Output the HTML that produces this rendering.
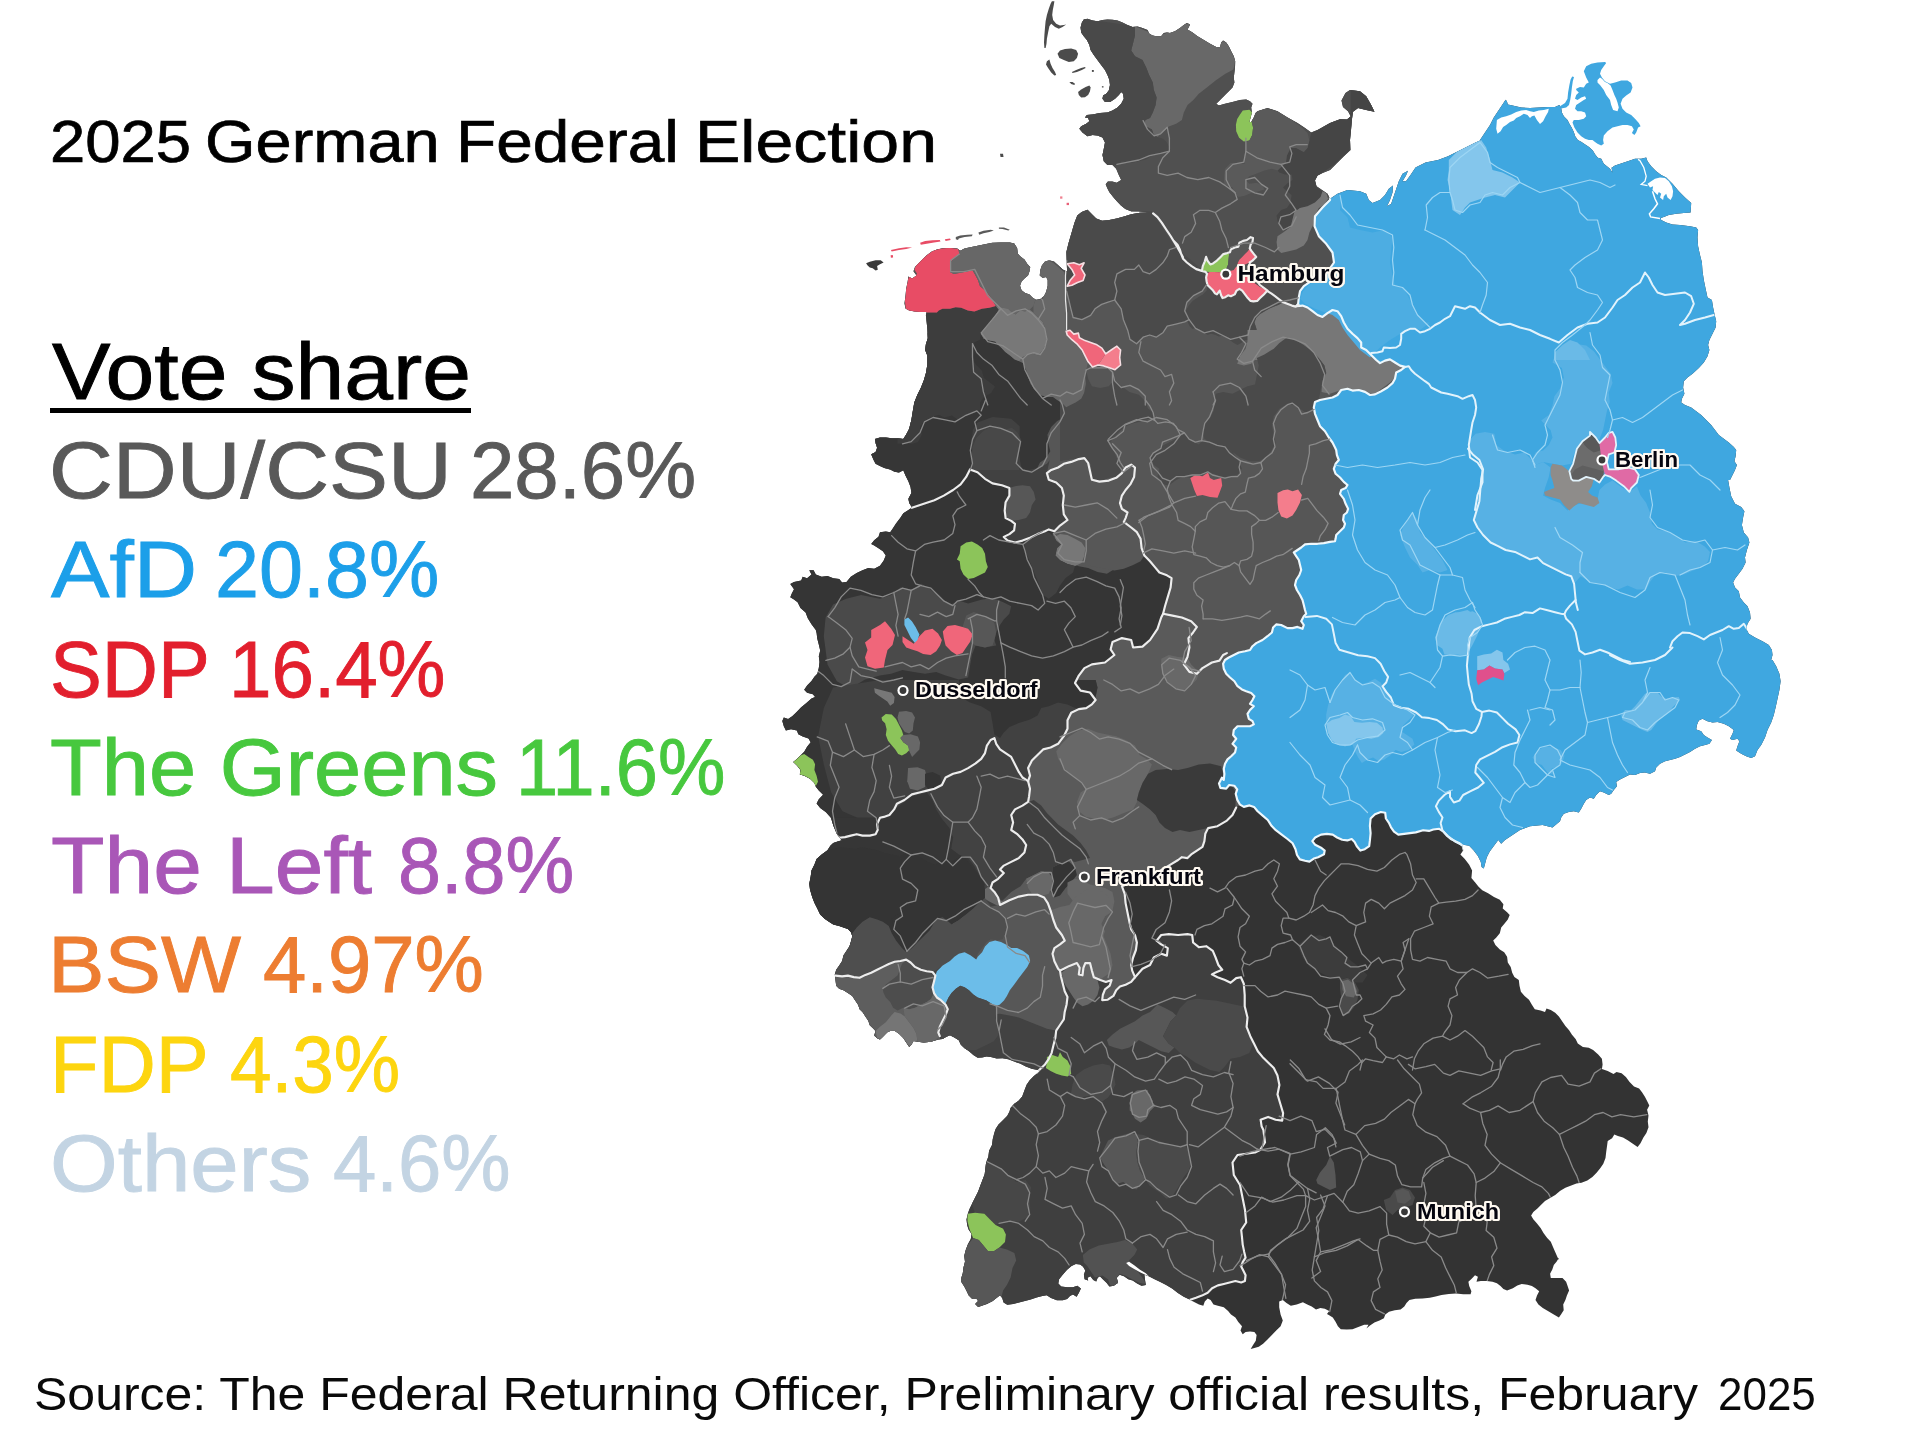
<!DOCTYPE html>
<html lang="en"><head><meta charset="utf-8"><title>2025 German Federal Election</title>
<style>
html,body{margin:0;padding:0;background:#fff;}
body{width:1920px;height:1451px;position:relative;overflow:hidden;font-family:"Liberation Sans",sans-serif;}
#map{position:absolute;left:0;top:0;width:1920px;height:1451px;}
.t{position:absolute;white-space:nowrap;line-height:1;transform-origin:0 0;-webkit-text-stroke:0.9px currentColor;}
.t0{-webkit-text-stroke:0.7px currentColor;}
#t10{-webkit-text-stroke:0;}
</style></head><body>
<svg id="map" viewBox="0 0 1920 1451" width="1920" height="1451">
<defs><clipPath id="ger"><polygon points="1083.8,19.4 1087.5,18.8 1092.5,20.6 1097.5,21.2 1102.5,20.0 1107.5,19.4 1112.5,19.8 1117.5,20.6 1122.5,22.5 1127.5,25.0 1132.5,26.9 1137.5,26.5 1142.5,28.1 1147.5,30.0 1149.4,33.8 1152.5,35.6 1156.2,36.2 1161.2,36.2 1163.8,33.1 1166.9,32.5 1170.0,33.1 1175.0,31.2 1180.0,28.1 1183.8,25.0 1186.9,23.1 1190.0,24.4 1188.8,26.9 1187.5,29.4 1192.5,32.5 1197.5,36.2 1203.8,40.0 1210.0,43.8 1216.2,46.9 1220.0,47.5 1221.2,42.5 1223.1,40.6 1226.2,42.5 1228.8,46.2 1231.2,51.2 1233.8,56.2 1235.2,61.2 1235.0,67.5 1234.4,72.5 1233.8,77.5 1234.4,82.5 1232.5,87.5 1227.5,92.5 1222.5,97.5 1218.8,101.2 1216.2,103.8 1218.8,105.6 1225.0,103.8 1232.5,101.9 1240.0,100.0 1246.2,99.4 1250.0,101.2 1252.5,103.8 1251.2,107.5 1251.9,112.5 1250.6,117.5 1249.4,121.9 1251.2,121.9 1253.8,117.5 1255.6,113.1 1257.5,111.2 1267.5,108.0 1277.5,111.2 1287.5,117.5 1297.5,123.0 1305.0,128.0 1311.2,132.5 1317.5,130.0 1330.0,123.0 1340.0,119.2 1347.0,119.5 1350.8,116.2 1348.0,111.2 1343.0,107.0 1341.5,100.5 1345.5,93.0 1350.0,90.0 1360.0,91.2 1366.2,96.2 1371.2,105.0 1374.5,111.8 1366.2,110.0 1358.0,108.0 1353.0,111.8 1352.0,118.8 1351.0,130.0 1350.0,140.0 1350.5,150.0 1343.8,156.2 1337.5,162.5 1330.0,170.0 1322.5,173.0 1317.5,175.5 1315.0,180.5 1316.5,186.2 1322.0,190.0 1327.5,193.8 1330.0,198.8 1337.5,193.8 1347.5,190.0 1360.0,191.2 1366.2,193.8 1368.8,200.0 1372.5,203.0 1380.0,200.0 1385.0,195.0 1388.8,188.8 1393.0,185.5 1392.5,192.5 1390.0,200.0 1387.0,206.2 1391.2,203.8 1395.0,192.5 1398.8,181.2 1402.5,173.8 1408.0,170.8 1406.0,175.5 1402.5,181.2 1406.0,181.2 1410.5,175.0 1415.5,167.5 1425.5,162.5 1438.0,160.0 1448.0,156.2 1458.0,151.2 1468.0,146.2 1475.5,142.5 1481.2,140.0 1480.0,140.0 1485.0,132.5 1490.0,125.0 1493.8,117.5 1498.8,110.0 1503.8,102.5 1505.6,99.8 1506.9,101.2 1507.8,104.4 1512.5,105.6 1521.2,107.5 1530.0,108.1 1538.8,107.5 1547.5,106.9 1555.0,106.9 1559.4,105.0 1561.2,108.1 1561.9,112.5 1563.8,116.2 1567.5,120.0 1569.4,123.8 1571.9,128.1 1573.8,131.9 1575.2,136.2 1577.8,140.0 1581.5,141.9 1585.2,144.4 1589.0,146.9 1592.8,150.6 1595.2,154.4 1597.8,157.8 1601.2,158.8 1603.8,163.8 1610.0,168.8 1612.5,172.5 1611.5,167.8 1615.0,165.6 1622.5,163.1 1630.0,160.6 1635.0,158.8 1641.2,158.8 1646.2,157.5 1647.5,161.2 1651.2,166.2 1656.2,171.2 1661.2,175.0 1666.2,177.5 1672.5,183.8 1678.8,191.2 1685.0,197.5 1691.2,203.1 1690.6,212.5 1683.8,213.1 1676.2,213.8 1668.8,215.0 1663.8,216.9 1660.6,218.1 1661.2,220.0 1666.2,222.5 1672.5,224.4 1680.0,225.0 1690.0,226.2 1696.2,227.5 1698.1,230.0 1697.5,237.5 1698.1,246.2 1700.0,255.0 1701.9,262.5 1702.5,271.2 1703.8,280.0 1705.6,288.8 1707.5,297.5 1711.9,300.0 1713.1,307.5 1714.4,313.8 1716.2,321.2 1715.6,327.5 1712.5,333.8 1709.4,340.0 1708.1,345.0 1709.4,350.0 1707.5,356.2 1703.8,362.5 1698.8,368.1 1692.5,373.8 1687.5,377.5 1683.8,381.2 1683.1,387.5 1684.4,393.8 1681.9,398.8 1681.2,402.5 1685.0,405.0 1691.2,407.5 1696.2,411.2 1701.2,415.0 1706.2,420.0 1711.2,425.0 1715.0,430.0 1718.8,435.0 1723.8,438.8 1728.8,442.5 1733.8,446.9 1736.2,450.0 1735.6,456.2 1734.4,461.2 1736.9,465.0 1735.0,470.0 1732.5,475.0 1730.0,480.0 1728.1,480.0 1729.4,487.5 1731.2,496.2 1735.0,503.8 1741.2,506.9 1744.4,511.2 1743.1,517.5 1741.9,525.0 1743.8,532.5 1748.1,537.5 1749.4,542.5 1746.9,550.0 1745.0,557.5 1745.6,562.5 1742.5,568.8 1738.8,573.8 1735.0,578.8 1733.1,582.5 1735.0,587.5 1738.8,591.2 1740.0,597.5 1743.8,602.5 1747.5,606.2 1750.0,612.5 1750.6,618.8 1747.5,623.8 1746.2,628.8 1748.8,633.8 1755.0,637.5 1762.5,641.2 1768.8,645.0 1771.9,650.0 1772.5,655.0 1771.2,660.0 1772.5,660.0 1776.2,666.2 1779.4,673.8 1780.6,681.2 1779.4,690.0 1777.5,698.8 1775.6,707.5 1773.8,715.0 1771.2,722.5 1767.5,730.0 1765.0,737.5 1761.2,745.0 1757.5,750.0 1755.0,756.2 1751.2,758.1 1746.2,756.2 1741.2,753.8 1736.2,750.6 1737.5,746.2 1739.4,741.2 1737.5,738.8 1732.5,740.0 1730.0,738.8 1732.5,733.8 1733.8,730.0 1728.8,726.2 1723.8,723.8 1717.5,721.9 1712.5,722.5 1707.5,721.2 1702.5,718.8 1698.8,720.6 1696.9,725.0 1696.2,729.4 1701.2,731.2 1703.8,735.0 1707.5,737.5 1711.9,740.0 1709.4,743.8 1705.0,745.0 1700.0,746.2 1695.0,748.8 1690.0,751.9 1685.0,754.4 1680.0,756.9 1675.0,758.8 1670.0,760.0 1665.0,761.2 1660.0,763.8 1656.2,767.5 1655.0,771.2 1650.0,773.8 1645.0,772.5 1640.0,773.1 1635.0,775.0 1630.0,774.4 1625.0,776.9 1620.0,779.4 1616.2,781.9 1616.9,786.2 1613.8,790.0 1611.2,793.8 1608.8,795.0 1603.8,792.5 1600.0,791.2 1596.2,795.0 1593.8,798.8 1590.0,797.5 1586.2,800.0 1583.8,803.8 1581.2,808.8 1578.8,812.5 1573.8,811.2 1568.8,811.9 1563.8,813.8 1561.2,817.5 1560.0,821.2 1560.0,821.2 1552.5,827.5 1542.5,825.0 1530.0,826.2 1520.0,830.0 1512.5,835.0 1505.0,840.0 1501.2,843.8 1498.3,840.0 1494.0,845.8 1489.6,851.7 1486.7,857.5 1485.2,863.3 1483.8,868.4 1481.6,867.0 1480.8,861.9 1477.9,856.0 1473.5,850.2 1469.2,845.8 1461.9,844.4 1463.3,850.2 1460.4,854.6 1464.8,859.0 1469.2,864.8 1472.1,870.6 1471.4,877.9 1475.0,882.3 1478.6,886.7 1482.3,890.3 1488.1,893.2 1494.0,896.9 1499.8,899.8 1503.4,904.2 1502.7,908.5 1507.1,912.2 1509.7,915.1 1507.8,919.5 1504.2,923.9 1501.2,927.5 1499.8,933.3 1496.1,937.7 1493.2,940.6 1495.4,945.0 1499.8,949.4 1504.2,952.3 1507.1,956.7 1507.8,962.5 1510.7,966.9 1512.2,972.7 1514.4,977.1 1518.8,980.0 1519.5,985.8 1520.9,991.7 1524.6,996.0 1529.0,999.7 1531.9,1004.8 1534.8,1009.2 1540.6,1010.6 1545.0,1012.1 1546.5,1008.4 1550.8,1009.9 1555.2,1012.8 1558.9,1016.5 1561.8,1020.8 1565.4,1025.9 1569.1,1030.3 1572.0,1034.7 1575.6,1039.1 1577.8,1043.4 1582.9,1047.1 1588.8,1047.8 1593.1,1050.0 1593.1,1050.0 1598.2,1054.4 1601.9,1058.8 1602.6,1064.6 1601.9,1069.0 1607.7,1071.1 1613.5,1074.1 1616.5,1071.9 1621.6,1073.3 1625.9,1077.0 1629.6,1082.1 1634.0,1086.5 1639.1,1088.6 1642.0,1092.3 1644.9,1096.7 1647.1,1101.0 1649.3,1105.4 1647.1,1109.8 1648.5,1115.6 1647.8,1121.5 1648.5,1127.3 1646.4,1133.1 1643.4,1137.5 1640.5,1143.3 1637.6,1147.0 1633.2,1144.1 1628.1,1140.4 1623.0,1137.5 1617.9,1136.0 1614.3,1134.6 1612.1,1138.2 1607.7,1141.1 1607.0,1146.2 1606.2,1152.1 1605.5,1157.9 1603.3,1163.8 1600.4,1168.1 1596.8,1172.5 1592.4,1176.9 1587.3,1180.5 1581.5,1182.7 1576.4,1183.4 1571.2,1185.6 1565.4,1187.8 1560.3,1190.7 1555.2,1195.1 1550.1,1198.0 1545.0,1200.9 1541.4,1204.6 1537.7,1208.2 1533.3,1211.9 1531.1,1215.5 1533.3,1219.2 1537.0,1223.5 1540.6,1227.9 1543.5,1233.0 1547.2,1238.1 1550.8,1241.8 1553.0,1246.9 1555.2,1252.0 1557.4,1257.1 1558.9,1260.0 1558.9,1257.7 1556.7,1261.4 1553.8,1265.0 1552.3,1269.4 1550.1,1273.8 1550.8,1278.1 1556.7,1278.1 1562.5,1278.1 1566.1,1281.8 1567.6,1286.1 1569.1,1290.5 1566.9,1295.6 1565.4,1300.0 1563.2,1304.4 1563.7,1310.2 1561.0,1314.6 1558.9,1317.5 1553.8,1314.6 1547.9,1310.9 1542.8,1308.0 1538.4,1304.4 1535.5,1300.0 1537.0,1295.6 1539.2,1291.2 1535.5,1288.3 1531.9,1286.1 1527.5,1284.7 1521.7,1284.0 1517.3,1285.4 1512.9,1288.3 1507.1,1290.5 1503.4,1289.1 1500.5,1286.1 1496.9,1283.2 1492.5,1281.8 1486.7,1281.0 1480.8,1281.0 1476.5,1281.8 1477.9,1276.7 1475.0,1275.2 1471.4,1278.9 1468.4,1281.8 1469.2,1286.1 1471.4,1291.2 1470.6,1294.2 1463.3,1294.2 1456.0,1293.4 1448.8,1293.9 1441.5,1294.9 1435.6,1296.4 1429.8,1297.8 1422.5,1298.5 1415.2,1298.8 1409.4,1300.0 1406.5,1302.9 1404.3,1306.6 1400.6,1309.5 1394.8,1310.2 1389.0,1311.7 1385.3,1314.6 1383.9,1318.2 1379.5,1320.4 1374.4,1322.6 1370.0,1325.5 1366.4,1328.4 1368.5,1324.8 1364.2,1324.8 1358.3,1327.0 1352.5,1329.2 1346.7,1329.6 1340.8,1329.2 1337.9,1326.2 1335.7,1321.9 1332.8,1317.5 1329.2,1315.3 1327.0,1313.9 1329.2,1310.9 1324.8,1308.8 1320.4,1308.0 1316.0,1309.5 1311.7,1306.6 1307.3,1304.4 1302.9,1302.2 1296.7,1304.4 1290.8,1305.8 1286.5,1302.9 1282.8,1300.0 1279.2,1301.5 1279.2,1307.3 1280.6,1314.6 1282.8,1320.4 1280.6,1326.2 1276.2,1330.6 1271.9,1335.0 1267.5,1339.4 1263.1,1343.8 1258.8,1346.7 1254.4,1348.1 1250.7,1348.9 1252.9,1345.2 1255.8,1340.8 1256.6,1335.0 1254.4,1332.1 1250.0,1331.4 1245.6,1332.1 1242.7,1334.3 1240.5,1330.6 1242.0,1326.2 1238.3,1321.9 1235.4,1317.5 1231.0,1314.6 1228.1,1310.9 1223.8,1307.3 1217.9,1305.8 1213.5,1304.4 1210.6,1300.0 1207.7,1298.5 1204.8,1301.5 1203.3,1305.8 1199.0,1304.4 1194.6,1302.2 1190.2,1300.0 1189.6,1299.6 1183.8,1296.7 1177.9,1293.0 1172.1,1288.6 1166.2,1285.0 1160.4,1282.1 1154.6,1279.2 1148.8,1276.2 1144.4,1274.8 1145.1,1280.6 1145.8,1285.0 1141.5,1285.7 1137.1,1283.5 1132.7,1280.6 1128.3,1279.2 1124.0,1276.2 1119.6,1274.8 1116.7,1277.7 1118.1,1282.8 1113.8,1285.7 1109.4,1286.5 1106.5,1282.8 1102.8,1279.2 1099.9,1276.2 1097.7,1277.7 1096.2,1281.4 1093.3,1279.9 1090.4,1276.2 1087.5,1277.7 1088.2,1280.6 1084.6,1279.2 1083.9,1274.8 1085.3,1270.4 1083.1,1266.8 1080.2,1264.6 1075.8,1263.9 1071.5,1266.0 1067.1,1269.7 1062.7,1274.8 1059.1,1279.2 1058.3,1283.5 1061.2,1286.5 1067.1,1287.2 1072.9,1287.2 1077.3,1285.7 1080.9,1288.6 1078.8,1293.0 1076.6,1296.7 1072.9,1294.5 1070.0,1295.9 1067.1,1298.9 1062.7,1300.3 1056.9,1300.3 1051.0,1298.1 1046.7,1295.2 1042.3,1295.9 1036.5,1297.4 1030.6,1299.6 1024.8,1301.0 1019.0,1302.5 1013.1,1304.0 1007.3,1304.7 1003.6,1302.5 1002.2,1298.1 1000.0,1295.2 997.1,1297.4 992.7,1301.0 986.9,1304.0 981.0,1306.1 978.1,1306.9 975.2,1304.0 978.1,1301.0 976.7,1298.9 972.3,1298.9 968.6,1295.2 966.5,1290.8 964.3,1286.5 961.4,1282.1 961.4,1277.7 962.8,1273.3 963.5,1267.5 965.0,1261.7 964.3,1255.8 965.7,1250.0 967.9,1244.2 970.8,1239.1 971.6,1234.0 968.6,1229.6 967.2,1225.2 966.5,1219.4 967.9,1213.5 969.4,1209.2 972.3,1203.3 975.2,1197.5 978.1,1191.7 980.3,1185.8 982.5,1180.0 984.7,1174.2 985.4,1168.3 986.1,1162.5 988.3,1156.7 989.1,1150.8 992.0,1145.0 992.7,1139.2 994.2,1133.3 995.6,1129.0 998.5,1124.6 1002.9,1120.2 1007.3,1115.8 1009.5,1111.5 1010.5,1108.1 1014.2,1103.8 1018.5,1100.8 1022.2,1096.5 1024.4,1090.6 1026.6,1084.8 1029.5,1080.4 1033.9,1076.0 1038.2,1072.4 1040.4,1070.2 1037.5,1069.9 1031.7,1068.8 1025.8,1066.6 1020.0,1063.6 1014.2,1061.5 1008.3,1059.3 1002.5,1058.2 996.7,1058.5 990.8,1057.1 986.5,1056.4 982.1,1057.4 977.7,1057.8 973.3,1054.9 969.0,1051.2 964.6,1048.3 960.9,1044.7 958.8,1040.3 954.4,1037.4 950.0,1035.2 946.4,1036.7 942.7,1038.9 938.3,1039.6 931.0,1041.8 923.8,1042.5 917.9,1041.8 913.5,1041.0 911.4,1044.7 909.2,1046.9 906.2,1042.5 903.3,1038.1 899.0,1033.8 894.6,1030.8 890.2,1031.1 887.3,1032.3 882.9,1036.7 880.0,1039.6 877.1,1038.3 874.2,1035.4 875.6,1031.0 872.7,1028.1 869.8,1025.2 868.3,1020.8 865.4,1016.5 862.5,1012.1 859.6,1009.2 858.1,1004.8 855.2,1000.4 852.3,996.0 847.9,993.1 843.5,990.2 839.2,988.8 836.2,985.8 835.5,980.0 834.8,974.2 836.2,969.8 839.2,965.4 842.1,961.0 843.5,955.2 846.5,950.8 849.4,946.5 850.8,942.1 852.3,936.2 850.8,931.9 847.9,929.0 843.5,927.5 839.2,926.0 833.3,924.6 829.0,921.7 824.6,918.8 820.2,914.4 817.3,908.5 814.4,902.7 812.2,896.9 810.0,889.6 809.3,883.8 810.7,876.5 811.5,870.6 814.4,864.8 816.6,859.0 821.7,854.6 827.5,850.2 830.4,845.8 833.3,842.9 837.7,841.5 842.8,840.0 841.4,840.0 837.0,834.2 833.3,825.4 831.1,818.1 826.0,812.3 820.2,807.9 816.6,803.5 818.8,799.2 823.1,794.8 818.8,790.4 815.8,786.8 814.4,783.1 810.0,778.8 804.2,775.8 799.8,774.4 800.5,770.0 796.9,765.6 793.2,762.0 796.9,759.1 800.5,755.4 804.2,751.8 807.1,746.7 810.7,742.3 808.5,738.6 802.7,736.5 798.3,734.3 796.9,730.6 791.0,729.2 785.9,730.6 783.8,726.2 782.3,721.1 783.8,717.5 788.1,719.0 792.5,716.0 796.9,711.7 801.2,707.3 806.4,702.9 811.5,698.5 815.1,697.1 812.9,694.2 807.1,692.7 804.2,689.8 807.1,685.4 811.5,681.0 814.4,676.7 817.3,673.8 818.8,667.9 819.5,662.1 818.8,656.2 820.2,650.4 818.8,644.6 817.3,638.8 816.6,632.9 815.8,630.0 811.5,624.2 807.8,618.3 805.6,612.5 800.5,608.1 797.6,602.3 794.0,599.4 790.3,597.2 791.8,593.5 794.0,589.2 790.3,584.1 794.0,581.9 801.2,580.4 802.7,576.8 807.1,578.2 811.5,574.6 809.3,570.2 813.6,570.2 815.8,574.6 821.7,576.8 827.5,576.0 833.3,578.2 839.2,579.0 842.1,582.6 846.5,581.9 850.8,576.8 856.7,573.1 862.5,570.2 868.3,568.0 874.2,568.8 880.0,565.8 883.6,560.7 885.8,555.6 882.9,551.2 878.5,548.3 874.2,545.4 871.2,544.0 874.2,540.3 878.5,536.7 880.0,532.3 885.8,531.6 890.2,532.3 893.1,527.9 896.0,523.5 900.4,517.7 903.3,513.3 907.7,510.4 912.1,507.5 909.2,503.1 908.4,498.8 911.4,492.9 910.6,487.1 908.4,481.2 905.5,475.4 903.3,470.3 899.0,472.5 894.6,471.8 890.2,469.6 884.4,468.1 880.0,465.9 875.6,463.8 873.4,459.4 871.2,454.3 875.6,452.1 877.1,447.7 875.6,443.3 874.9,439.0 880.0,437.5 885.8,437.5 891.7,438.2 897.5,438.2 903.3,439.0 906.2,434.6 909.2,428.8 910.6,422.9 911.4,420.0 912.8,411.2 914.3,402.5 917.2,395.2 920.8,387.9 923.8,380.6 925.9,373.3 927.4,364.6 927.4,355.8 925.2,350.0 925.9,344.2 927.8,338.3 927.4,329.6 926.7,322.3 925.9,315.0 926.7,312.1 920.8,312.1 915.0,311.4 909.2,310.6 905.5,308.4 904.5,303.3 905.5,296.0 906.2,288.8 907.7,281.5 908.4,276.4 912.1,278.5 916.5,275.6 913.5,271.2 915.0,266.9 918.6,263.2 922.3,259.6 926.7,255.2 931.8,251.6 936.9,249.4 942.7,248.2 950.0,247.9 957.3,248.6 960.2,250.8 964.6,248.6 970.4,247.2 977.7,245.7 985.0,244.3 992.3,242.8 1001.0,242.4 1009.8,242.4 1014.2,243.5 1017.1,247.9 1017.8,253.8 1020.7,256.7 1024.4,259.6 1027.3,264.0 1030.2,266.9 1029.5,271.2 1028.0,275.6 1024.4,278.5 1021.5,281.5 1020.0,285.8 1021.5,290.2 1025.1,293.1 1029.5,294.6 1032.4,297.5 1036.0,299.7 1040.4,299.0 1044.1,296.0 1046.2,291.7 1047.7,285.8 1047.7,280.0 1046.2,277.1 1042.6,277.8 1039.7,275.6 1040.4,269.8 1041.9,265.4 1044.8,261.8 1049.2,260.3 1049.0,260.2 1054.0,261.6 1058.3,265.2 1062.7,269.6 1067.1,271.8 1066.4,252.1 1068.5,243.3 1071.5,233.1 1074.4,222.9 1077.3,215.6 1081.7,212.0 1087.5,209.8 1091.9,214.2 1096.2,218.5 1102.1,220.7 1109.4,220.0 1116.7,218.5 1124.0,216.4 1131.2,214.2 1140.0,212.7 1147.3,212.4 1153.1,213.4 1145.8,212.0 1138.5,211.2 1131.2,211.2 1125.4,209.1 1121.0,205.4 1116.7,201.0 1113.0,196.7 1109.4,192.3 1107.2,187.9 1105.7,184.3 1107.9,181.4 1112.3,181.4 1116.7,182.8 1120.3,180.6 1121.2,180.0 1118.8,175.0 1116.2,168.8 1112.5,165.0 1107.5,165.0 1103.8,161.2 1102.5,155.0 1103.8,148.8 1105.0,142.5 1102.5,137.5 1097.5,135.6 1092.5,135.0 1087.5,136.2 1082.5,132.5 1079.4,128.8 1081.2,126.2 1086.2,123.8 1089.4,121.2 1088.1,118.1 1085.0,117.5 1086.9,115.0 1092.5,114.4 1100.0,113.1 1107.5,112.5 1112.5,110.6 1117.5,107.5 1121.2,103.8 1123.8,98.8 1123.1,93.8 1121.2,91.9 1118.8,95.0 1115.0,98.8 1110.0,101.9 1105.0,101.9 1102.5,98.8 1103.1,95.6 1106.2,93.8 1108.8,90.6 1110.0,85.0 1109.4,80.0 1107.5,75.0 1105.0,70.0 1101.2,65.0 1097.5,60.0 1093.8,55.0 1090.6,50.0 1089.4,45.0 1086.9,40.0 1083.8,36.2 1081.2,32.5 1080.6,27.5 1081.9,22.5 1083.8,19.4"/></clipPath></defs>
<polygon points="1083.8,19.4 1087.5,18.8 1092.5,20.6 1097.5,21.2 1102.5,20.0 1107.5,19.4 1112.5,19.8 1117.5,20.6 1122.5,22.5 1127.5,25.0 1132.5,26.9 1137.5,26.5 1142.5,28.1 1147.5,30.0 1149.4,33.8 1152.5,35.6 1156.2,36.2 1161.2,36.2 1163.8,33.1 1166.9,32.5 1170.0,33.1 1175.0,31.2 1180.0,28.1 1183.8,25.0 1186.9,23.1 1190.0,24.4 1188.8,26.9 1187.5,29.4 1192.5,32.5 1197.5,36.2 1203.8,40.0 1210.0,43.8 1216.2,46.9 1220.0,47.5 1221.2,42.5 1223.1,40.6 1226.2,42.5 1228.8,46.2 1231.2,51.2 1233.8,56.2 1235.2,61.2 1235.0,67.5 1234.4,72.5 1233.8,77.5 1234.4,82.5 1232.5,87.5 1227.5,92.5 1222.5,97.5 1218.8,101.2 1216.2,103.8 1218.8,105.6 1225.0,103.8 1232.5,101.9 1240.0,100.0 1246.2,99.4 1250.0,101.2 1252.5,103.8 1251.2,107.5 1251.9,112.5 1250.6,117.5 1249.4,121.9 1251.2,121.9 1253.8,117.5 1255.6,113.1 1257.5,111.2 1267.5,108.0 1277.5,111.2 1287.5,117.5 1297.5,123.0 1305.0,128.0 1311.2,132.5 1317.5,130.0 1330.0,123.0 1340.0,119.2 1347.0,119.5 1350.8,116.2 1348.0,111.2 1343.0,107.0 1341.5,100.5 1345.5,93.0 1350.0,90.0 1360.0,91.2 1366.2,96.2 1371.2,105.0 1374.5,111.8 1366.2,110.0 1358.0,108.0 1353.0,111.8 1352.0,118.8 1351.0,130.0 1350.0,140.0 1350.5,150.0 1343.8,156.2 1337.5,162.5 1330.0,170.0 1322.5,173.0 1317.5,175.5 1315.0,180.5 1316.5,186.2 1322.0,190.0 1327.5,193.8 1330.0,198.8 1337.5,193.8 1347.5,190.0 1360.0,191.2 1366.2,193.8 1368.8,200.0 1372.5,203.0 1380.0,200.0 1385.0,195.0 1388.8,188.8 1393.0,185.5 1392.5,192.5 1390.0,200.0 1387.0,206.2 1391.2,203.8 1395.0,192.5 1398.8,181.2 1402.5,173.8 1408.0,170.8 1406.0,175.5 1402.5,181.2 1406.0,181.2 1410.5,175.0 1415.5,167.5 1425.5,162.5 1438.0,160.0 1448.0,156.2 1458.0,151.2 1468.0,146.2 1475.5,142.5 1481.2,140.0 1480.0,140.0 1485.0,132.5 1490.0,125.0 1493.8,117.5 1498.8,110.0 1503.8,102.5 1505.6,99.8 1506.9,101.2 1507.8,104.4 1512.5,105.6 1521.2,107.5 1530.0,108.1 1538.8,107.5 1547.5,106.9 1555.0,106.9 1559.4,105.0 1561.2,108.1 1561.9,112.5 1563.8,116.2 1567.5,120.0 1569.4,123.8 1571.9,128.1 1573.8,131.9 1575.2,136.2 1577.8,140.0 1581.5,141.9 1585.2,144.4 1589.0,146.9 1592.8,150.6 1595.2,154.4 1597.8,157.8 1601.2,158.8 1603.8,163.8 1610.0,168.8 1612.5,172.5 1611.5,167.8 1615.0,165.6 1622.5,163.1 1630.0,160.6 1635.0,158.8 1641.2,158.8 1646.2,157.5 1647.5,161.2 1651.2,166.2 1656.2,171.2 1661.2,175.0 1666.2,177.5 1672.5,183.8 1678.8,191.2 1685.0,197.5 1691.2,203.1 1690.6,212.5 1683.8,213.1 1676.2,213.8 1668.8,215.0 1663.8,216.9 1660.6,218.1 1661.2,220.0 1666.2,222.5 1672.5,224.4 1680.0,225.0 1690.0,226.2 1696.2,227.5 1698.1,230.0 1697.5,237.5 1698.1,246.2 1700.0,255.0 1701.9,262.5 1702.5,271.2 1703.8,280.0 1705.6,288.8 1707.5,297.5 1711.9,300.0 1713.1,307.5 1714.4,313.8 1716.2,321.2 1715.6,327.5 1712.5,333.8 1709.4,340.0 1708.1,345.0 1709.4,350.0 1707.5,356.2 1703.8,362.5 1698.8,368.1 1692.5,373.8 1687.5,377.5 1683.8,381.2 1683.1,387.5 1684.4,393.8 1681.9,398.8 1681.2,402.5 1685.0,405.0 1691.2,407.5 1696.2,411.2 1701.2,415.0 1706.2,420.0 1711.2,425.0 1715.0,430.0 1718.8,435.0 1723.8,438.8 1728.8,442.5 1733.8,446.9 1736.2,450.0 1735.6,456.2 1734.4,461.2 1736.9,465.0 1735.0,470.0 1732.5,475.0 1730.0,480.0 1728.1,480.0 1729.4,487.5 1731.2,496.2 1735.0,503.8 1741.2,506.9 1744.4,511.2 1743.1,517.5 1741.9,525.0 1743.8,532.5 1748.1,537.5 1749.4,542.5 1746.9,550.0 1745.0,557.5 1745.6,562.5 1742.5,568.8 1738.8,573.8 1735.0,578.8 1733.1,582.5 1735.0,587.5 1738.8,591.2 1740.0,597.5 1743.8,602.5 1747.5,606.2 1750.0,612.5 1750.6,618.8 1747.5,623.8 1746.2,628.8 1748.8,633.8 1755.0,637.5 1762.5,641.2 1768.8,645.0 1771.9,650.0 1772.5,655.0 1771.2,660.0 1772.5,660.0 1776.2,666.2 1779.4,673.8 1780.6,681.2 1779.4,690.0 1777.5,698.8 1775.6,707.5 1773.8,715.0 1771.2,722.5 1767.5,730.0 1765.0,737.5 1761.2,745.0 1757.5,750.0 1755.0,756.2 1751.2,758.1 1746.2,756.2 1741.2,753.8 1736.2,750.6 1737.5,746.2 1739.4,741.2 1737.5,738.8 1732.5,740.0 1730.0,738.8 1732.5,733.8 1733.8,730.0 1728.8,726.2 1723.8,723.8 1717.5,721.9 1712.5,722.5 1707.5,721.2 1702.5,718.8 1698.8,720.6 1696.9,725.0 1696.2,729.4 1701.2,731.2 1703.8,735.0 1707.5,737.5 1711.9,740.0 1709.4,743.8 1705.0,745.0 1700.0,746.2 1695.0,748.8 1690.0,751.9 1685.0,754.4 1680.0,756.9 1675.0,758.8 1670.0,760.0 1665.0,761.2 1660.0,763.8 1656.2,767.5 1655.0,771.2 1650.0,773.8 1645.0,772.5 1640.0,773.1 1635.0,775.0 1630.0,774.4 1625.0,776.9 1620.0,779.4 1616.2,781.9 1616.9,786.2 1613.8,790.0 1611.2,793.8 1608.8,795.0 1603.8,792.5 1600.0,791.2 1596.2,795.0 1593.8,798.8 1590.0,797.5 1586.2,800.0 1583.8,803.8 1581.2,808.8 1578.8,812.5 1573.8,811.2 1568.8,811.9 1563.8,813.8 1561.2,817.5 1560.0,821.2 1560.0,821.2 1552.5,827.5 1542.5,825.0 1530.0,826.2 1520.0,830.0 1512.5,835.0 1505.0,840.0 1501.2,843.8 1498.3,840.0 1494.0,845.8 1489.6,851.7 1486.7,857.5 1485.2,863.3 1483.8,868.4 1481.6,867.0 1480.8,861.9 1477.9,856.0 1473.5,850.2 1469.2,845.8 1461.9,844.4 1463.3,850.2 1460.4,854.6 1464.8,859.0 1469.2,864.8 1472.1,870.6 1471.4,877.9 1475.0,882.3 1478.6,886.7 1482.3,890.3 1488.1,893.2 1494.0,896.9 1499.8,899.8 1503.4,904.2 1502.7,908.5 1507.1,912.2 1509.7,915.1 1507.8,919.5 1504.2,923.9 1501.2,927.5 1499.8,933.3 1496.1,937.7 1493.2,940.6 1495.4,945.0 1499.8,949.4 1504.2,952.3 1507.1,956.7 1507.8,962.5 1510.7,966.9 1512.2,972.7 1514.4,977.1 1518.8,980.0 1519.5,985.8 1520.9,991.7 1524.6,996.0 1529.0,999.7 1531.9,1004.8 1534.8,1009.2 1540.6,1010.6 1545.0,1012.1 1546.5,1008.4 1550.8,1009.9 1555.2,1012.8 1558.9,1016.5 1561.8,1020.8 1565.4,1025.9 1569.1,1030.3 1572.0,1034.7 1575.6,1039.1 1577.8,1043.4 1582.9,1047.1 1588.8,1047.8 1593.1,1050.0 1593.1,1050.0 1598.2,1054.4 1601.9,1058.8 1602.6,1064.6 1601.9,1069.0 1607.7,1071.1 1613.5,1074.1 1616.5,1071.9 1621.6,1073.3 1625.9,1077.0 1629.6,1082.1 1634.0,1086.5 1639.1,1088.6 1642.0,1092.3 1644.9,1096.7 1647.1,1101.0 1649.3,1105.4 1647.1,1109.8 1648.5,1115.6 1647.8,1121.5 1648.5,1127.3 1646.4,1133.1 1643.4,1137.5 1640.5,1143.3 1637.6,1147.0 1633.2,1144.1 1628.1,1140.4 1623.0,1137.5 1617.9,1136.0 1614.3,1134.6 1612.1,1138.2 1607.7,1141.1 1607.0,1146.2 1606.2,1152.1 1605.5,1157.9 1603.3,1163.8 1600.4,1168.1 1596.8,1172.5 1592.4,1176.9 1587.3,1180.5 1581.5,1182.7 1576.4,1183.4 1571.2,1185.6 1565.4,1187.8 1560.3,1190.7 1555.2,1195.1 1550.1,1198.0 1545.0,1200.9 1541.4,1204.6 1537.7,1208.2 1533.3,1211.9 1531.1,1215.5 1533.3,1219.2 1537.0,1223.5 1540.6,1227.9 1543.5,1233.0 1547.2,1238.1 1550.8,1241.8 1553.0,1246.9 1555.2,1252.0 1557.4,1257.1 1558.9,1260.0 1558.9,1257.7 1556.7,1261.4 1553.8,1265.0 1552.3,1269.4 1550.1,1273.8 1550.8,1278.1 1556.7,1278.1 1562.5,1278.1 1566.1,1281.8 1567.6,1286.1 1569.1,1290.5 1566.9,1295.6 1565.4,1300.0 1563.2,1304.4 1563.7,1310.2 1561.0,1314.6 1558.9,1317.5 1553.8,1314.6 1547.9,1310.9 1542.8,1308.0 1538.4,1304.4 1535.5,1300.0 1537.0,1295.6 1539.2,1291.2 1535.5,1288.3 1531.9,1286.1 1527.5,1284.7 1521.7,1284.0 1517.3,1285.4 1512.9,1288.3 1507.1,1290.5 1503.4,1289.1 1500.5,1286.1 1496.9,1283.2 1492.5,1281.8 1486.7,1281.0 1480.8,1281.0 1476.5,1281.8 1477.9,1276.7 1475.0,1275.2 1471.4,1278.9 1468.4,1281.8 1469.2,1286.1 1471.4,1291.2 1470.6,1294.2 1463.3,1294.2 1456.0,1293.4 1448.8,1293.9 1441.5,1294.9 1435.6,1296.4 1429.8,1297.8 1422.5,1298.5 1415.2,1298.8 1409.4,1300.0 1406.5,1302.9 1404.3,1306.6 1400.6,1309.5 1394.8,1310.2 1389.0,1311.7 1385.3,1314.6 1383.9,1318.2 1379.5,1320.4 1374.4,1322.6 1370.0,1325.5 1366.4,1328.4 1368.5,1324.8 1364.2,1324.8 1358.3,1327.0 1352.5,1329.2 1346.7,1329.6 1340.8,1329.2 1337.9,1326.2 1335.7,1321.9 1332.8,1317.5 1329.2,1315.3 1327.0,1313.9 1329.2,1310.9 1324.8,1308.8 1320.4,1308.0 1316.0,1309.5 1311.7,1306.6 1307.3,1304.4 1302.9,1302.2 1296.7,1304.4 1290.8,1305.8 1286.5,1302.9 1282.8,1300.0 1279.2,1301.5 1279.2,1307.3 1280.6,1314.6 1282.8,1320.4 1280.6,1326.2 1276.2,1330.6 1271.9,1335.0 1267.5,1339.4 1263.1,1343.8 1258.8,1346.7 1254.4,1348.1 1250.7,1348.9 1252.9,1345.2 1255.8,1340.8 1256.6,1335.0 1254.4,1332.1 1250.0,1331.4 1245.6,1332.1 1242.7,1334.3 1240.5,1330.6 1242.0,1326.2 1238.3,1321.9 1235.4,1317.5 1231.0,1314.6 1228.1,1310.9 1223.8,1307.3 1217.9,1305.8 1213.5,1304.4 1210.6,1300.0 1207.7,1298.5 1204.8,1301.5 1203.3,1305.8 1199.0,1304.4 1194.6,1302.2 1190.2,1300.0 1189.6,1299.6 1183.8,1296.7 1177.9,1293.0 1172.1,1288.6 1166.2,1285.0 1160.4,1282.1 1154.6,1279.2 1148.8,1276.2 1144.4,1274.8 1145.1,1280.6 1145.8,1285.0 1141.5,1285.7 1137.1,1283.5 1132.7,1280.6 1128.3,1279.2 1124.0,1276.2 1119.6,1274.8 1116.7,1277.7 1118.1,1282.8 1113.8,1285.7 1109.4,1286.5 1106.5,1282.8 1102.8,1279.2 1099.9,1276.2 1097.7,1277.7 1096.2,1281.4 1093.3,1279.9 1090.4,1276.2 1087.5,1277.7 1088.2,1280.6 1084.6,1279.2 1083.9,1274.8 1085.3,1270.4 1083.1,1266.8 1080.2,1264.6 1075.8,1263.9 1071.5,1266.0 1067.1,1269.7 1062.7,1274.8 1059.1,1279.2 1058.3,1283.5 1061.2,1286.5 1067.1,1287.2 1072.9,1287.2 1077.3,1285.7 1080.9,1288.6 1078.8,1293.0 1076.6,1296.7 1072.9,1294.5 1070.0,1295.9 1067.1,1298.9 1062.7,1300.3 1056.9,1300.3 1051.0,1298.1 1046.7,1295.2 1042.3,1295.9 1036.5,1297.4 1030.6,1299.6 1024.8,1301.0 1019.0,1302.5 1013.1,1304.0 1007.3,1304.7 1003.6,1302.5 1002.2,1298.1 1000.0,1295.2 997.1,1297.4 992.7,1301.0 986.9,1304.0 981.0,1306.1 978.1,1306.9 975.2,1304.0 978.1,1301.0 976.7,1298.9 972.3,1298.9 968.6,1295.2 966.5,1290.8 964.3,1286.5 961.4,1282.1 961.4,1277.7 962.8,1273.3 963.5,1267.5 965.0,1261.7 964.3,1255.8 965.7,1250.0 967.9,1244.2 970.8,1239.1 971.6,1234.0 968.6,1229.6 967.2,1225.2 966.5,1219.4 967.9,1213.5 969.4,1209.2 972.3,1203.3 975.2,1197.5 978.1,1191.7 980.3,1185.8 982.5,1180.0 984.7,1174.2 985.4,1168.3 986.1,1162.5 988.3,1156.7 989.1,1150.8 992.0,1145.0 992.7,1139.2 994.2,1133.3 995.6,1129.0 998.5,1124.6 1002.9,1120.2 1007.3,1115.8 1009.5,1111.5 1010.5,1108.1 1014.2,1103.8 1018.5,1100.8 1022.2,1096.5 1024.4,1090.6 1026.6,1084.8 1029.5,1080.4 1033.9,1076.0 1038.2,1072.4 1040.4,1070.2 1037.5,1069.9 1031.7,1068.8 1025.8,1066.6 1020.0,1063.6 1014.2,1061.5 1008.3,1059.3 1002.5,1058.2 996.7,1058.5 990.8,1057.1 986.5,1056.4 982.1,1057.4 977.7,1057.8 973.3,1054.9 969.0,1051.2 964.6,1048.3 960.9,1044.7 958.8,1040.3 954.4,1037.4 950.0,1035.2 946.4,1036.7 942.7,1038.9 938.3,1039.6 931.0,1041.8 923.8,1042.5 917.9,1041.8 913.5,1041.0 911.4,1044.7 909.2,1046.9 906.2,1042.5 903.3,1038.1 899.0,1033.8 894.6,1030.8 890.2,1031.1 887.3,1032.3 882.9,1036.7 880.0,1039.6 877.1,1038.3 874.2,1035.4 875.6,1031.0 872.7,1028.1 869.8,1025.2 868.3,1020.8 865.4,1016.5 862.5,1012.1 859.6,1009.2 858.1,1004.8 855.2,1000.4 852.3,996.0 847.9,993.1 843.5,990.2 839.2,988.8 836.2,985.8 835.5,980.0 834.8,974.2 836.2,969.8 839.2,965.4 842.1,961.0 843.5,955.2 846.5,950.8 849.4,946.5 850.8,942.1 852.3,936.2 850.8,931.9 847.9,929.0 843.5,927.5 839.2,926.0 833.3,924.6 829.0,921.7 824.6,918.8 820.2,914.4 817.3,908.5 814.4,902.7 812.2,896.9 810.0,889.6 809.3,883.8 810.7,876.5 811.5,870.6 814.4,864.8 816.6,859.0 821.7,854.6 827.5,850.2 830.4,845.8 833.3,842.9 837.7,841.5 842.8,840.0 841.4,840.0 837.0,834.2 833.3,825.4 831.1,818.1 826.0,812.3 820.2,807.9 816.6,803.5 818.8,799.2 823.1,794.8 818.8,790.4 815.8,786.8 814.4,783.1 810.0,778.8 804.2,775.8 799.8,774.4 800.5,770.0 796.9,765.6 793.2,762.0 796.9,759.1 800.5,755.4 804.2,751.8 807.1,746.7 810.7,742.3 808.5,738.6 802.7,736.5 798.3,734.3 796.9,730.6 791.0,729.2 785.9,730.6 783.8,726.2 782.3,721.1 783.8,717.5 788.1,719.0 792.5,716.0 796.9,711.7 801.2,707.3 806.4,702.9 811.5,698.5 815.1,697.1 812.9,694.2 807.1,692.7 804.2,689.8 807.1,685.4 811.5,681.0 814.4,676.7 817.3,673.8 818.8,667.9 819.5,662.1 818.8,656.2 820.2,650.4 818.8,644.6 817.3,638.8 816.6,632.9 815.8,630.0 811.5,624.2 807.8,618.3 805.6,612.5 800.5,608.1 797.6,602.3 794.0,599.4 790.3,597.2 791.8,593.5 794.0,589.2 790.3,584.1 794.0,581.9 801.2,580.4 802.7,576.8 807.1,578.2 811.5,574.6 809.3,570.2 813.6,570.2 815.8,574.6 821.7,576.8 827.5,576.0 833.3,578.2 839.2,579.0 842.1,582.6 846.5,581.9 850.8,576.8 856.7,573.1 862.5,570.2 868.3,568.0 874.2,568.8 880.0,565.8 883.6,560.7 885.8,555.6 882.9,551.2 878.5,548.3 874.2,545.4 871.2,544.0 874.2,540.3 878.5,536.7 880.0,532.3 885.8,531.6 890.2,532.3 893.1,527.9 896.0,523.5 900.4,517.7 903.3,513.3 907.7,510.4 912.1,507.5 909.2,503.1 908.4,498.8 911.4,492.9 910.6,487.1 908.4,481.2 905.5,475.4 903.3,470.3 899.0,472.5 894.6,471.8 890.2,469.6 884.4,468.1 880.0,465.9 875.6,463.8 873.4,459.4 871.2,454.3 875.6,452.1 877.1,447.7 875.6,443.3 874.9,439.0 880.0,437.5 885.8,437.5 891.7,438.2 897.5,438.2 903.3,439.0 906.2,434.6 909.2,428.8 910.6,422.9 911.4,420.0 912.8,411.2 914.3,402.5 917.2,395.2 920.8,387.9 923.8,380.6 925.9,373.3 927.4,364.6 927.4,355.8 925.2,350.0 925.9,344.2 927.8,338.3 927.4,329.6 926.7,322.3 925.9,315.0 926.7,312.1 920.8,312.1 915.0,311.4 909.2,310.6 905.5,308.4 904.5,303.3 905.5,296.0 906.2,288.8 907.7,281.5 908.4,276.4 912.1,278.5 916.5,275.6 913.5,271.2 915.0,266.9 918.6,263.2 922.3,259.6 926.7,255.2 931.8,251.6 936.9,249.4 942.7,248.2 950.0,247.9 957.3,248.6 960.2,250.8 964.6,248.6 970.4,247.2 977.7,245.7 985.0,244.3 992.3,242.8 1001.0,242.4 1009.8,242.4 1014.2,243.5 1017.1,247.9 1017.8,253.8 1020.7,256.7 1024.4,259.6 1027.3,264.0 1030.2,266.9 1029.5,271.2 1028.0,275.6 1024.4,278.5 1021.5,281.5 1020.0,285.8 1021.5,290.2 1025.1,293.1 1029.5,294.6 1032.4,297.5 1036.0,299.7 1040.4,299.0 1044.1,296.0 1046.2,291.7 1047.7,285.8 1047.7,280.0 1046.2,277.1 1042.6,277.8 1039.7,275.6 1040.4,269.8 1041.9,265.4 1044.8,261.8 1049.2,260.3 1049.0,260.2 1054.0,261.6 1058.3,265.2 1062.7,269.6 1067.1,271.8 1066.4,252.1 1068.5,243.3 1071.5,233.1 1074.4,222.9 1077.3,215.6 1081.7,212.0 1087.5,209.8 1091.9,214.2 1096.2,218.5 1102.1,220.7 1109.4,220.0 1116.7,218.5 1124.0,216.4 1131.2,214.2 1140.0,212.7 1147.3,212.4 1153.1,213.4 1145.8,212.0 1138.5,211.2 1131.2,211.2 1125.4,209.1 1121.0,205.4 1116.7,201.0 1113.0,196.7 1109.4,192.3 1107.2,187.9 1105.7,184.3 1107.9,181.4 1112.3,181.4 1116.7,182.8 1120.3,180.6 1121.2,180.0 1118.8,175.0 1116.2,168.8 1112.5,165.0 1107.5,165.0 1103.8,161.2 1102.5,155.0 1103.8,148.8 1105.0,142.5 1102.5,137.5 1097.5,135.6 1092.5,135.0 1087.5,136.2 1082.5,132.5 1079.4,128.8 1081.2,126.2 1086.2,123.8 1089.4,121.2 1088.1,118.1 1085.0,117.5 1086.9,115.0 1092.5,114.4 1100.0,113.1 1107.5,112.5 1112.5,110.6 1117.5,107.5 1121.2,103.8 1123.8,98.8 1123.1,93.8 1121.2,91.9 1118.8,95.0 1115.0,98.8 1110.0,101.9 1105.0,101.9 1102.5,98.8 1103.1,95.6 1106.2,93.8 1108.8,90.6 1110.0,85.0 1109.4,80.0 1107.5,75.0 1105.0,70.0 1101.2,65.0 1097.5,60.0 1093.8,55.0 1090.6,50.0 1089.4,45.0 1086.9,40.0 1083.8,36.2 1081.2,32.5 1080.6,27.5 1081.9,22.5 1083.8,19.4" fill="#333333"/>
<g clip-path="url(#ger)">
<polygon points="911.9,507.8 923.1,504.1 934.4,500.3 943.8,495.6 953.1,490.0 960.6,484.4 966.2,476.9 970.0,469.4 977.5,472.2 985.0,478.8 992.5,483.4 1001.9,485.3 1009.4,488.1 1009.4,495.6 1005.6,502.2 1004.7,510.6 1005.6,518.1 1011.2,520.9 1015.0,523.8 1014.1,530.3 1009.4,534.1 1003.8,536.9 1007.5,540.6 1015.0,542.5 1022.5,540.6 1030.0,537.8 1037.5,534.1 1045.0,531.2 1048.8,529.4 1054.4,531.2 1060.0,525.6 1067.5,520.0 1063.8,514.4 1062.8,505.0 1063.8,495.6 1061.9,488.1 1056.2,482.5 1048.8,479.7 1046.9,473.1 1050.6,470.3 1058.1,467.5 1063.8,463.8 1071.2,461.9 1078.8,459.1 1084.4,458.1 1088.1,462.8 1090.0,471.2 1091.9,479.7 1099.4,481.6 1108.8,480.6 1116.2,477.8 1121.9,473.1 1125.6,467.5 1131.2,464.7 1135.0,467.5 1134.1,476.9 1130.3,484.4 1125.6,490.0 1121.9,495.6 1120.0,503.1 1121.9,508.8 1127.5,512.5 1125.6,518.1 1123.8,521.9 1131.2,527.5 1136.9,532.2 1140.6,538.8 1141.6,548.1 1144.4,555.6 1150.0,561.2 1154.7,566.9 1159.4,572.5 1166.9,575.3 1171.6,578.1 1170.6,587.5 1167.8,596.9 1165.0,606.2 1163.1,613.8 1172.5,615.6 1181.9,617.5 1191.2,621.2 1196.9,626.9 1193.1,632.5 1188.4,638.1 1189.4,647.5 1187.5,656.9 1183.8,664.4 1189.4,671.9 1196.9,673.8 1202.5,668.1 1211.9,662.5 1219.4,660.6 1223.1,655.0 1226.9,653.1 1228.8,657.5 1233.8,655.0 1238.8,652.5 1245.0,651.2 1250.0,650.0 1252.5,646.2 1256.2,643.1 1262.5,640.0 1267.5,636.2 1271.9,632.5 1273.1,627.5 1276.2,624.4 1281.2,625.0 1287.5,628.1 1292.5,628.1 1297.5,626.9 1302.5,628.8 1303.8,625.0 1301.2,621.2 1303.8,616.2 1306.2,613.8 1305.0,610.0 1303.8,605.0 1302.5,600.0 1300.0,595.0 1296.9,590.0 1295.0,585.0 1296.2,580.0 1299.4,575.0 1301.2,570.0 1300.0,565.0 1298.8,560.0 1296.2,556.2 1293.8,552.5 1297.5,550.0 1301.2,547.5 1305.0,544.4 1311.2,543.8 1317.5,543.8 1323.8,543.1 1330.0,541.9 1335.0,541.2 1335.6,538.8 1336.2,535.0 1340.0,531.2 1343.8,527.5 1345.0,523.8 1343.1,520.0 1343.8,515.0 1346.9,512.5 1348.1,508.8 1345.6,503.8 1343.8,498.8 1340.0,493.8 1341.2,490.0 1345.6,488.1 1347.5,485.0 1343.8,481.9 1340.0,477.5 1335.6,473.8 1333.8,468.8 1335.6,463.8 1338.8,460.0 1336.9,455.0 1336.2,450.0 1335.0,447.5 1332.5,442.5 1328.8,437.5 1325.0,431.2 1320.0,426.2 1317.5,420.0 1315.0,413.8 1313.8,407.5 1315.0,401.9 1320.0,400.0 1326.2,398.8 1332.5,397.5 1337.5,395.0 1341.2,390.0 1347.5,388.8 1352.5,390.6 1358.8,390.0 1365.0,391.9 1370.0,395.0 1375.0,394.4 1381.2,391.2 1387.5,387.5 1392.5,383.1 1395.0,378.8 1396.2,372.5 1401.2,370.0 1405.0,366.9 1400.0,365.6 1395.0,362.5 1390.0,359.4 1385.0,360.6 1380.0,363.1 1376.2,360.0 1371.2,355.0 1366.2,350.0 1361.2,347.5 1361.2,342.5 1357.5,338.1 1352.5,333.8 1347.5,328.8 1343.8,322.5 1341.2,316.2 1337.5,311.2 1332.5,310.0 1327.5,313.1 1322.5,316.9 1317.5,315.0 1312.5,311.2 1307.5,307.5 1302.5,305.6 1296.2,306.2 1298.1,303.8 1298.9,305.2 1295.6,306.6 1291.9,305.6 1287.2,303.8 1282.5,301.9 1278.8,299.1 1275.0,296.2 1271.2,293.4 1267.5,291.1 1250.0,280.0 1201.9,270.9 1196.2,269.1 1191.6,266.2 1186.9,262.5 1183.1,258.8 1181.2,254.1 1179.8,249.4 1177.5,244.7 1173.8,240.9 1183.0,257.2 1179.4,250.6 1175.0,243.3 1170.6,236.0 1166.2,229.5 1161.9,222.9 1157.5,217.1 1153.1,213.4 1000.0,150.0 780.0,150.0 780.0,508.0" fill="#565656"/>
<polygon points="1153.1,213.4 1157.5,217.1 1161.9,222.9 1166.2,229.5 1170.6,236.0 1175.0,243.3 1179.4,250.6 1183.0,257.2 1173.8,240.9 1177.5,244.7 1179.8,249.4 1181.2,254.1 1183.1,258.8 1186.9,262.5 1191.6,266.2 1196.2,269.1 1201.9,270.9 1250.0,280.0 1267.5,291.1 1271.2,293.4 1275.0,296.2 1278.8,299.1 1282.5,301.9 1287.2,303.8 1291.9,305.6 1295.6,306.6 1298.9,305.2 1298.1,303.8 1298.8,297.5 1300.0,291.2 1303.8,286.2 1310.0,281.9 1318.8,277.5 1328.8,270.0 1334.0,262.5 1332.5,252.5 1326.2,243.8 1318.8,236.2 1314.5,226.2 1315.0,216.2 1322.5,207.5 1330.0,200.0 1330.0,197.5 1400.0,150.0 1400.0,0.0 1000.0,0.0 1000.0,200.0" fill="#505050"/>
<polygon points="911.9,507.8 923.1,504.1 934.4,500.3 943.8,495.6 953.1,490.0 960.6,484.4 966.2,476.9 970.0,469.4 977.5,472.2 985.0,478.8 992.5,483.4 1001.9,485.3 1009.4,488.1 1009.4,495.6 1005.6,502.2 1004.7,510.6 1005.6,518.1 1011.2,520.9 1015.0,523.8 1014.1,530.3 1009.4,534.1 1003.8,536.9 1007.5,540.6 1015.0,542.5 1022.5,540.6 1030.0,537.8 1037.5,534.1 1045.0,531.2 1048.8,529.4 1054.4,531.2 1060.0,525.6 1067.5,520.0 1063.8,514.4 1062.8,505.0 1063.8,495.6 1061.9,488.1 1056.2,482.5 1048.8,479.7 1046.9,473.1 1050.6,470.3 1058.1,467.5 1063.8,463.8 1071.2,461.9 1078.8,459.1 1084.4,458.1 1088.1,462.8 1090.0,471.2 1091.9,479.7 1099.4,481.6 1108.8,480.6 1116.2,477.8 1121.9,473.1 1125.6,467.5 1131.2,464.7 1135.0,467.5 1134.1,476.9 1130.3,484.4 1125.6,490.0 1121.9,495.6 1120.0,503.1 1121.9,508.8 1127.5,512.5 1125.6,518.1 1123.8,521.9 1131.2,527.5 1136.9,532.2 1140.6,538.8 1141.6,548.1 1144.4,555.6 1150.0,561.2 1154.7,566.9 1159.4,572.5 1166.9,575.3 1171.6,578.1 1170.6,587.5 1167.8,596.9 1165.0,606.2 1163.1,613.8 1161.2,617.5 1157.5,628.8 1150.0,640.0 1142.5,646.6 1133.1,647.5 1131.2,640.0 1121.9,638.1 1112.5,641.9 1110.6,649.4 1114.4,655.0 1105.0,662.5 1091.9,664.4 1084.4,668.1 1078.8,675.6 1075.0,683.1 1080.6,690.6 1090.0,692.5 1095.6,700.0 1091.9,704.4 1086.2,708.1 1078.8,709.1 1071.2,712.8 1067.5,720.3 1067.5,728.8 1063.8,736.2 1058.1,743.8 1050.6,747.5 1043.1,749.4 1037.5,755.0 1031.9,760.6 1028.1,768.1 1030.0,775.6 1028.1,781.2 1022.5,777.5 1018.8,771.9 1015.0,764.4 1011.2,756.9 1005.6,753.1 1000.0,749.4 996.2,743.8 994.4,738.1 990.6,740.0 986.9,745.6 985.0,753.1 981.2,758.8 975.6,763.4 968.1,768.1 960.6,771.9 953.1,773.8 945.6,777.5 941.9,785.0 934.4,788.8 926.9,790.6 919.4,792.5 911.9,794.4 904.4,800.0 896.9,803.8 894.1,809.4 889.4,815.0 883.8,816.9 880.0,817.8 877.1,824.0 877.8,829.8 875.6,834.2 869.8,835.6 862.5,835.6 856.7,834.2 850.8,835.6 845.0,837.1 839.2,837.8 836.2,834.9 833.3,833.4 700.0,836.0 700.0,508.0" fill="#353535"/>
<polygon points="1163.1,613.8 1172.5,615.6 1181.9,617.5 1191.2,621.2 1196.9,626.9 1193.1,632.5 1188.4,638.1 1189.4,647.5 1187.5,656.9 1183.8,664.4 1189.4,671.9 1196.9,673.8 1202.5,668.1 1211.9,662.5 1219.4,660.6 1223.1,655.0 1226.9,653.1 1228.8,657.5 1225.0,660.0 1223.1,663.8 1223.8,668.8 1226.2,673.8 1230.0,677.5 1234.4,681.2 1237.5,686.2 1241.9,689.4 1246.2,691.2 1251.2,693.1 1254.4,696.2 1252.5,700.0 1250.0,703.8 1253.8,706.2 1250.0,710.0 1247.5,713.8 1248.8,718.8 1252.5,721.2 1253.8,724.4 1250.0,726.2 1243.8,726.2 1237.5,726.2 1233.8,730.0 1233.1,735.0 1236.2,738.8 1232.5,743.8 1236.2,747.5 1235.0,752.5 1231.2,756.2 1227.5,759.4 1225.0,763.8 1223.8,768.8 1224.4,773.8 1223.8,780.0 1221.9,777.7 1219.0,783.5 1220.4,787.9 1226.2,788.6 1229.2,785.0 1234.3,785.7 1237.2,789.4 1235.7,793.8 1237.2,799.6 1240.1,804.7 1236.2,807.5 1232.5,815.0 1226.9,820.6 1217.5,826.2 1208.1,828.1 1205.3,833.8 1204.4,841.2 1202.5,846.9 1196.9,850.6 1191.2,854.4 1187.5,858.1 1181.9,857.2 1178.1,860.0 1168.8,865.6 1159.4,871.2 1150.0,875.0 1140.6,878.8 1131.2,882.5 1121.9,886.2 1124.7,893.8 1125.6,903.1 1127.5,912.5 1129.4,921.9 1131.2,929.4 1135.0,935.0 1136.9,942.5 1135.9,950.0 1133.1,957.5 1131.2,965.0 1132.2,970.6 1135.0,977.2 1135.0,977.2 1131.2,981.9 1125.6,984.7 1120.0,986.6 1116.2,990.3 1113.4,995.9 1107.8,999.7 1102.2,1000.2 1102.8,995.0 1105.0,989.4 1109.7,985.6 1111.6,980.0 1105.9,981.9 1100.3,980.0 1093.8,977.2 1091.9,970.6 1090.0,963.1 1085.3,963.1 1083.4,967.8 1082.5,975.3 1078.8,974.4 1079.7,967.8 1076.9,963.1 1069.4,965.9 1063.8,968.8 1060.0,970.6 1060.0,970.6 1058.1,968.8 1054.4,961.2 1052.5,953.8 1054.4,948.1 1060.0,944.4 1064.7,940.6 1061.9,935.0 1056.2,927.5 1053.4,920.0 1050.6,910.6 1047.8,903.1 1044.1,897.5 1037.5,894.7 1028.1,894.7 1018.8,896.6 1009.4,900.3 1000.0,905.0 998.1,897.5 994.4,891.9 990.6,888.1 992.5,882.5 998.1,878.8 1003.8,873.1 1000.0,869.4 1003.8,865.6 1011.2,861.9 1018.8,858.1 1024.4,852.5 1026.2,845.0 1022.5,839.4 1016.9,833.8 1011.2,830.0 1013.1,822.5 1011.2,815.0 1015.0,809.4 1022.5,805.6 1028.1,801.9 1029.1,796.2 1030.0,788.8 1028.1,781.2 1028.1,781.2 1030.0,775.6 1028.1,768.1 1031.9,760.6 1037.5,755.0 1043.1,749.4 1050.6,747.5 1058.1,743.8 1063.8,736.2 1067.5,728.8 1067.5,720.3 1071.2,712.8 1078.8,709.1 1086.2,708.1 1091.9,704.4 1095.6,700.0 1090.0,692.5 1080.6,690.6 1075.0,683.1 1078.8,675.6 1084.4,668.1 1091.9,664.4 1105.0,662.5 1114.4,655.0 1110.6,649.4 1112.5,641.9 1121.9,638.1 1131.2,640.0 1133.1,647.5 1142.5,646.6 1150.0,640.0 1157.5,628.8 1161.2,617.5 1163.1,613.8" fill="#5a5a5a"/>
<polygon points="833.3,833.4 836.2,834.9 839.2,837.8 845.0,837.1 850.8,835.6 856.7,834.2 862.5,835.6 869.8,835.6 875.6,834.2 877.8,829.8 877.1,824.0 880.0,817.8 883.8,816.9 889.4,815.0 894.1,809.4 896.9,803.8 904.4,800.0 911.9,794.4 919.4,792.5 926.9,790.6 934.4,788.8 941.9,785.0 945.6,777.5 953.1,773.8 960.6,771.9 968.1,768.1 975.6,763.4 981.2,758.8 985.0,753.1 986.9,745.6 990.6,740.0 994.4,738.1 996.2,743.8 1000.0,749.4 1005.6,753.1 1011.2,756.9 1015.0,764.4 1018.8,771.9 1022.5,777.5 1028.1,781.2 1030.0,788.8 1029.1,796.2 1028.1,801.9 1022.5,805.6 1015.0,809.4 1011.2,815.0 1013.1,822.5 1011.2,830.0 1016.9,833.8 1022.5,839.4 1026.2,845.0 1024.4,852.5 1018.8,858.1 1011.2,861.9 1003.8,865.6 1000.0,869.4 1003.8,873.1 998.1,878.8 992.5,882.5 990.6,888.1 994.4,891.9 998.1,897.5 1000.0,905.0 1009.4,900.3 1018.8,896.6 1028.1,894.7 1037.5,894.7 1044.1,897.5 1047.8,903.1 1050.6,910.6 1053.4,920.0 1056.2,927.5 1061.9,935.0 1064.7,940.6 1060.0,944.4 1054.4,948.1 1052.5,953.8 1054.4,961.2 1058.1,968.8 1060.0,970.6 1060.9,976.2 1062.8,983.8 1064.7,991.2 1067.5,996.9 1066.6,1004.4 1064.7,1011.9 1063.8,1019.4 1060.0,1025.0 1056.2,1030.6 1055.3,1038.1 1053.4,1045.6 1051.6,1053.1 1048.8,1058.8 1045.0,1064.4 1041.2,1068.1 1036.6,1072.8 1000.0,1090.0 700.0,1090.0 700.0,836.0" fill="#424242"/>
<polygon points="835.5,975.6 842.1,976.4 847.9,975.6 853.8,977.1 859.6,977.8 865.4,974.9 871.2,972.7 877.1,969.8 882.9,966.9 888.8,964.0 894.6,961.8 900.4,961.0 906.2,959.6 910.6,962.5 915.0,966.9 920.8,969.8 926.7,971.2 932.5,972.0 935.4,975.6 934.0,981.5 932.5,987.3 934.0,993.1 936.9,997.5 941.2,1000.4 945.6,1004.8 947.8,1009.2 945.6,1015.0 942.7,1020.8 939.8,1026.7 938.3,1032.5 939.8,1036.1 941.0,1100.0 780.0,1100.0 780.0,976.0" fill="#5e5e5e"/>
<polygon points="1060.0,970.6 1063.8,968.8 1069.4,965.9 1076.9,963.1 1079.7,967.8 1078.8,974.4 1082.5,975.3 1083.4,967.8 1085.3,963.1 1090.0,963.1 1091.9,970.6 1093.8,977.2 1100.3,980.0 1105.9,981.9 1111.6,980.0 1109.7,985.6 1105.0,989.4 1102.8,995.0 1102.2,1000.2 1107.8,999.7 1113.4,995.9 1116.2,990.3 1120.0,986.6 1125.6,984.7 1131.2,981.9 1135.0,977.2 1142.5,968.8 1150.0,965.0 1153.8,957.5 1161.2,953.8 1166.9,955.6 1167.8,948.1 1161.2,944.4 1156.6,940.6 1161.2,935.0 1168.8,934.1 1178.1,935.0 1187.5,934.1 1192.2,935.0 1193.1,942.5 1198.8,947.2 1206.2,946.2 1212.8,950.9 1215.6,957.5 1218.4,965.0 1222.2,969.7 1215.6,972.5 1211.9,974.4 1217.5,977.2 1225.0,980.0 1230.6,982.8 1236.2,978.1 1240.9,977.2 1243.8,983.8 1244.7,995.0 1244.7,1006.2 1247.5,1017.5 1246.6,1026.9 1250.3,1036.2 1254.1,1043.8 1257.8,1051.2 1262.5,1056.9 1268.1,1062.5 1273.8,1068.1 1277.5,1075.6 1279.4,1085.0 1277.5,1094.4 1280.3,1103.8 1283.1,1113.1 1282.2,1120.6 1275.6,1119.7 1268.1,1116.9 1260.6,1119.7 1261.6,1126.2 1263.4,1130.0 1265.0,1142.5 1260.0,1150.0 1255.0,1152.5 1237.5,1155.0 1232.5,1162.5 1233.8,1175.0 1240.0,1185.0 1242.5,1197.5 1245.0,1210.0 1246.2,1222.5 1241.2,1230.0 1242.0,1237.3 1242.7,1244.6 1244.2,1251.9 1245.6,1257.7 1242.7,1262.1 1241.2,1266.5 1243.4,1270.8 1245.6,1275.2 1244.9,1281.0 1241.2,1282.5 1235.4,1281.0 1229.6,1282.5 1223.8,1284.0 1217.9,1285.4 1212.1,1288.3 1207.7,1292.7 1201.9,1295.6 1196.0,1297.8 1190.2,1299.7 1190.0,1420.0 900.0,1420.0 900.0,1090.0 1030.0,1078.0 1036.6,1072.8 1041.2,1068.1 1045.0,1064.4 1048.8,1058.8 1051.6,1053.1 1053.4,1045.6 1055.3,1038.1 1056.2,1030.6 1060.0,1025.0 1063.8,1019.4 1064.7,1011.9 1066.6,1004.4 1067.5,996.9 1064.7,991.2 1062.8,983.8 1060.9,976.2 1060.0,970.6" fill="#3f3f3f"/>
<polygon points="980.9,334.1 983.8,338.8 989.4,340.6 995.0,341.6 997.8,344.4 1001.6,348.1 1005.3,351.9 1010.0,355.6 1014.7,359.4 1019.4,361.2 1023.1,363.1 1025.9,368.8 1027.8,376.2 1030.6,383.8 1034.4,389.4 1040.0,395.0 1047.5,396.9 1053.1,396.9 1056.9,399.7 1062.5,403.4 1064.4,410.0 1063.4,417.5 1056.9,421.2 1051.2,426.9 1047.5,434.4 1048.4,443.8 1050.3,451.2 1045.6,458.8 1040.0,462.5 1036.2,470.0 1046.9,473.1 1048.8,479.7 1056.2,482.5 1061.9,488.1 1063.8,495.6 1062.8,505.0 1063.8,514.4 1067.5,520.0 1060.0,525.6 1054.4,531.2 1048.8,529.4 1045.0,531.2 1037.5,534.1 1030.0,537.8 1022.5,540.6 1015.0,542.5 1007.5,540.6 1003.8,536.9 1009.4,534.1 1014.1,530.3 1015.0,523.8 1011.2,520.9 1005.6,518.1 1004.7,510.6 1005.6,502.2 1009.4,495.6 1009.4,488.1 1001.9,485.3 992.5,483.4 985.0,478.8 977.5,472.2 970.0,469.4 966.2,476.9 960.6,484.4 953.1,490.0 943.8,495.6 934.4,500.3 923.1,504.1 911.9,507.8 700.0,508.0 700.0,330.0" fill="#363636"/>
<polygon points="1060.0,208.1 1151.9,211.4 1175.9,247.5 1204.4,271.6 1206.6,284.7 1202.2,291.2 1193.4,295.6 1186.9,302.2 1184.7,310.9 1189.1,319.7 1184.7,321.9 1175.9,324.1 1167.2,326.2 1162.8,332.8 1156.2,337.2 1149.7,335.0 1143.1,337.2 1136.6,343.8 1130.0,339.4 1127.8,330.6 1123.4,319.7 1121.2,308.8 1114.7,300.0 1108.1,302.2 1101.6,304.4 1095.0,308.8 1090.6,315.3 1081.9,319.7 1073.1,317.5 1070.9,308.8 1068.8,300.0 1066.6,291.2 1060.0,286.9" fill="#4a4a4a"/>
<polygon points="1241.2,360.0 1244.1,354.4 1247.8,348.8 1250.6,343.1 1254.4,337.5 1257.2,332.8 1256.2,328.1 1254.4,322.5 1256.2,317.8 1260.0,314.1 1264.7,311.2 1269.4,308.4 1274.1,306.6 1278.8,304.7 1282.5,302.8 1287.2,304.2 1291.9,305.8 1295.6,306.8 1298.9,305.3 1350.0,305.3 1350.0,360.0" fill="#777777"/>
<polygon points="1185.5,311.2 1188.8,305.6 1192.5,300.9 1198.1,297.2 1202.8,294.4 1206.6,290.6 1207.5,285.0 1210.3,287.8 1213.1,290.6 1215.0,293.4 1216.9,294.4 1219.7,290.6 1221.1,295.3 1222.5,298.1 1225.3,297.2 1228.1,295.3 1230.9,296.2 1234.7,294.4 1236.6,290.6 1239.4,288.8 1242.2,290.6 1245.0,294.4 1247.8,298.1 1250.6,300.9 1253.4,301.4 1257.2,300.9 1260.0,298.1 1263.8,294.4 1267.5,291.1 1271.2,293.4 1275.0,296.2 1278.8,299.1 1282.5,301.9 1278.8,304.7 1274.1,306.6 1269.4,308.4 1264.7,311.2 1260.0,314.1 1256.2,317.8 1254.4,322.5 1256.2,328.1 1257.2,332.8 1254.4,337.5 1250.6,339.4 1245.0,340.3 1241.2,343.1 1237.5,345.0 1233.8,343.1 1230.0,340.3 1226.2,337.5 1222.5,335.6 1218.8,336.6 1215.0,334.7 1211.2,333.8 1207.5,334.7 1203.8,332.8 1200.0,330.0 1196.2,328.1 1192.5,329.1 1189.7,326.2 1187.8,322.5 1185.9,318.8 1185.0,315.0" fill="#4a4a4a"/>
<polygon points="1201.9,270.9 1202.8,266.2 1204.7,261.6 1206.1,256.9 1207.5,260.6 1210.3,264.4 1213.1,263.4 1216.9,260.6 1220.6,256.9 1223.4,254.1 1227.2,253.1 1229.1,254.1 1228.6,258.8 1228.1,264.4 1226.2,269.1 1222.5,271.9 1218.8,272.3 1214.1,271.9 1209.4,271.9" fill="#8cc45a"/>
<polygon points="1229.1,254.1 1230.0,252.2 1230.9,249.4 1234.7,247.5 1238.4,246.6 1239.4,242.8 1243.1,240.9 1246.9,240.0 1250.6,237.2 1253.0,238.1 1252.5,241.9 1250.6,244.7 1249.7,248.4 1247.8,251.2 1245.0,254.1 1242.2,256.9 1239.4,259.7 1237.5,263.4 1235.6,267.2 1233.8,270.0 1230.0,270.9 1226.2,269.1 1228.1,264.4 1228.6,258.8" fill="#575757"/>
<polygon points="1249.7,248.4 1251.6,251.2 1253.9,254.1 1256.2,256.9 1254.4,258.8 1252.5,260.6 1249.7,262.5 1245.0,264.4 1241.2,266.2 1237.5,263.4 1239.4,259.7 1242.2,256.9 1245.0,254.1 1247.8,251.2" fill="#f0667a"/>
<polygon points="1207.0,273.8 1209.4,271.9 1214.1,271.9 1218.8,272.3 1222.5,271.9 1226.2,269.1 1230.0,270.9 1233.8,270.0 1235.6,267.2 1241.2,266.2 1245.0,271.9 1249.7,277.5 1254.4,283.1 1260.0,286.9 1267.5,290.6 1263.8,294.4 1260.0,298.1 1257.2,300.9 1253.4,301.4 1250.6,300.9 1247.8,298.1 1245.0,294.4 1242.2,290.6 1239.4,288.8 1236.6,290.6 1234.7,294.4 1230.9,296.2 1228.1,295.3 1225.3,297.2 1222.5,298.1 1221.1,295.3 1219.7,290.6 1216.9,294.4 1215.0,293.4 1213.1,290.6 1210.3,287.8 1207.5,285.0 1206.6,281.2 1206.1,277.5" fill="#f0667a"/>
<polygon points="1135.0,26.2 1146.2,30.9 1157.5,35.6 1165.0,33.8 1174.4,28.1 1183.8,24.4 1189.4,22.5 1190.3,28.1 1195.0,32.8 1204.4,37.5 1213.8,42.2 1219.4,45.9 1221.2,40.3 1226.9,43.1 1231.6,52.5 1235.3,60.0 1233.4,69.4 1225.0,74.1 1215.6,80.6 1206.2,88.1 1198.8,93.8 1193.1,100.3 1187.5,105.0 1183.8,112.5 1181.9,120.0 1176.2,123.8 1168.8,126.6 1163.1,131.2 1157.5,136.9 1153.8,135.0 1151.9,129.4 1148.1,127.5 1144.4,125.6 1145.3,120.0 1150.0,118.1 1152.8,112.5 1155.6,105.0 1156.6,97.5 1153.8,90.0 1152.8,82.5 1149.1,75.0 1146.2,67.5 1142.5,60.0 1135.0,56.2 1131.2,50.6 1133.1,43.1 1135.0,35.6" fill="#686868"/>
<polygon points="1071.2,16.9 1135.0,26.2 1135.0,35.6 1133.1,43.1 1131.2,50.6 1135.0,56.2 1142.5,60.0 1146.2,67.5 1149.1,75.0 1152.8,82.5 1153.8,90.0 1156.6,97.5 1155.6,105.0 1152.8,112.5 1150.0,118.1 1145.3,120.0 1144.4,125.6 1148.1,127.5 1151.9,129.4 1153.8,135.0 1157.5,136.9 1163.1,138.8 1166.9,142.5 1170.6,150.0 1161.2,153.8 1151.9,155.6 1146.2,159.4 1138.8,161.2 1131.2,163.1 1121.9,161.2 1116.2,165.0 1071.2,165.0" fill="#494949"/>
<polygon points="1240.0,114.4 1242.8,110.6 1249.4,109.7 1252.2,112.5 1251.2,120.0 1253.1,127.5 1252.2,135.0 1249.4,140.6 1243.8,141.6 1239.1,137.8 1236.2,131.2 1235.9,124.7 1237.2,119.1" fill="#8cc45a"/>
<polygon points="1309.4,140.6 1311.2,133.1 1318.8,129.4 1328.1,123.8 1337.5,118.1 1345.0,116.2 1350.6,112.5 1350.6,84.4 1375.0,84.4 1375.0,120.0 1352.5,120.0 1349.7,150.0 1333.8,165.0 1322.5,172.5 1315.0,180.0 1316.9,187.5 1322.5,191.2 1320.6,196.9 1315.0,202.5 1307.5,206.2 1300.0,208.1 1294.4,211.9 1292.5,219.4 1290.6,226.9 1285.0,230.6 1281.2,225.0 1277.5,221.2 1276.6,215.6 1281.2,210.0 1286.9,208.1 1290.6,202.5 1291.6,195.0 1286.9,191.2 1283.1,187.5 1286.9,183.8 1292.5,180.0 1291.6,174.4 1285.0,174.4 1279.4,172.5 1277.5,170.6 1281.2,166.9 1285.9,163.1 1286.9,155.6 1290.6,148.1 1296.2,148.1 1303.8,151.9 1307.5,148.1" fill="#454545"/>
<polygon points="1322.5,191.2 1326.2,193.1 1328.1,198.8 1324.4,204.4 1318.8,208.1 1315.0,215.6 1313.1,225.0 1309.4,232.5 1307.5,240.0 1303.8,245.6 1296.2,249.4 1288.8,251.2 1281.2,253.1 1277.5,249.4 1276.6,241.9 1277.5,236.2 1283.1,232.5 1290.6,226.9 1292.5,219.4 1294.4,211.9 1300.0,208.1 1307.5,206.2 1315.0,202.5 1320.6,196.9" fill="#777777"/>
<polygon points="1252.2,112.5 1256.9,110.6 1264.4,108.8 1271.9,109.7 1279.4,112.5 1286.9,116.2 1294.4,121.9 1301.9,127.5 1307.5,133.1 1309.4,140.6 1307.5,148.1 1303.8,151.9 1296.2,148.1 1290.6,148.1 1286.9,155.6 1285.9,163.1 1281.2,166.9 1277.5,170.6 1271.9,168.8 1264.4,170.6 1256.9,173.4 1249.4,176.2 1245.6,180.0 1249.4,183.8 1256.9,182.8 1262.5,185.6 1264.4,189.4 1258.8,191.2 1251.2,193.1 1243.8,195.9 1238.1,196.9 1234.4,193.1 1232.5,187.5 1226.9,185.6 1224.1,184.7 1224.1,176.2 1225.0,168.8 1230.6,163.1 1238.1,163.1 1244.7,164.1 1244.7,155.6 1245.6,148.1 1246.6,141.6 1249.4,140.6 1252.2,135.0 1253.1,127.5 1251.2,120.0" fill="#5a5a5a"/>
<polygon points="1247.5,330.0 1358.1,330.0 1363.8,335.6 1371.2,343.1 1378.8,348.8 1386.2,356.2 1397.5,361.9 1405.0,365.6 1401.2,369.4 1395.6,376.9 1390.0,382.5 1382.5,388.1 1375.0,393.8 1363.8,391.9 1352.5,390.0 1341.2,390.0 1330.0,393.8 1321.6,391.9 1322.5,380.6 1326.2,373.1 1324.4,365.6 1318.8,358.1 1311.2,350.6 1303.8,345.0 1296.2,340.3 1286.9,337.5 1279.4,343.1 1273.8,348.8 1264.4,354.4 1256.9,358.1 1251.2,363.8 1243.8,365.6 1237.2,363.8 1240.0,356.2 1245.6,348.8 1247.5,341.2" fill="#777777"/>
<polygon points="1060.0,375.0 1071.2,370.3 1080.6,367.5 1086.2,370.3 1088.1,378.8 1091.9,386.2 1100.3,388.1 1108.8,386.2 1114.4,379.7 1121.9,386.2 1129.4,391.9 1138.8,394.7 1145.3,401.2 1148.1,408.8 1153.8,412.5 1154.7,418.1 1148.1,419.1 1138.8,421.9 1131.2,423.8 1123.8,427.5 1118.1,433.1 1112.5,438.8 1108.8,444.4 1114.4,451.9 1118.1,461.2 1121.9,468.8 1118.1,476.2 1108.8,478.1 1099.4,481.9 1091.9,478.1 1090.9,465.0 1084.4,457.5 1071.2,459.4 1060.0,461.2" fill="#4a4a4a"/>
<polygon points="1286.9,337.5 1296.2,340.3 1303.8,345.0 1311.2,350.6 1318.8,358.1 1324.4,365.6 1326.2,373.1 1322.5,380.6 1320.6,390.0 1318.8,399.4 1313.1,408.8 1305.6,412.5 1300.0,408.8 1294.4,405.0 1286.9,404.1 1279.4,408.8 1273.8,416.2 1271.9,425.6 1273.8,435.0 1275.6,442.5 1271.9,450.0 1266.2,457.5 1258.8,461.2 1249.4,461.2 1240.0,457.5 1232.5,451.9 1225.0,446.2 1217.5,444.4 1210.0,442.5 1204.4,438.8 1202.5,431.2 1204.4,423.8 1210.0,418.1 1213.8,410.6 1214.7,401.2 1215.6,393.8 1223.1,391.9 1232.5,393.8 1240.0,390.0 1247.5,386.2 1255.0,384.4 1256.9,375.0 1258.8,365.6 1256.9,358.1 1264.4,354.4 1273.8,348.8 1279.4,343.1" fill="#4a4a4a"/>
<polygon points="1150.0,457.5 1155.6,451.9 1161.2,446.2 1168.8,442.5 1176.2,438.8 1183.8,434.1 1191.2,440.6 1198.8,444.4 1202.5,440.6 1210.0,442.5 1217.5,444.4 1225.0,446.2 1232.5,451.9 1238.1,459.4 1241.9,468.8 1238.1,474.4 1228.8,476.2 1221.2,478.1 1215.6,474.4 1208.1,472.5 1198.8,476.2 1191.2,478.1 1183.8,476.2 1176.2,480.0 1168.8,485.6 1161.2,483.8 1157.5,476.2 1159.4,468.8 1153.8,465.0" fill="#4a4a4a"/>
<polygon points="1190.3,478.1 1195.0,475.3 1202.5,476.2 1208.1,472.5 1210.0,478.1 1213.8,480.0 1221.2,478.1 1222.2,485.6 1219.4,493.1 1217.5,497.8 1210.0,496.9 1202.5,495.0 1196.9,495.9 1194.1,489.4 1192.2,483.8" fill="#f0667a"/>
<polygon points="1277.5,493.1 1283.1,490.3 1287.8,489.4 1292.5,491.2 1298.1,489.4 1301.9,495.0 1300.0,502.5 1296.2,510.0 1292.5,515.6 1286.9,518.4 1281.2,516.6 1278.4,510.0 1277.5,502.5" fill="#f47d8c"/>
<polygon points="1060.0,461.2 1071.2,459.4 1084.4,457.5 1090.9,465.0 1091.9,478.1 1099.4,481.9 1108.8,478.1 1118.1,476.2 1123.8,468.8 1129.4,464.1 1135.0,465.0 1134.1,476.2 1129.4,485.6 1121.9,493.1 1120.0,502.5 1124.7,510.0 1123.8,517.5 1126.6,525.0 1135.0,526.9 1140.6,534.4 1142.5,545.6 1143.4,555.0 1135.0,558.8 1125.6,562.5 1116.2,568.1 1106.9,573.8 1097.5,571.9 1088.1,568.1 1078.8,566.2 1069.4,562.5 1060.0,560.6" fill="#575757"/>
<polygon points="970.0,469.4 972.8,465.6 971.9,452.5 971.9,441.2 972.8,430.0 977.5,422.5 992.5,416.9 1011.2,418.8 1019.7,426.2 1019.7,441.2 1018.8,452.5 1020.6,463.8 1022.5,471.2 1028.1,470.3 1039.4,467.5 1046.9,463.8 1049.7,460.0 1046.9,473.1 1048.8,479.7 1056.2,482.5 1061.9,488.1 1063.8,495.6 1062.8,505.0 1063.8,514.4 1067.5,520.0 1060.0,525.6 1054.4,531.2 1048.8,529.4 1045.0,531.2 1037.5,534.1 1030.0,537.8 1022.5,540.6 1015.0,542.5 1007.5,540.6 1003.8,536.9 1009.4,534.1 1014.1,530.3 1015.0,523.8 1011.2,520.9 1005.6,518.1 1004.7,510.6 1005.6,502.2 1009.4,495.6 1009.4,488.1 1001.9,485.3 992.5,483.4 985.0,478.8 977.5,472.2" fill="#414141"/>
<polygon points="1009.4,488.1 1015.0,486.2 1022.5,485.3 1030.0,486.2 1033.8,491.9 1035.6,499.4 1031.9,505.0 1030.0,512.5 1026.2,518.1 1018.8,520.0 1011.2,520.9 1005.6,518.1 1004.7,510.6 1005.6,502.2 1009.4,495.6" fill="#575757"/>
<polygon points="1048.8,479.7 1046.9,473.1 1050.6,470.3 1058.1,467.5 1063.8,463.8 1071.2,461.9 1078.8,459.1 1084.4,458.1 1088.1,462.8 1090.0,471.2 1091.9,479.7 1099.4,481.6 1108.8,480.6 1116.2,477.8 1121.9,473.1 1125.6,467.5 1131.2,464.7 1135.0,467.5 1134.1,476.9 1130.3,484.4 1125.6,490.0 1121.9,495.6 1120.0,503.1 1121.9,508.8 1127.5,512.5 1125.6,518.1 1123.8,521.9 1131.2,527.5 1136.9,532.2 1140.6,538.8 1141.6,548.1 1144.4,555.6 1140.6,561.2 1133.1,565.0 1123.8,568.8 1114.4,570.6 1105.0,568.8 1095.6,566.9 1086.2,565.0 1078.8,565.9 1073.1,561.2 1065.6,559.4 1058.1,557.5 1054.4,550.0 1056.2,540.6 1052.5,535.0 1054.4,531.2 1060.0,525.6 1067.5,520.0 1063.8,514.4 1062.8,505.0 1063.8,495.6 1061.9,488.1 1056.2,482.5" fill="#575757"/>
<polygon points="1054.4,536.9 1060.0,534.1 1067.5,535.0 1075.0,538.8 1081.6,542.5 1085.3,548.1 1084.4,555.6 1081.6,563.1 1075.0,565.9 1067.5,564.1 1060.0,560.3 1055.3,555.6 1057.2,548.1 1060.9,544.4 1056.2,540.6" fill="#777777"/>
<polygon points="1024.4,540.6 1031.9,536.9 1041.2,533.1 1048.8,532.2 1054.4,536.9 1056.2,540.6 1060.9,544.4 1057.2,548.1 1055.3,555.6 1060.0,560.3 1067.5,564.1 1075.0,565.9 1073.1,572.5 1065.6,578.1 1060.0,585.6 1056.2,593.1 1048.8,598.8 1043.1,595.0 1039.4,585.6 1035.6,576.2 1031.9,566.9 1028.1,557.5 1024.4,550.0" fill="#414141"/>
<polygon points="960.6,546.2 966.2,542.5 971.9,541.6 977.5,544.4 982.2,548.1 985.0,553.8 985.9,561.2 987.8,566.9 985.0,572.5 979.4,575.3 973.8,578.1 968.1,579.1 963.4,574.4 960.6,568.8 959.7,561.2 956.9,559.4 959.7,553.8" fill="#8cc45a"/>
<polygon points="825.6,617.5 833.1,604.4 846.2,598.8 861.2,595.0 880.0,598.8 891.2,595.0 900.6,587.5 911.9,589.4 921.2,583.8 930.6,589.4 941.9,598.8 951.2,604.4 958.8,600.6 968.1,603.4 981.2,599.7 992.5,597.8 1003.8,602.5 1011.2,606.2 1009.4,613.8 1003.8,619.4 1000.0,625.0 996.2,632.5 994.4,640.0 996.2,645.6 985.0,647.5 975.6,645.6 971.9,655.0 970.0,666.2 968.1,677.5 958.8,679.4 945.6,675.6 936.2,671.9 925.0,673.8 913.8,671.9 902.5,670.0 891.2,673.8 880.0,675.6 865.0,679.4 850.0,688.8 836.9,681.2 827.5,664.4 823.8,636.2" fill="#4a4a4a"/>
<polygon points="966.2,615.6 973.8,611.9 981.2,614.7 988.8,617.5 994.4,623.1 996.2,632.5 994.4,640.0 992.5,645.6 985.0,647.5 975.6,645.6 970.0,641.9 972.8,634.4 968.1,628.8 962.5,626.9" fill="#575757"/>
<polygon points="902.5,636.2 908.1,640.0 913.8,643.8 919.4,636.2 925.0,630.6 932.5,628.8 938.1,633.4 941.9,640.0 940.0,645.6 936.2,651.2 930.6,655.0 923.1,654.1 917.5,651.2 911.9,649.4 906.2,647.5 902.5,641.9" fill="#f0667a"/>
<polygon points="942.8,631.6 947.5,625.9 955.0,625.0 962.5,626.9 968.1,628.8 972.8,634.4 970.0,641.9 966.2,647.5 962.5,653.1 956.9,655.0 951.2,651.2 945.6,645.6 943.8,638.1" fill="#f0667a"/>
<polygon points="904.4,619.4 908.1,617.5 911.9,621.2 915.6,626.9 919.4,634.4 917.5,640.0 914.7,642.8 910.9,638.1 907.2,630.6 904.4,625.0" fill="#6cbde9"/>
<polygon points="1161.2,658.8 1168.8,655.0 1178.1,656.9 1187.5,657.8 1191.2,664.4 1198.8,671.9 1196.9,679.4 1191.2,685.0 1183.8,690.6 1176.2,688.8 1168.8,683.1 1163.1,675.6 1161.2,666.2" fill="#686868"/>
<polygon points="871.2,630.0 880.0,625.0 885.0,621.2 891.2,628.8 895.0,635.0 892.5,645.0 887.5,650.0 885.0,660.0 883.8,667.5 875.0,668.8 867.5,666.2 865.0,657.5 867.5,650.0 865.0,642.5 871.2,637.5" fill="#f0667a"/>
<polygon points="857.5,817.8 842.5,811.2 831.2,792.5 823.8,764.4 818.1,736.2 823.8,708.1 833.1,687.5 880.0,680.0 1095.6,680.0 1097.5,687.5 1095.6,696.9 1091.9,704.4 1086.2,708.1 1078.8,709.1 1071.2,712.8 1067.5,720.3 1067.5,728.8 1063.8,736.2 1058.1,743.8 1050.6,747.5 1043.1,749.4 1037.5,755.0 1031.9,760.6 1028.1,768.1 1030.0,775.6 1028.1,781.2 1022.5,777.5 1018.8,771.9 1015.0,764.4 1011.2,756.9 1005.6,753.1 1000.0,749.4 996.2,743.8 994.4,738.1 990.6,740.0 986.9,745.6 985.0,753.1 981.2,758.8 975.6,763.4 968.1,768.1 960.6,771.9 953.1,773.8 945.6,777.5 941.9,785.0 934.4,788.8 926.9,790.6 919.4,792.5 911.9,794.4 904.4,800.0 896.9,803.8 894.1,809.4 889.4,815.0 883.8,816.9 880.0,817.8" fill="#414141"/>
<polygon points="960.6,696.9 970.0,702.5 981.2,706.2 990.6,711.9 992.5,723.1 994.4,734.4 1000.0,738.1 1003.8,732.5 1009.4,726.9 1018.8,723.1 1030.0,719.4 1037.5,715.6 1041.2,708.1 1048.8,706.2 1058.1,702.5 1067.5,704.4 1075.0,708.1 1084.4,708.1 1091.9,704.4 1095.6,696.9 1097.5,687.5 1095.6,680.0 958.8,680.0" fill="#343434"/>
<polygon points="908.1,768.1 917.5,767.2 925.0,770.0 926.9,777.5 925.0,786.9 917.5,790.6 910.0,788.8 907.2,781.2" fill="#686868"/>
<polygon points="925.0,773.8 932.5,771.9 940.0,775.6 941.9,783.1 936.2,788.8 928.8,789.7 925.0,785.0" fill="#343434"/>
<polygon points="1056.2,751.2 1061.9,743.8 1069.4,736.2 1078.8,730.6 1088.1,728.8 1097.5,732.5 1106.9,734.4 1116.2,736.2 1125.6,740.0 1135.0,745.6 1139.7,755.0 1146.2,758.8 1151.9,764.4 1148.1,773.8 1142.5,783.1 1138.8,792.5 1136.9,801.9 1133.1,809.4 1123.8,813.1 1114.4,816.9 1105.0,819.7 1095.6,818.8 1086.2,816.9 1078.8,811.2 1076.9,801.9 1080.6,792.5 1086.2,788.8 1082.5,782.2 1075.0,777.5 1067.5,771.9 1061.9,764.4 1058.1,758.8" fill="#686868"/>
<polygon points="1138.8,792.5 1142.5,783.1 1148.1,773.8 1155.6,770.0 1166.9,769.1 1178.1,770.0 1187.5,768.1 1198.8,764.4 1210.0,763.4 1221.2,766.2 1223.1,773.8 1226.9,781.2 1232.5,786.9 1236.2,792.5 1235.3,807.5 1232.5,815.0 1226.9,820.6 1217.5,826.2 1208.1,828.1 1198.8,830.0 1189.4,831.9 1180.0,830.0 1172.5,831.9 1165.0,828.1 1159.4,822.5 1155.6,815.0 1150.0,809.4 1142.5,803.8 1136.9,800.0" fill="#3a3a3a"/>
<polygon points="1028.1,801.9 1033.8,800.0 1041.2,805.6 1046.9,813.1 1052.5,818.8 1058.1,824.4 1065.6,830.0 1073.1,835.6 1080.6,843.1 1086.2,850.6 1090.0,858.1 1082.5,860.0 1075.0,861.9 1067.5,860.0 1060.0,863.8 1052.5,867.5 1052.5,876.9 1048.8,873.1 1041.2,871.2 1033.8,875.0 1026.2,878.8 1020.6,886.2 1011.2,891.9 1001.9,901.2 998.1,897.5 994.4,891.9 990.6,888.1 992.5,882.5 998.1,878.8 1003.8,873.1 1000.0,869.4 1003.8,865.6 1011.2,861.9 1018.8,858.1 1024.4,852.5 1026.2,845.0 1022.5,839.4 1016.9,833.8 1011.2,830.0 1013.1,822.5 1011.2,815.0 1015.0,809.4 1022.5,805.6" fill="#3f3f3f"/>
<polygon points="1052.5,867.5 1060.0,863.8 1067.5,860.0 1075.0,867.5 1076.9,875.0 1071.2,882.5 1065.6,888.1 1060.0,895.6 1054.4,897.5 1050.6,891.9 1052.5,884.4" fill="#343434"/>
<polygon points="1026.2,878.8 1033.8,875.0 1041.2,871.2 1048.8,873.1 1052.5,878.8 1051.6,886.2 1048.8,893.8 1043.1,895.6 1037.5,895.6 1031.9,893.8 1028.1,888.1" fill="#686868"/>
<polygon points="981.2,891.9 988.8,886.2 994.4,891.9 998.1,897.5 1001.9,901.2 1009.4,901.2 1016.9,898.4 1024.4,895.6 1031.9,893.8 1037.5,895.6 1043.1,899.4 1046.9,905.0 1041.2,910.6 1033.8,916.2 1026.2,918.1 1018.8,916.2 1011.2,914.4 1003.8,910.6 996.2,905.0 988.8,901.2 983.1,897.5" fill="#686868"/>
<polygon points="1067.5,882.5 1075.0,878.8 1082.5,880.6 1090.0,884.4 1097.5,886.2 1105.0,888.1 1112.5,891.9 1114.4,901.2 1112.5,910.6 1105.0,916.2 1101.2,923.8 1105.0,931.2 1101.2,942.5 1095.6,950.0 1071.2,950.0 1073.1,938.8 1071.2,927.5 1075.0,916.2 1078.8,908.8 1073.1,901.2 1067.5,893.8" fill="#686868"/>
<polygon points="880.0,817.8 889.4,815.0 896.9,807.5 904.4,801.9 911.9,796.2 919.4,794.4 926.9,792.5 932.5,800.0 936.2,809.4 941.9,818.8 949.4,828.1 953.1,837.5 951.2,848.8 958.8,854.4 968.1,858.1 973.8,865.6 979.4,875.0 985.0,884.4 981.2,891.9 973.8,897.5 966.2,905.0 958.8,912.5 951.2,918.1 941.9,923.8 932.5,929.4 925.0,938.8 917.5,946.2 913.8,950.0 767.5,950.0 767.5,817.8" fill="#363636"/>
<polygon points="881.5,717.5 885.8,713.9 891.7,714.6 896.0,719.0 899.0,724.8 901.9,730.6 903.3,735.0 900.4,737.9 903.3,742.3 907.7,745.2 909.9,749.6 906.2,753.2 901.9,755.4 898.2,754.0 895.3,749.6 891.7,745.2 888.0,740.8 885.8,735.0 886.6,729.2 885.1,723.3 882.2,720.4" fill="#8cc45a"/>
<polygon points="899.0,711.7 906.2,710.9 912.1,712.4 915.0,717.5 913.5,723.3 912.8,730.6 909.2,733.5 904.8,732.1 901.9,727.7 899.0,723.3 897.5,717.5" fill="#686868"/>
<polygon points="903.3,735.0 910.6,734.3 917.9,736.5 920.1,742.3 919.4,749.6 915.0,754.0 912.1,756.9 909.2,751.0 907.7,745.2 903.3,742.3 900.4,737.9" fill="#686868"/>
<polygon points="793.2,762.0 796.9,759.1 800.5,755.4 804.2,754.0 808.5,756.9 812.9,759.8 815.1,764.2 814.4,770.0 816.6,775.8 818.0,781.7 815.8,786.0 812.9,783.1 810.0,778.8 804.2,775.8 799.8,774.4 800.5,770.0 796.9,765.6" fill="#8cc45a"/>
<polygon points="874.2,688.3 880.0,689.8 885.8,691.2 891.7,692.7 894.6,697.1 893.9,702.9 890.2,705.8 887.3,701.5 882.9,698.5 878.5,695.6 874.9,692.7" fill="#777777"/>
<polygon points="1000.0,905.0 1009.4,900.3 1018.8,896.6 1028.1,894.7 1037.5,894.7 1044.1,897.5 1047.8,903.1 1050.6,910.6 1053.4,920.0 1056.2,927.5 1061.9,935.0 1064.7,940.6 1060.0,944.4 1054.4,948.1 1052.5,953.8 1054.4,961.2 1058.1,968.8 1060.9,976.2 1062.8,983.8 1064.7,991.2 1067.5,996.9 1066.6,1004.4 1064.7,1011.9 1063.8,1019.4 1060.0,1025.0 1056.2,1030.6 1046.9,1028.8 1037.5,1025.0 1028.1,1021.2 1018.8,1017.5 1009.4,1015.6 1000.0,1013.8 971.9,1015.6 943.8,1010.0 940.0,953.8 953.1,921.9 977.5,908.8" fill="#575757"/>
<polygon points="1061.9,972.5 1067.5,967.8 1075.0,964.1 1079.7,967.8 1078.8,974.4 1082.5,975.3 1083.4,967.8 1085.3,963.1 1090.0,963.1 1091.9,970.6 1093.8,977.2 1097.5,980.0 1099.4,987.5 1097.5,995.0 1093.8,1000.6 1088.1,1004.4 1082.5,1006.2 1076.9,1002.5 1073.1,996.9 1069.4,991.2 1065.6,985.6 1062.8,980.0" fill="#686868"/>
<polygon points="1106.9,1040.0 1112.5,1034.4 1120.0,1028.8 1127.5,1025.0 1135.0,1021.2 1142.5,1015.6 1150.0,1011.9 1157.5,1004.4 1165.0,1008.1 1172.5,1011.9 1176.2,1015.6 1170.6,1021.2 1166.9,1028.8 1163.1,1036.2 1168.8,1043.8 1174.4,1047.5 1168.8,1053.1 1161.2,1051.2 1153.8,1047.5 1146.2,1043.8 1138.8,1040.0 1135.0,1043.8 1129.4,1047.5 1121.9,1049.4 1114.4,1047.5 1108.8,1045.6" fill="#575757"/>
<polygon points="1176.2,1015.6 1180.0,1008.1 1187.5,1000.6 1196.9,998.8 1206.2,999.7 1215.6,1000.6 1225.0,1002.5 1234.4,1004.4 1242.8,1006.2 1245.6,1015.6 1246.6,1026.9 1250.3,1036.2 1253.1,1043.8 1249.4,1053.1 1240.0,1056.9 1230.6,1058.8 1225.0,1066.2 1219.4,1071.9 1210.0,1070.0 1202.5,1066.2 1195.0,1062.5 1187.5,1056.9 1180.0,1053.1 1174.4,1047.5 1168.8,1043.8 1163.1,1036.2 1166.9,1028.8 1170.6,1021.2" fill="#4a4a4a"/>
<polygon points="1131.2,1094.4 1136.9,1090.6 1144.4,1089.7 1150.0,1094.4 1151.9,1101.9 1155.6,1105.6 1150.0,1111.2 1146.2,1118.8 1140.6,1122.5 1135.0,1118.8 1131.2,1111.2 1129.4,1103.8" fill="#686868"/>
<polygon points="1046.9,1056.9 1052.5,1055.0 1058.1,1056.9 1060.0,1052.2 1062.8,1056.9 1067.5,1060.6 1070.3,1066.2 1071.2,1073.8 1067.5,1076.6 1061.9,1075.6 1056.2,1073.8 1050.6,1070.9 1045.9,1068.1 1046.9,1062.5" fill="#8cc45a"/>
<polygon points="1050.6,910.6 1060.0,906.9 1069.4,905.0 1075.0,897.5 1082.5,891.9 1090.0,888.1 1099.4,890.0 1106.9,895.6 1112.5,903.1 1110.6,912.5 1105.0,916.2 1101.2,923.8 1103.1,935.0 1106.9,944.4 1110.6,953.8 1112.5,965.0 1110.6,972.5 1105.0,976.2 1099.4,980.0 1093.8,977.2 1091.9,970.6 1090.0,963.1 1085.3,963.1 1083.4,967.8 1082.5,975.3 1078.8,974.4 1079.7,967.8 1076.9,963.1 1069.4,965.9 1063.8,968.8 1060.0,970.6 1058.1,968.8 1054.4,961.2 1052.5,953.8 1054.4,948.1 1060.0,944.4 1064.7,940.6 1061.9,935.0 1056.2,927.5 1053.4,920.0" fill="#686868"/>
<polygon points="809.3,883.8 810.7,876.5 811.5,870.6 814.4,864.8 816.6,859.0 821.7,854.6 827.5,850.2 833.3,848.8 840.6,847.3 847.9,848.0 855.2,848.8 862.5,847.3 869.8,848.8 877.1,850.2 884.4,853.1 891.7,854.6 899.0,856.0 901.9,861.9 900.4,869.2 901.9,876.5 906.2,882.3 912.1,888.1 916.5,894.0 917.9,901.2 913.5,904.2 907.7,905.6 903.3,908.5 900.4,912.9 896.0,915.8 891.7,918.8 893.1,924.6 896.0,930.4 900.4,934.8 903.3,940.6 906.2,946.5 906.2,952.3 901.9,947.9 896.0,940.6 891.7,933.3 888.8,926.0 882.9,921.7 877.1,919.5 869.8,917.3 862.5,921.7 856.7,927.5 852.3,933.3 847.9,929.0 843.5,927.5 839.2,926.0 833.3,924.6 829.0,921.7 824.6,918.8 820.2,914.4 817.3,908.5 814.4,902.7 812.2,896.9 810.0,889.6" fill="#343434"/>
<polygon points="900.4,856.0 906.2,853.1 913.5,854.6 920.8,857.5 928.1,861.9 935.4,864.8 939.8,861.9 945.6,859.0 950.0,863.3 955.8,859.0 961.7,856.0 966.0,859.0 970.4,864.8 974.8,870.6 979.2,876.5 983.5,882.3 985.0,889.6 985.0,898.3 979.2,902.7 973.3,908.5 966.0,914.4 958.8,920.2 951.5,924.6 948.5,921.7 942.7,917.3 936.9,918.8 934.0,923.1 929.6,930.4 923.8,936.2 917.9,942.1 912.1,947.9 906.2,952.3 906.2,946.5 903.3,940.6 900.4,934.8 896.0,930.4 893.1,924.6 891.7,918.8 896.0,915.8 900.4,912.9 903.3,908.5 907.7,905.6 913.5,904.2 917.9,901.2 916.5,894.0 912.1,888.1 906.2,882.3 901.9,876.5 900.4,869.2 901.9,861.9" fill="#343434"/>
<polygon points="852.3,933.3 856.7,927.5 862.5,921.7 869.8,917.3 877.1,919.5 882.9,921.7 888.8,926.0 891.7,933.3 896.0,940.6 901.9,947.9 906.2,952.3 912.1,947.9 917.9,942.1 923.8,936.2 929.6,930.4 934.0,923.1 936.9,918.8 942.7,917.3 948.5,921.7 951.5,924.6 958.8,920.2 966.0,914.4 973.3,908.5 979.2,902.7 985.0,898.3 989.4,904.2 993.8,910.0 999.6,912.9 1005.4,918.8 1006.9,926.0 1005.4,933.3 1002.5,939.2 996.7,940.6 990.8,939.2 986.5,942.1 982.1,947.9 977.7,953.8 976.2,959.6 970.4,955.2 964.6,952.3 958.8,953.8 954.4,956.7 950.0,961.0 942.7,965.4 936.9,969.8 932.5,972.0 926.7,971.2 920.8,969.8 915.0,966.9 910.6,962.5 906.2,959.6 900.4,961.0 894.6,961.8 888.8,964.0 882.9,966.9 877.1,969.8 871.2,972.7 865.4,974.9 859.6,977.8 853.8,977.1 847.9,975.6 842.1,976.4 835.5,975.6 836.2,969.8 839.2,965.4 842.1,961.0 843.5,955.2 846.5,950.8 849.4,946.5 850.8,942.1 852.3,936.2" fill="#4e4e4e"/>
<polygon points="936.9,971.2 942.7,965.4 950.0,961.0 954.4,956.7 958.8,953.8 964.6,952.3 970.4,955.2 976.2,959.6 977.7,956.7 982.1,952.3 985.0,946.5 989.4,942.1 995.2,940.6 1001.0,942.1 1006.9,945.0 1011.2,947.9 1017.1,947.9 1022.9,950.8 1028.8,955.2 1030.2,961.0 1027.3,966.9 1022.9,972.7 1018.5,978.5 1014.2,984.4 1009.8,990.2 1006.9,996.0 1004.0,1000.4 999.6,1004.8 995.2,1006.2 990.8,1003.3 986.5,1000.4 982.1,999.0 977.7,997.5 973.3,994.6 969.0,990.2 964.6,987.3 960.2,985.8 955.8,988.8 951.5,993.1 948.5,997.5 945.6,1003.3 941.2,1000.4 936.9,997.5 934.0,993.1 932.5,987.3 934.0,981.5 935.4,975.6" fill="#6cbde9"/>
<polygon points="945.6,1004.8 948.5,997.5 951.5,993.1 955.8,988.8 960.2,985.8 964.6,987.3 969.0,990.2 973.3,994.6 977.7,997.5 982.1,999.0 986.5,1000.4 990.8,1003.3 995.2,1006.2 996.7,1012.1 995.2,1017.9 998.1,1023.8 999.6,1029.6 998.1,1035.4 993.8,1041.2 987.9,1044.2 982.1,1047.1 976.2,1050.0 950.0,1050.0 939.8,1036.1 938.3,1032.5 939.8,1026.7 942.7,1020.8 945.6,1015.0 947.8,1009.2" fill="#4a4a4a"/>
<polygon points="882.9,990.2 885.8,984.4 891.7,980.0 897.5,975.6 900.4,968.3 901.9,964.0 906.2,959.6 910.6,962.5 915.0,966.9 920.8,969.8 926.7,971.2 932.5,972.0 935.4,975.6 934.0,981.5 932.5,987.3 934.0,993.1 931.0,999.0 926.7,1001.9 920.8,1004.8 915.0,1007.7 909.2,1009.2 903.3,1007.7 897.5,1010.6 893.1,1007.7 890.2,1001.9 885.8,997.5 883.6,993.1" fill="#4d4d4d"/>
<polygon points="875.6,1031.0 880.0,1026.7 885.8,1022.3 891.7,1015.0 894.6,1012.1 900.4,1013.5 904.8,1016.5 909.2,1022.3 913.5,1028.1 916.5,1034.0 917.2,1039.8 915.0,1044.2 910.6,1047.1 907.7,1044.2 904.8,1039.8 900.4,1036.9 896.0,1035.4 891.7,1036.9 888.8,1039.8 885.8,1038.3 881.5,1039.1 877.1,1038.3" fill="#757575"/>
<polygon points="909.2,1022.3 904.8,1016.5 903.3,1007.7 909.2,1009.2 915.0,1007.7 920.8,1004.8 926.7,1001.9 931.0,999.0 934.0,993.1 936.9,997.5 941.2,1000.4 945.6,1004.8 947.8,1009.2 945.6,1015.0 942.7,1020.8 939.8,1026.7 938.3,1032.5 939.8,1036.1 935.4,1039.8 929.6,1044.2 923.8,1045.6 917.9,1044.2 917.2,1039.8 916.5,1034.0 913.5,1028.1" fill="#686868"/>
<polygon points="1070.6,1095.6 1072.5,1084.4 1076.2,1075.0 1083.8,1069.4 1093.1,1065.6 1102.5,1063.8 1110.0,1065.6 1113.8,1075.0 1115.6,1084.4 1111.9,1091.9 1108.1,1097.5 1102.5,1101.2 1095.0,1099.4 1089.4,1095.6 1081.9,1097.5 1076.2,1097.5" fill="#4a4a4a"/>
<polygon points="1129.7,1106.9 1131.6,1097.5 1136.2,1091.9 1141.9,1090.0 1147.5,1090.0 1149.4,1095.6 1153.1,1101.2 1149.4,1106.9 1147.5,1114.4 1141.9,1116.2 1134.4,1114.4 1129.7,1110.6" fill="#686868"/>
<polygon points="1099.7,1157.5 1104.4,1148.1 1108.1,1140.6 1115.6,1136.9 1123.1,1135.0 1130.6,1133.1 1136.2,1134.1 1138.1,1142.5 1136.2,1151.9 1137.2,1161.2 1140.0,1170.6 1144.7,1178.1 1141.9,1183.8 1136.2,1189.4 1128.8,1185.6 1123.1,1181.9 1117.5,1183.8 1111.9,1178.1 1108.1,1170.6 1104.4,1165.0" fill="#575757"/>
<polygon points="1136.2,1134.1 1143.8,1135.0 1151.2,1138.8 1158.8,1140.6 1166.2,1144.4 1175.6,1146.2 1185.0,1144.4 1188.8,1151.9 1191.6,1161.2 1188.8,1170.6 1183.1,1178.1 1179.4,1185.6 1175.6,1191.2 1171.9,1196.9 1166.2,1198.8 1160.6,1193.1 1155.0,1189.4 1149.4,1185.6 1144.7,1178.1 1140.0,1170.6 1137.2,1161.2 1136.2,1151.9 1138.1,1142.5" fill="#4a4a4a"/>
<polygon points="973.1,1180.0 978.8,1170.6 986.2,1163.1 995.6,1165.0 1003.1,1170.6 1010.6,1176.2 1016.2,1181.9 1025.6,1180.0 1031.2,1187.5 1029.4,1196.9 1030.3,1208.1 1027.5,1217.5 1020.0,1221.2 1010.6,1222.2 1001.2,1223.1 995.6,1225.0 990.0,1219.4 984.4,1213.8 975.0,1212.8 971.2,1202.5 971.2,1191.2" fill="#474747"/>
<polygon points="967.5,1213.8 975.0,1212.8 984.4,1213.8 990.0,1219.4 995.6,1225.0 1003.1,1228.8 1005.9,1234.4 1005.0,1241.9 999.4,1247.5 993.8,1251.2 988.1,1251.2 983.4,1245.6 978.8,1240.0 973.1,1238.1 969.4,1228.8 967.5,1221.2" fill="#8cc45a"/>
<polygon points="973.1,1238.1 978.8,1240.0 983.4,1245.6 988.1,1251.2 993.8,1251.2 999.4,1247.5 1006.9,1249.4 1014.4,1253.1 1016.2,1260.6 1012.5,1268.1 1010.6,1277.5 1006.9,1285.0 1003.1,1290.6 1001.2,1298.1 993.8,1301.9 986.2,1303.8 978.8,1307.5 973.1,1303.8 965.6,1296.2 960.0,1285.0 958.1,1273.8 960.0,1264.4 963.8,1255.0 967.5,1245.6" fill="#575757"/>
<polygon points="1082.8,1255.0 1089.4,1249.4 1098.8,1245.6 1108.1,1243.8 1117.5,1241.9 1125.0,1240.0 1132.5,1243.8 1137.2,1249.4 1134.4,1255.0 1128.8,1260.6 1132.5,1266.2 1138.1,1271.9 1143.8,1279.4 1145.6,1284.1 1140.0,1283.1 1132.5,1279.4 1125.0,1275.6 1119.4,1273.8 1120.3,1283.1 1115.6,1286.9 1110.0,1285.0 1108.1,1279.4 1102.5,1275.6 1095.0,1277.5 1091.2,1271.9 1087.5,1266.2 1083.8,1262.5" fill="#525252"/>
<polygon points="1316.2,1180.0 1320.0,1172.5 1326.2,1165.0 1330.0,1156.2 1333.8,1162.5 1335.5,1175.0 1336.2,1187.5 1330.0,1190.0 1322.5,1186.2 1317.5,1183.8" fill="#575757"/>
<polygon points="1383.8,1200.0 1390.0,1197.5 1395.0,1190.0 1402.5,1187.5 1410.0,1190.0 1415.0,1197.5 1412.5,1205.0 1405.0,1207.5 1397.5,1210.0 1392.5,1215.0 1386.2,1210.0" fill="#4a4a4a"/>
<polygon points="1395.0,1191.2 1402.5,1188.8 1408.8,1191.2 1411.2,1198.8 1405.0,1203.8 1397.5,1202.5" fill="#575757"/>
<polygon points="1340.0,980.0 1347.5,977.5 1355.0,982.5 1358.8,990.0 1357.5,1000.0 1353.8,1007.5 1348.8,1013.8 1342.5,1015.0 1340.0,1007.5 1341.2,997.5 1340.0,988.8" fill="#4a4a4a"/>
<polygon points="1342.0,981.2 1348.0,979.5 1354.5,984.5 1357.0,991.2 1353.8,997.5 1346.2,996.2 1342.5,990.0" fill="#686868"/>
<polygon points="1297.5,945.0 1307.5,937.5 1320.0,935.0 1330.0,940.0 1340.0,950.0 1350.0,960.0 1360.0,967.5 1367.5,975.0 1362.5,982.5 1355.0,982.5 1347.5,977.5 1340.0,980.0 1330.0,977.5 1320.0,972.5 1310.0,967.5 1302.5,957.5" fill="#3c3c3c"/>
<polygon points="1330.0,197.5 1330.0,200.0 1322.5,207.5 1315.0,216.2 1314.5,226.2 1318.8,236.2 1326.2,243.8 1332.5,252.5 1334.0,262.5 1328.8,270.0 1318.8,277.5 1310.0,281.9 1303.8,286.2 1300.0,291.2 1298.8,297.5 1298.1,303.8 1296.2,306.2 1302.5,305.6 1307.5,307.5 1312.5,311.2 1317.5,315.0 1322.5,316.9 1327.5,313.1 1332.5,310.0 1337.5,311.2 1341.2,316.2 1343.8,322.5 1347.5,328.8 1352.5,333.8 1357.5,338.1 1361.2,342.5 1361.2,347.5 1366.2,350.0 1371.2,355.0 1376.2,360.0 1380.0,363.1 1385.0,360.6 1390.0,359.4 1395.0,362.5 1400.0,365.6 1405.0,366.9 1401.2,370.0 1396.2,372.5 1395.0,378.8 1392.5,383.1 1387.5,387.5 1381.2,391.2 1375.0,394.4 1370.0,395.0 1365.0,391.9 1358.8,390.0 1352.5,390.6 1347.5,388.8 1341.2,390.0 1337.5,395.0 1332.5,397.5 1326.2,398.8 1320.0,400.0 1315.0,401.9 1313.8,407.5 1315.0,413.8 1317.5,420.0 1320.0,426.2 1325.0,431.2 1328.8,437.5 1332.5,442.5 1335.0,447.5 1336.2,450.0 1336.9,455.0 1338.8,460.0 1335.6,463.8 1333.8,468.8 1335.6,473.8 1340.0,477.5 1343.8,481.9 1347.5,485.0 1345.6,488.1 1341.2,490.0 1340.0,493.8 1343.8,498.8 1345.6,503.8 1348.1,508.8 1346.9,512.5 1343.8,515.0 1343.1,520.0 1345.0,523.8 1343.8,527.5 1340.0,531.2 1336.2,535.0 1335.6,538.8 1335.0,541.2 1330.0,541.9 1323.8,543.1 1317.5,543.8 1311.2,543.8 1305.0,544.4 1301.2,547.5 1297.5,550.0 1293.8,552.5 1296.2,556.2 1298.8,560.0 1300.0,565.0 1301.2,570.0 1299.4,575.0 1296.2,580.0 1295.0,585.0 1296.9,590.0 1300.0,595.0 1302.5,600.0 1303.8,605.0 1305.0,610.0 1306.2,613.8 1303.8,616.2 1301.2,621.2 1303.8,625.0 1302.5,628.8 1297.5,626.9 1292.5,628.1 1287.5,628.1 1281.2,625.0 1276.2,624.4 1273.1,627.5 1271.9,632.5 1267.5,636.2 1262.5,640.0 1256.2,643.1 1252.5,646.2 1250.0,650.0 1245.0,651.2 1238.8,652.5 1233.8,655.0 1228.8,657.5 1225.0,660.0 1223.1,663.8 1223.8,668.8 1226.2,673.8 1230.0,677.5 1234.4,681.2 1237.5,686.2 1241.9,689.4 1246.2,691.2 1251.2,693.1 1254.4,696.2 1252.5,700.0 1250.0,703.8 1253.8,706.2 1250.0,710.0 1247.5,713.8 1248.8,718.8 1252.5,721.2 1253.8,724.4 1250.0,726.2 1243.8,726.2 1237.5,726.2 1233.8,730.0 1233.1,735.0 1236.2,738.8 1232.5,743.8 1236.2,747.5 1235.0,752.5 1231.2,756.2 1227.5,759.4 1225.0,763.8 1223.8,768.8 1224.4,773.8 1223.8,780.0 1221.9,777.7 1219.0,783.5 1220.4,787.9 1226.2,788.6 1229.2,785.0 1234.3,785.7 1237.2,789.4 1235.7,793.8 1237.2,799.6 1240.1,804.7 1243.8,806.9 1249.6,805.4 1254.0,806.9 1257.6,811.2 1262.7,815.6 1267.8,820.0 1271.5,825.8 1275.8,830.2 1281.7,834.6 1287.5,839.0 1292.6,843.3 1295.5,849.2 1297.0,855.0 1299.9,859.4 1305.0,860.8 1309.4,861.6 1313.8,858.6 1318.1,857.2 1324.0,854.3 1324.7,850.6 1321.0,847.7 1315.2,844.8 1312.3,841.1 1315.2,837.5 1321.0,834.6 1326.9,833.9 1332.7,834.6 1337.1,837.5 1342.2,839.7 1347.3,840.4 1351.7,839.0 1354.6,841.9 1356.8,846.2 1360.4,850.6 1364.8,849.2 1369.2,846.2 1369.9,840.4 1370.6,833.1 1369.9,825.8 1370.6,818.5 1375.0,814.2 1380.8,812.0 1385.2,812.7 1385.9,818.5 1388.9,822.9 1391.0,827.3 1394.0,831.7 1398.3,834.6 1404.2,833.9 1410.0,833.1 1415.8,832.4 1423.1,830.2 1429.0,830.9 1433.3,829.5 1439.2,828.8 1443.5,831.7 1447.2,836.0 1450.8,839.0 1455.2,841.1 1459.6,843.3 1462.5,845.5 1464.0,850.6 1468.0,853.0 1476.0,868.0 1490.0,882.0 1900.0,882.0 1900.0,0.0 1400.0,0.0 1400.0,150.0 1332.0,192.0" fill="#3fa7e0"/>
<polygon points="897.5,310.6 925.6,312.5 936.9,312.5 938.8,310.6 942.5,308.8 950.0,308.8 955.6,307.2 961.2,307.8 967.8,310.6 974.4,311.6 981.9,308.8 989.4,307.8 995.9,305.9 998.8,309.7 995.9,314.4 992.2,320.0 988.4,324.7 983.8,329.4 980.9,334.1 980.0,339.7 974.4,342.5 972.5,350.0 972.5,359.4 976.2,365.0 981.9,370.6 983.8,378.1 989.4,381.9 995.0,386.6 991.2,393.1 983.8,396.9 980.0,402.5 980.0,410.0 972.5,413.8 965.0,415.6 957.5,419.4 951.9,415.6 944.4,417.5 938.8,414.7 931.2,417.5 923.8,421.2 920.0,426.9 921.9,434.4 918.1,441.9 912.5,443.8 897.5,443.8" fill="#3d3d3d"/>
<polygon points="905.9,310.6 905.0,301.2 905.9,290.0 907.8,280.6 909.7,275.0 913.4,276.9 917.2,274.1 914.4,269.4 916.2,264.7 920.9,260.0 926.6,255.3 933.1,250.6 940.6,248.4 950.0,247.8 958.4,249.1 959.4,254.4 953.8,258.1 950.9,261.9 950.4,272.2 953.8,274.1 963.1,272.2 972.5,270.3 975.3,275.0 978.1,280.6 980.0,286.2 984.7,290.0 989.4,295.6 993.1,301.2 995.9,305.9 989.4,307.8 981.9,308.8 974.4,311.6 967.8,310.6 961.2,307.8 955.6,307.2 950.0,308.8 942.5,308.8 938.8,310.6 936.9,312.5 925.6,312.5 916.2,312.5" fill="#e84c65"/>
<polygon points="959.4,254.4 958.4,249.1 965.0,247.2 974.4,245.0 983.8,243.5 995.0,242.8 1006.2,240.3 1019.4,240.3 1023.1,254.4 1026.9,260.0 1030.6,264.7 1031.6,271.2 1028.8,275.0 1025.0,278.8 1023.1,283.4 1024.1,288.1 1027.8,291.9 1032.5,295.6 1035.3,300.3 1033.4,305.9 1029.7,309.7 1025.0,311.6 1020.3,310.6 1015.6,314.4 1011.9,312.5 1008.1,308.8 1002.5,307.8 995.9,305.9 993.1,301.2 989.4,295.6 984.7,290.0 980.0,286.2 978.1,280.6 975.3,275.0 972.5,270.3 963.1,272.2 953.8,274.1 950.4,272.2 950.9,261.9 953.8,258.1" fill="#676767"/>
<polygon points="995.9,305.9 1002.5,307.8 1008.1,308.8 1011.9,312.5 1015.6,314.4 1020.3,310.6 1025.0,311.6 1029.7,309.7 1033.4,312.5 1038.1,317.2 1042.8,321.9 1045.6,329.4 1046.6,336.9 1045.6,344.4 1042.8,350.0 1038.1,355.6 1032.5,353.8 1026.9,354.7 1022.2,357.5 1019.4,361.2 1014.7,359.4 1010.0,355.6 1005.3,351.9 1001.6,348.1 997.8,344.4 995.0,341.6 989.4,340.6 983.8,338.8 980.9,334.1 983.8,329.4 988.4,324.7 992.2,320.0 995.9,314.4 998.8,309.7" fill="#787878"/>
<polygon points="1038.1,355.6 1042.8,350.0 1045.6,344.4 1046.6,336.9 1045.6,329.4 1042.8,321.9 1038.1,317.2 1033.4,312.5 1033.4,305.9 1035.3,300.3 1042.8,299.4 1044.7,290.0 1045.6,282.5 1040.9,276.9 1038.1,271.2 1040.0,261.9 1047.5,260.0 1053.1,262.8 1058.8,267.5 1064.4,272.2 1066.2,280.6 1067.2,288.1 1066.2,297.5 1067.2,306.9 1066.2,316.2 1066.2,327.5 1070.0,335.0 1077.5,342.5 1085.0,351.9 1088.8,359.4 1086.9,366.9 1085.0,374.4 1085.9,383.8 1084.1,393.1 1081.2,398.8 1075.6,402.5 1070.0,405.3 1066.2,407.2 1062.5,403.4 1056.9,399.7 1053.1,396.9 1047.5,396.9 1040.0,395.0 1034.4,389.4 1030.6,383.8 1027.8,376.2 1025.9,368.8 1023.1,363.1 1019.4,361.2 1022.2,357.5 1026.9,354.7 1032.5,353.8" fill="#676767"/>
<polygon points="972.5,470.0 971.6,458.8 972.5,447.5 976.2,438.1 983.8,430.6 991.2,426.9 998.8,425.9 1004.4,429.7 1011.9,427.8 1017.5,432.5 1021.2,440.0 1019.4,449.4 1017.5,458.8 1019.4,470.0" fill="#484848"/>
<polygon points="1067.2,263.8 1073.8,262.8 1079.4,264.7 1084.1,262.8 1081.2,268.4 1085.0,275.0 1083.1,280.6 1077.5,282.5 1071.9,285.3 1067.2,286.2 1070.0,280.6 1074.7,275.0 1071.9,269.4" fill="#f0667a"/>
<polygon points="1066.2,331.2 1070.0,330.3 1073.8,334.1 1078.4,333.1 1079.4,337.8 1085.0,340.6 1090.6,342.5 1096.2,344.4 1101.9,348.1 1105.6,353.8 1101.9,359.4 1098.1,365.0 1092.5,366.9 1087.8,361.2 1085.0,355.6 1082.2,350.0 1077.5,344.4 1071.9,339.7 1067.2,335.0" fill="#f0667a"/>
<polygon points="1105.6,353.8 1111.2,350.0 1116.9,346.2 1120.6,350.0 1119.7,357.5 1120.6,365.0 1115.0,369.7 1109.4,367.8 1103.8,365.9 1098.1,365.0 1101.9,359.4" fill="#f47d8c"/>
<polygon points="1552.5,362.5 1556.2,351.2 1563.8,345.6 1575.0,343.8 1586.2,345.6 1593.8,351.2 1599.4,358.8 1605.0,366.2 1610.6,373.8 1612.5,383.1 1608.8,392.5 1609.7,401.9 1606.9,411.2 1605.0,420.6 1603.1,430.0 1599.4,439.4 1590.0,435.6 1582.5,441.2 1576.9,448.8 1573.1,456.2 1571.2,463.8 1561.9,465.6 1552.5,463.8 1543.1,461.9 1533.8,465.6 1531.9,460.0 1535.6,452.5 1543.1,450.6 1548.8,445.0 1552.5,437.5 1550.6,430.0 1545.0,424.4 1541.2,420.6 1548.8,415.0 1552.5,405.6 1554.4,396.2 1560.0,388.8 1563.8,377.5 1561.9,368.1" fill="#57b1e4"/>
<polygon points="1475.6,433.8 1485.0,431.9 1494.4,433.8 1496.2,445.0 1503.8,450.6 1515.0,454.4 1524.4,452.5 1531.9,460.0 1533.8,465.6 1543.1,461.9 1550.6,467.5 1548.8,476.9 1545.0,488.1 1543.1,495.6 1550.6,499.4 1560.0,503.1 1567.5,510.6 1575.0,505.0 1582.5,503.1 1590.0,505.0 1597.5,499.4 1599.4,490.0 1605.0,484.4 1612.5,480.6 1620.0,486.2 1629.4,491.9 1636.9,486.2 1640.6,495.6 1646.2,503.1 1650.0,512.5 1651.9,523.8 1657.5,529.4 1666.9,531.2 1676.2,536.9 1685.6,542.5 1695.0,540.6 1704.4,546.2 1710.0,551.9 1708.1,561.2 1702.5,566.9 1693.1,570.6 1683.8,574.4 1674.4,576.2 1665.0,572.5 1655.6,574.4 1650.0,581.9 1646.2,589.4 1636.9,589.4 1627.5,585.6 1618.1,589.4 1608.8,587.5 1599.4,583.8 1590.0,581.9 1580.6,576.2 1574.1,583.8 1571.2,576.2 1565.6,574.4 1558.1,570.6 1550.6,566.9 1543.1,563.1 1537.5,557.5 1530.0,559.4 1522.5,555.6 1515.0,551.9 1505.6,550.0 1498.1,546.2 1490.6,542.5 1483.1,535.0 1477.5,527.5 1473.8,520.0 1476.6,510.6 1479.4,501.2 1480.3,490.0 1481.2,478.8 1483.1,469.4 1479.4,460.0 1472.8,454.4 1468.1,448.8 1470.0,439.4" fill="#57b1e4"/>
<polygon points="1571.2,478.8 1569.4,471.2 1573.1,463.8 1575.0,456.2 1576.9,448.8 1582.5,441.2 1590.0,435.6 1590.0,431.9 1595.6,437.5 1599.4,443.1 1601.2,450.6 1603.1,458.1 1605.0,467.5 1603.1,476.9 1599.4,482.5 1593.8,478.8 1586.2,476.9 1578.8,480.6 1573.1,480.6" fill="#6c6c6c"/>
<polygon points="1582.5,441.2 1590.0,435.6 1590.0,431.9 1595.6,437.5 1599.4,443.1 1600.3,450.6 1593.8,452.5 1588.1,448.8 1584.4,445.0" fill="#595959"/>
<polygon points="1575.0,469.4 1582.5,465.6 1590.0,467.5 1597.5,469.4 1603.1,471.2 1603.1,476.9 1599.4,482.5 1593.8,478.8 1586.2,476.9 1578.8,480.6 1573.1,480.6 1571.2,475.0" fill="#5f5f5f"/>
<polygon points="1599.4,443.1 1605.0,437.5 1608.8,432.8 1612.5,431.9 1615.3,437.5 1616.2,445.0 1614.4,452.5 1608.8,454.4 1606.9,461.9 1608.8,469.4 1618.1,469.4 1627.5,467.5 1635.0,469.4 1638.8,475.0 1636.9,482.5 1631.2,488.1 1629.4,491.9 1623.8,486.2 1616.2,480.6 1610.6,476.9 1605.0,475.0 1603.1,467.5 1601.2,458.1 1600.3,450.6" fill="#e06aa5"/>
<polygon points="1550.6,467.5 1552.5,463.8 1561.9,465.6 1569.4,471.2 1571.2,478.8 1578.8,480.6 1586.2,476.9 1593.8,478.8 1591.9,486.2 1588.1,491.9 1591.9,495.6 1597.5,497.5 1599.4,503.1 1593.8,506.9 1586.2,505.0 1578.8,503.1 1573.1,506.9 1569.4,510.6 1563.8,505.0 1560.0,499.4 1552.5,497.5 1545.0,495.6 1544.1,491.9 1548.8,490.0 1554.4,488.1 1552.5,480.6 1550.6,475.0" fill="#8e8c8a"/>
<polygon points="1448.8,160.0 1457.5,151.2 1467.5,146.2 1475.0,142.5 1481.2,140.0 1486.2,147.5 1490.0,160.0 1492.5,170.0 1502.5,172.5 1512.5,177.5 1520.0,182.5 1512.5,190.0 1505.0,197.5 1495.0,195.0 1485.0,197.5 1477.5,200.0 1470.0,202.5 1465.0,207.5 1460.0,215.0 1452.5,210.0 1451.2,200.0 1450.0,190.0 1447.5,180.0 1448.8,170.0" fill="#84c6ec"/>
<polygon points="1330.0,200.0 1337.5,193.8 1341.2,200.0 1340.0,210.0 1347.5,217.5 1350.0,227.5 1360.0,230.0 1372.5,232.5 1385.0,230.0 1392.5,237.5 1391.2,250.0 1390.0,262.5 1392.5,275.0 1395.0,285.0 1402.5,287.5 1407.5,295.0 1412.5,305.0 1417.5,315.0 1425.0,322.5 1430.0,322.5 1420.0,330.0 1410.0,327.5 1402.5,332.5 1390.0,340.0 1380.0,347.5 1370.0,357.5 1360.0,350.0 1353.8,342.5 1347.5,335.0 1342.5,327.5 1338.8,320.0 1332.5,315.0 1325.0,312.5 1315.0,308.8 1305.0,303.8 1300.0,298.8 1303.0,291.2 1308.8,285.0 1318.8,277.5 1328.8,270.0 1334.0,262.5 1332.5,252.5 1326.2,243.8 1318.8,236.2 1314.5,226.2 1315.0,216.2 1322.5,207.5" fill="#4dade2"/>
<polygon points="1553.8,360.0 1555.0,352.5 1562.5,345.0 1570.0,340.0 1577.5,342.5 1585.0,350.0 1590.0,360.0" fill="#6abae7"/>
<polygon points="1435.0,637.5 1438.8,628.1 1442.5,620.6 1448.1,615.0 1455.6,612.2 1465.0,613.1 1472.5,611.2 1478.1,614.1 1481.9,620.6 1480.0,626.2 1474.4,630.0 1469.7,637.5 1468.8,646.9 1467.8,655.3 1459.4,654.4 1451.9,655.3 1444.4,654.4 1442.5,648.8 1436.9,645.0" fill="#6abae7"/>
<polygon points="1328.1,705.0 1331.9,693.8 1339.4,684.4 1345.0,675.0 1350.6,672.2 1354.4,678.8 1360.0,684.4 1367.5,682.5 1375.0,678.8 1380.6,682.5 1386.2,691.9 1390.9,697.5 1393.8,705.0 1401.2,707.8 1408.8,708.8 1414.4,714.4 1408.8,720.0 1403.1,725.6 1401.2,731.2 1406.9,735.0 1412.5,738.8 1414.4,744.4 1408.8,750.0 1401.2,751.9 1395.6,750.0 1390.0,755.6 1384.4,759.4 1378.8,761.2 1373.1,757.5 1367.5,759.4 1361.9,763.1 1358.1,757.5 1354.4,750.0 1352.5,744.4 1345.0,746.2 1337.5,744.4 1331.9,740.6 1328.1,733.1 1326.2,723.8 1326.2,714.4" fill="#57b1e4"/>
<polygon points="1326.2,723.8 1331.9,720.0 1339.4,718.1 1345.0,714.4 1350.6,716.2 1354.4,721.9 1361.9,722.8 1369.4,721.9 1376.9,722.8 1382.5,727.5 1383.4,733.1 1378.8,736.9 1371.2,738.8 1363.8,737.8 1356.2,738.8 1352.5,744.4 1345.0,746.2 1337.5,744.4 1331.9,740.6 1328.1,733.1" fill="#84c6ec"/>
<polygon points="1477.2,656.2 1483.8,654.4 1491.2,653.4 1496.9,649.7 1502.5,652.5 1503.4,660.0 1508.1,663.8 1510.0,669.4 1504.4,673.1 1502.5,669.4 1495.0,668.4 1489.4,665.6 1483.8,669.4 1477.2,670.3" fill="#84c6ec"/>
<polygon points="1477.2,670.3 1483.8,669.4 1489.4,665.6 1495.0,668.4 1502.5,669.4 1504.4,674.1 1503.4,680.6 1498.8,678.8 1493.1,676.9 1487.5,679.7 1481.9,682.5 1478.1,685.3 1476.2,678.8" fill="#e0508c"/>
<polygon points="1532.5,757.5 1538.1,750.0 1545.6,746.2 1553.1,747.2 1560.6,750.0 1564.4,755.6 1562.5,763.1 1556.9,766.9 1551.2,768.8 1553.1,774.4 1547.5,772.5 1541.9,765.0 1536.2,763.1" fill="#57b1e4"/>
<polygon points="1621.2,715.0 1625.0,710.0 1631.2,710.0 1635.0,706.2 1640.0,700.0 1645.0,693.8 1650.0,691.9 1657.5,692.5 1661.2,696.2 1666.2,698.8 1672.5,697.5 1678.8,696.9 1680.0,700.0 1676.2,703.8 1672.5,707.5 1668.8,712.5 1663.8,716.2 1658.8,720.0 1655.0,725.0 1651.2,730.0 1647.5,731.9 1642.5,730.0 1637.5,727.5 1632.5,725.0 1627.5,722.5 1622.5,720.0" fill="#6abae7"/>
<polygon points="1400.0,535.0 1405.0,522.5 1412.5,512.5 1417.5,520.0 1420.0,532.5 1427.5,540.0 1435.0,550.0 1442.5,560.0 1447.5,570.0 1440.0,572.5 1430.0,570.0 1422.5,572.5 1417.5,565.0 1410.0,557.5 1405.0,547.5" fill="#57b1e4"/>
<polygon points="1437.5,635.0 1440.0,625.0 1447.5,617.5 1457.5,612.5 1467.5,610.0 1475.0,615.0 1480.0,625.0 1477.5,635.0 1472.5,645.0 1467.5,653.8 1460.0,655.0 1452.5,652.5 1445.0,647.5 1440.0,642.5" fill="#6abae7"/>
</g>
<g clip-path="url(#ger)" fill="none" stroke-linejoin="round" stroke-linecap="round">
<polyline points="1330.0,197.5 1330.0,200.0 1322.5,207.5 1315.0,216.2 1314.5,226.2 1318.8,236.2 1326.2,243.8 1332.5,252.5 1334.0,262.5 1328.8,270.0 1318.8,277.5 1310.0,281.9 1303.8,286.2 1300.0,291.2 1298.8,297.5 1298.1,303.8 1296.2,306.2 1302.5,305.6 1307.5,307.5 1312.5,311.2 1317.5,315.0 1322.5,316.9 1327.5,313.1 1332.5,310.0 1337.5,311.2 1341.2,316.2 1343.8,322.5 1347.5,328.8 1352.5,333.8 1357.5,338.1 1361.2,342.5 1361.2,347.5 1366.2,350.0 1371.2,355.0 1376.2,360.0 1380.0,363.1 1385.0,360.6 1390.0,359.4 1395.0,362.5 1400.0,365.6 1405.0,366.9 1401.2,370.0 1396.2,372.5 1395.0,378.8 1392.5,383.1 1387.5,387.5 1381.2,391.2 1375.0,394.4 1370.0,395.0 1365.0,391.9 1358.8,390.0 1352.5,390.6 1347.5,388.8 1341.2,390.0 1337.5,395.0 1332.5,397.5 1326.2,398.8 1320.0,400.0 1315.0,401.9 1313.8,407.5 1315.0,413.8 1317.5,420.0 1320.0,426.2 1325.0,431.2 1328.8,437.5 1332.5,442.5 1335.0,447.5 1336.2,450.0 1336.9,455.0 1338.8,460.0 1335.6,463.8 1333.8,468.8 1335.6,473.8 1340.0,477.5 1343.8,481.9 1347.5,485.0 1345.6,488.1 1341.2,490.0 1340.0,493.8 1343.8,498.8 1345.6,503.8 1348.1,508.8 1346.9,512.5 1343.8,515.0 1343.1,520.0 1345.0,523.8 1343.8,527.5 1340.0,531.2 1336.2,535.0 1335.6,538.8 1335.0,541.2 1330.0,541.9 1323.8,543.1 1317.5,543.8 1311.2,543.8 1305.0,544.4 1301.2,547.5 1297.5,550.0 1293.8,552.5 1296.2,556.2 1298.8,560.0 1300.0,565.0 1301.2,570.0 1299.4,575.0 1296.2,580.0 1295.0,585.0 1296.9,590.0 1300.0,595.0 1302.5,600.0 1303.8,605.0 1305.0,610.0 1306.2,613.8 1303.8,616.2 1301.2,621.2 1303.8,625.0 1302.5,628.8 1297.5,626.9 1292.5,628.1 1287.5,628.1 1281.2,625.0 1276.2,624.4 1273.1,627.5 1271.9,632.5 1267.5,636.2 1262.5,640.0 1256.2,643.1 1252.5,646.2 1250.0,650.0 1245.0,651.2 1238.8,652.5 1233.8,655.0 1228.8,657.5 1225.0,660.0 1223.1,663.8 1223.8,668.8 1226.2,673.8 1230.0,677.5 1234.4,681.2 1237.5,686.2 1241.9,689.4 1246.2,691.2 1251.2,693.1 1254.4,696.2 1252.5,700.0 1250.0,703.8 1253.8,706.2 1250.0,710.0 1247.5,713.8 1248.8,718.8 1252.5,721.2 1253.8,724.4 1250.0,726.2 1243.8,726.2 1237.5,726.2 1233.8,730.0 1233.1,735.0 1236.2,738.8 1232.5,743.8 1236.2,747.5 1235.0,752.5 1231.2,756.2 1227.5,759.4 1225.0,763.8 1223.8,768.8 1224.4,773.8 1223.8,780.0 1221.9,777.7 1219.0,783.5 1220.4,787.9 1226.2,788.6 1229.2,785.0 1234.3,785.7 1237.2,789.4 1235.7,793.8 1237.2,799.6 1240.1,804.7 1243.8,806.9 1249.6,805.4 1254.0,806.9 1257.6,811.2 1262.7,815.6 1267.8,820.0 1271.5,825.8 1275.8,830.2 1281.7,834.6 1287.5,839.0 1292.6,843.3 1295.5,849.2 1297.0,855.0 1299.9,859.4 1305.0,860.8 1309.4,861.6 1313.8,858.6 1318.1,857.2 1324.0,854.3 1324.7,850.6 1321.0,847.7 1315.2,844.8 1312.3,841.1 1315.2,837.5 1321.0,834.6 1326.9,833.9 1332.7,834.6 1337.1,837.5 1342.2,839.7 1347.3,840.4 1351.7,839.0 1354.6,841.9 1356.8,846.2 1360.4,850.6 1364.8,849.2 1369.2,846.2 1369.9,840.4 1370.6,833.1 1369.9,825.8 1370.6,818.5 1375.0,814.2 1380.8,812.0 1385.2,812.7 1385.9,818.5 1388.9,822.9 1391.0,827.3 1394.0,831.7 1398.3,834.6 1404.2,833.9 1410.0,833.1 1415.8,832.4 1423.1,830.2 1429.0,830.9 1433.3,829.5 1439.2,828.8 1443.5,831.7 1447.2,836.0 1450.8,839.0 1455.2,841.1 1459.6,843.3 1462.5,845.5 1464.0,850.6" stroke="#eef8fd" stroke-width="2.15"/>
<polyline points="911.9,507.8 923.1,504.1 934.4,500.3 943.8,495.6 953.1,490.0 960.6,484.4 966.2,476.9 970.0,469.4 977.5,472.2 985.0,478.8 992.5,483.4 1001.9,485.3 1009.4,488.1 1009.4,495.6 1005.6,502.2 1004.7,510.6 1005.6,518.1 1011.2,520.9 1015.0,523.8 1014.1,530.3 1009.4,534.1 1003.8,536.9 1007.5,540.6 1015.0,542.5 1022.5,540.6 1030.0,537.8 1037.5,534.1 1045.0,531.2 1048.8,529.4 1054.4,531.2 1060.0,525.6 1067.5,520.0 1063.8,514.4 1062.8,505.0 1063.8,495.6 1061.9,488.1 1056.2,482.5 1048.8,479.7 1046.9,473.1 1050.6,470.3 1058.1,467.5 1063.8,463.8 1071.2,461.9 1078.8,459.1 1084.4,458.1 1088.1,462.8 1090.0,471.2 1091.9,479.7 1099.4,481.6 1108.8,480.6 1116.2,477.8 1121.9,473.1 1125.6,467.5 1131.2,464.7 1135.0,467.5 1134.1,476.9 1130.3,484.4 1125.6,490.0 1121.9,495.6 1120.0,503.1 1121.9,508.8 1127.5,512.5 1125.6,518.1 1123.8,521.9 1131.2,527.5 1136.9,532.2 1140.6,538.8 1141.6,548.1 1144.4,555.6 1150.0,561.2 1154.7,566.9 1159.4,572.5 1166.9,575.3 1171.6,578.1 1170.6,587.5 1167.8,596.9 1165.0,606.2 1163.1,613.8" stroke="#ededed" stroke-width="2.15"/>
<polyline points="1163.1,613.8 1161.2,617.5 1157.5,628.8 1150.0,640.0 1142.5,646.6 1133.1,647.5 1131.2,640.0 1121.9,638.1 1112.5,641.9 1110.6,649.4 1114.4,655.0 1105.0,662.5 1091.9,664.4 1084.4,668.1 1078.8,675.6 1075.0,683.1 1080.6,690.6 1090.0,692.5 1095.6,700.0 1091.9,704.4 1086.2,708.1 1078.8,709.1 1071.2,712.8 1067.5,720.3 1067.5,728.8 1063.8,736.2 1058.1,743.8 1050.6,747.5 1043.1,749.4 1037.5,755.0 1031.9,760.6 1028.1,768.1 1030.0,775.6 1028.1,781.2" stroke="#ededed" stroke-width="2.15"/>
<polyline points="1028.1,781.2 1022.5,777.5 1018.8,771.9 1015.0,764.4 1011.2,756.9 1005.6,753.1 1000.0,749.4 996.2,743.8 994.4,738.1 990.6,740.0 986.9,745.6 985.0,753.1 981.2,758.8 975.6,763.4 968.1,768.1 960.6,771.9 953.1,773.8 945.6,777.5 941.9,785.0 934.4,788.8 926.9,790.6 919.4,792.5 911.9,794.4 904.4,800.0 896.9,803.8 894.1,809.4 889.4,815.0 883.8,816.9 880.0,817.8 877.1,824.0 877.8,829.8 875.6,834.2 869.8,835.6 862.5,835.6 856.7,834.2 850.8,835.6 845.0,837.1 839.2,837.8 836.2,834.9 833.3,833.4" stroke="#ededed" stroke-width="2.15"/>
<polyline points="1163.1,613.8 1172.5,615.6 1181.9,617.5 1191.2,621.2 1196.9,626.9 1193.1,632.5 1188.4,638.1 1189.4,647.5 1187.5,656.9 1183.8,664.4 1189.4,671.9 1196.9,673.8 1202.5,668.1 1211.9,662.5 1219.4,660.6 1223.1,655.0 1226.9,653.1" stroke="#ededed" stroke-width="2.15"/>
<polyline points="1028.1,781.2 1030.0,788.8 1029.1,796.2 1028.1,801.9 1022.5,805.6 1015.0,809.4 1011.2,815.0 1013.1,822.5 1011.2,830.0 1016.9,833.8 1022.5,839.4 1026.2,845.0 1024.4,852.5 1018.8,858.1 1011.2,861.9 1003.8,865.6 1000.0,869.4 1003.8,873.1 998.1,878.8 992.5,882.5 990.6,888.1 994.4,891.9 998.1,897.5 1000.0,905.0 1009.4,900.3 1018.8,896.6 1028.1,894.7 1037.5,894.7 1044.1,897.5 1047.8,903.1 1050.6,910.6 1053.4,920.0 1056.2,927.5 1061.9,935.0 1064.7,940.6 1060.0,944.4 1054.4,948.1 1052.5,953.8 1054.4,961.2 1058.1,968.8 1060.0,970.6" stroke="#ededed" stroke-width="2.15"/>
<polyline points="1060.0,970.6 1060.9,976.2 1062.8,983.8 1064.7,991.2 1067.5,996.9 1066.6,1004.4 1064.7,1011.9 1063.8,1019.4 1060.0,1025.0 1056.2,1030.6 1055.3,1038.1 1053.4,1045.6 1051.6,1053.1 1048.8,1058.8 1045.0,1064.4 1041.2,1068.1 1036.6,1072.8" stroke="#ededed" stroke-width="2.15"/>
<polyline points="1060.0,970.6 1063.8,968.8 1069.4,965.9 1076.9,963.1 1079.7,967.8 1078.8,974.4 1082.5,975.3 1083.4,967.8 1085.3,963.1 1090.0,963.1 1091.9,970.6 1093.8,977.2 1100.3,980.0 1105.9,981.9 1111.6,980.0 1109.7,985.6 1105.0,989.4 1102.8,995.0 1102.2,1000.2 1107.8,999.7 1113.4,995.9 1116.2,990.3 1120.0,986.6 1125.6,984.7 1131.2,981.9 1135.0,977.2" stroke="#ededed" stroke-width="2.15"/>
<polyline points="1236.2,807.5 1232.5,815.0 1226.9,820.6 1217.5,826.2 1208.1,828.1 1205.3,833.8 1204.4,841.2 1202.5,846.9 1196.9,850.6 1191.2,854.4 1187.5,858.1 1181.9,857.2 1178.1,860.0 1168.8,865.6 1159.4,871.2 1150.0,875.0 1140.6,878.8 1131.2,882.5 1121.9,886.2 1124.7,893.8 1125.6,903.1 1127.5,912.5 1129.4,921.9 1131.2,929.4 1135.0,935.0 1136.9,942.5 1135.9,950.0 1133.1,957.5 1131.2,965.0 1132.2,970.6 1135.0,977.2" stroke="#ededed" stroke-width="2.15"/>
<polyline points="1135.0,977.2 1142.5,968.8 1150.0,965.0 1153.8,957.5 1161.2,953.8 1166.9,955.6 1167.8,948.1 1161.2,944.4 1156.6,940.6 1161.2,935.0 1168.8,934.1 1178.1,935.0 1187.5,934.1 1192.2,935.0 1193.1,942.5 1198.8,947.2 1206.2,946.2 1212.8,950.9 1215.6,957.5 1218.4,965.0 1222.2,969.7 1215.6,972.5 1211.9,974.4 1217.5,977.2 1225.0,980.0 1230.6,982.8 1236.2,978.1 1240.9,977.2 1243.8,983.8 1244.7,995.0 1244.7,1006.2 1247.5,1017.5 1246.6,1026.9 1250.3,1036.2 1254.1,1043.8 1257.8,1051.2 1262.5,1056.9 1268.1,1062.5 1273.8,1068.1 1277.5,1075.6 1279.4,1085.0 1277.5,1094.4 1280.3,1103.8 1283.1,1113.1 1282.2,1120.6 1275.6,1119.7 1268.1,1116.9 1260.6,1119.7 1261.6,1126.2 1263.4,1130.0 1265.0,1142.5 1260.0,1150.0 1255.0,1152.5 1237.5,1155.0 1232.5,1162.5 1233.8,1175.0 1240.0,1185.0 1242.5,1197.5 1245.0,1210.0 1246.2,1222.5 1241.2,1230.0 1242.0,1237.3 1242.7,1244.6 1244.2,1251.9 1245.6,1257.7 1242.7,1262.1 1241.2,1266.5 1243.4,1270.8 1245.6,1275.2 1244.9,1281.0 1241.2,1282.5 1235.4,1281.0 1229.6,1282.5 1223.8,1284.0 1217.9,1285.4 1212.1,1288.3 1207.7,1292.7 1201.9,1295.6 1196.0,1297.8 1190.2,1299.7" stroke="#ededed" stroke-width="2.15"/>
<polyline points="835.5,975.6 842.1,976.4 847.9,975.6 853.8,977.1 859.6,977.8 865.4,974.9 871.2,972.7 877.1,969.8 882.9,966.9 888.8,964.0 894.6,961.8 900.4,961.0 906.2,959.6 910.6,962.5 915.0,966.9 920.8,969.8 926.7,971.2 932.5,972.0 935.4,975.6 934.0,981.5 932.5,987.3 934.0,993.1 936.9,997.5 941.2,1000.4 945.6,1004.8 947.8,1009.2 945.6,1015.0 942.7,1020.8 939.8,1026.7 938.3,1032.5 939.8,1036.1" stroke="#ededed" stroke-width="2.15"/>
<polyline points="1153.1,213.4 1157.5,217.1 1161.9,222.9 1166.2,229.5 1170.6,236.0 1175.0,243.3 1179.4,250.6 1183.0,257.2 1173.8,240.9 1177.5,244.7 1179.8,249.4 1181.2,254.1 1183.1,258.8 1186.9,262.5 1191.6,266.2 1196.2,269.1 1201.9,270.9" stroke="#ededed" stroke-width="2.15"/>
<polyline points="1201.9,270.9 1202.8,266.2 1204.7,261.6 1206.1,256.9 1207.5,260.6 1210.3,264.4 1213.1,263.4 1216.9,260.6 1220.6,256.9 1223.4,254.1 1227.2,253.1 1230.0,252.2 1230.9,249.4 1234.7,247.5 1238.4,246.6 1239.4,242.8 1243.1,240.9 1246.9,240.0 1250.6,237.2 1253.0,238.1 1252.5,241.9 1250.6,244.7 1249.7,248.4 1251.6,251.2 1253.9,254.1 1256.2,256.9 1254.4,258.8 1252.5,260.6 1249.7,262.5 1250.6,269.1 1254.4,277.5 1260.0,285.0 1267.5,290.6 1263.8,294.4 1260.0,298.1 1257.2,300.9 1253.4,301.4 1250.6,300.9 1247.8,298.1 1245.0,294.4 1242.2,290.6 1239.4,288.8 1236.6,290.6 1234.7,294.4 1230.9,296.2 1228.1,295.3 1225.3,297.2 1222.5,298.1 1221.1,295.3 1219.7,290.6 1216.9,294.4 1215.0,293.4 1213.1,290.6 1210.3,287.8 1207.5,285.0 1206.6,281.2 1206.1,277.5 1207.0,273.8 1205.6,271.9 1201.9,270.9" stroke="#ededed" stroke-width="2.15"/>
<polyline points="1267.5,291.1 1271.2,293.4 1275.0,296.2 1278.8,299.1 1282.5,301.9 1287.2,303.8 1291.9,305.6 1295.6,306.6 1298.9,305.2" stroke="#ededed" stroke-width="2.15"/>
<polyline points="1371.2,353.1 1377.5,352.5 1382.5,351.2 1383.8,347.5 1390.0,348.1 1396.2,347.5 1400.0,345.0 1401.2,338.8 1401.2,333.8 1405.0,331.2 1410.0,328.8 1415.0,328.8 1420.0,332.5 1425.0,331.2 1430.0,328.8 1435.0,325.0 1440.0,322.5 1445.0,318.8 1450.0,316.2 1452.5,311.2 1455.0,306.2 1460.0,307.5 1465.0,308.8 1470.0,306.2 1475.0,307.5 1480.0,312.5" stroke="#e2f3fc" stroke-width="2.0"/>
<polyline points="1480.0,312.5 1490.0,320.0 1500.0,325.0 1510.0,323.8 1520.0,327.5 1530.0,330.0 1540.0,335.0 1550.0,338.8 1558.8,342.5 1567.5,335.0 1577.5,327.5 1587.5,323.8 1597.5,322.5 1605.0,317.5 1612.5,307.5 1617.5,300.0 1625.0,295.0 1632.5,287.5 1640.0,282.5 1645.0,272.5 1648.8,277.5 1652.5,285.0 1657.5,292.5 1665.0,295.0 1675.0,293.8 1685.0,292.5 1691.2,296.2 1693.8,303.8 1690.0,312.5 1685.0,320.0 1680.0,325.0 1685.0,323.8 1695.0,320.0 1705.0,317.5 1713.8,315.0" stroke="#e2f3fc" stroke-width="2.0"/>
<polyline points="1405.0,366.9 1408.8,366.2 1411.2,370.0 1415.0,373.8 1420.0,377.5 1425.0,381.2 1428.8,383.8 1431.2,387.5 1436.2,390.0 1441.2,392.5 1447.5,393.8 1452.5,395.0 1457.5,396.2 1462.5,398.8 1468.8,396.2 1472.5,395.0 1475.0,400.0 1476.2,407.5 1475.0,415.0 1472.5,422.5 1471.2,430.0 1470.0,437.5 1468.8,445.0 1469.4,450.0" stroke="#e2f3fc" stroke-width="2.0"/>
<polyline points="1468.1,448.8 1472.8,454.4 1479.4,460.0 1483.1,469.4 1481.2,478.8 1480.3,490.0 1479.4,501.2 1476.6,510.6 1473.8,520.0 1477.5,527.5 1483.1,535.0 1490.6,542.5 1498.1,546.2 1505.6,550.0 1515.0,551.9 1522.5,555.6 1530.0,559.4 1537.5,557.5 1543.1,563.1 1550.6,566.9 1558.1,570.6 1565.6,574.4 1571.2,576.2 1574.1,583.8 1575.0,593.1 1575.9,602.5 1577.8,610.0" stroke="#e2f3fc" stroke-width="2.0"/>
<polyline points="1468.8,447.5 1470.0,457.5 1477.5,462.5 1482.5,470.0 1482.5,482.5 1477.5,495.0 1475.0,510.0" stroke="#e2f3fc" stroke-width="2.0"/>
<polyline points="1575.6,600.0 1570.0,605.6 1566.2,610.3 1564.4,614.1 1566.2,618.8 1571.9,624.4 1575.6,631.9 1577.5,641.2 1579.4,650.6 1585.0,654.4 1592.5,652.5 1600.0,649.7 1607.5,652.5 1615.0,656.2 1622.5,660.0 1630.0,661.9" stroke="#e2f3fc" stroke-width="2.0"/>
<polyline points="1610.0,655.0 1620.0,660.0 1630.0,663.8 1642.5,662.5 1655.0,660.0 1665.0,655.0 1672.5,647.5" stroke="#e2f3fc" stroke-width="2.0"/>
<polyline points="1670.0,647.5 1672.5,641.2 1677.5,636.2 1682.5,632.5 1690.0,633.1 1697.5,636.2 1703.8,639.4 1710.0,635.0 1716.2,632.5 1722.5,630.0 1728.8,626.2 1733.8,628.8 1738.8,628.1 1743.8,623.8 1746.9,628.8" stroke="#e2f3fc" stroke-width="2.0"/>
<polyline points="1564.4,614.1 1562.5,614.1 1555.0,612.2 1547.5,610.3 1540.0,608.4 1532.5,613.1 1525.0,612.2 1519.4,615.0 1511.9,616.9 1504.4,618.8 1496.9,622.5 1489.4,624.4 1481.9,626.2 1474.4,630.0 1469.7,637.5 1468.8,646.9 1467.8,656.2 1466.9,665.6 1467.8,675.0 1468.8,684.4 1471.6,693.8 1472.5,701.2 1476.2,708.8 1481.9,711.9" stroke="#e2f3fc" stroke-width="2.0"/>
<polyline points="1305.6,616.9 1316.9,615.9 1326.2,618.8 1331.9,624.4 1333.8,633.8 1335.6,643.1 1339.4,649.7 1348.8,652.5 1358.1,655.3 1367.5,656.2 1375.0,658.1 1380.6,663.8 1384.4,671.2 1388.1,676.9 1386.2,682.5 1382.5,686.2 1386.2,691.9 1390.9,697.5 1393.8,705.0 1401.2,707.8 1408.8,708.8 1416.2,712.5 1421.9,717.2 1429.4,718.1 1436.9,720.0 1442.5,723.8 1448.1,729.4 1455.6,731.2 1465.0,730.3 1471.6,733.1 1475.3,731.2 1479.1,723.8 1481.5,716.2 1481.9,711.9" stroke="#e2f3fc" stroke-width="2.0"/>
<polyline points="1481.9,711.9 1489.4,710.6 1496.9,712.5 1502.5,718.1 1508.1,723.8 1515.6,729.4 1519.4,735.0 1517.5,742.5 1510.0,744.4 1502.5,747.2 1495.0,751.9 1487.5,755.6 1480.0,759.4 1476.2,765.0 1475.3,772.5 1480.0,778.1 1483.8,782.8 1478.1,787.5 1470.6,791.2 1463.1,795.0 1459.4,800.6 1453.8,802.5 1450.0,796.9 1450.0,791.2 1444.4,795.0 1438.8,800.6 1435.9,806.2 1438.8,811.9 1442.5,817.5 1440.6,823.1 1442.5,830.6 1448.1,836.2 1455.6,841.9 1463.1,845.6 1468.8,851.2" stroke="#e2f3fc" stroke-width="2.0"/>
<polyline points="1571.2,478.8 1569.4,471.2 1573.1,463.8 1575.0,456.2 1576.9,448.8 1582.5,441.2 1590.0,435.6 1590.0,431.9 1595.6,437.5 1599.4,443.1 1605.0,437.5 1608.8,432.8 1612.5,431.9 1615.3,437.5 1616.2,445.0 1614.4,452.5 1608.8,454.4 1606.9,461.9 1608.8,469.4 1618.1,469.4 1627.5,467.5 1635.0,469.4 1638.8,475.0 1636.9,482.5 1631.2,488.1 1629.4,491.9 1623.8,486.2 1616.2,480.6 1610.6,476.9 1605.0,475.0 1603.1,476.9 1599.4,482.5 1593.8,478.8 1586.2,476.9 1578.8,480.6 1573.1,480.6 1571.2,478.8" stroke="#e2f3fc" stroke-width="1.8"/>
<polyline points="1210.0,888.1 1217.5,891.9 1225.0,888.1 1228.8,882.5 1236.2,876.9 1245.6,875.0 1255.0,871.2 1262.5,869.4 1268.1,863.8 1273.8,860.0 1279.4,863.8 1277.5,871.2 1273.8,878.8 1277.5,886.2 1271.9,893.8 1275.6,901.2 1281.2,906.9 1286.9,912.5 1288.8,918.1 1283.1,918.1 1281.2,925.6 1283.1,933.1 1290.6,935.0 1292.5,939.7" stroke="#8a8a8a" stroke-width="1.3"/>
<polyline points="1292.5,939.7 1285.0,942.5 1277.5,944.4 1271.9,948.1 1270.0,955.6 1262.5,959.4 1255.0,961.2 1249.4,965.0 1243.8,963.1 1241.9,968.8 1243.8,976.2" stroke="#8a8a8a" stroke-width="1.3"/>
<polyline points="1226.9,888.1 1234.4,897.5 1232.5,905.0 1225.0,908.8 1223.1,916.2 1217.5,920.0 1211.9,923.8 1204.4,925.6 1196.9,929.4 1195.0,935.0" stroke="#8a8a8a" stroke-width="1.3"/>
<polyline points="1234.4,897.5 1241.9,908.8 1249.4,916.2 1245.6,923.8 1240.0,927.5 1238.1,936.9 1240.0,946.2 1245.6,951.9 1241.9,959.4 1243.8,963.1" stroke="#8a8a8a" stroke-width="1.3"/>
<polyline points="1288.8,918.1 1296.2,920.0 1303.8,916.2 1309.4,912.5 1313.1,905.0 1315.0,895.6 1318.8,888.1 1324.4,880.6 1330.0,875.0 1335.6,869.4 1341.2,863.8 1348.8,863.8 1358.1,865.6 1367.5,869.4 1376.9,871.2 1384.4,867.5 1391.9,860.0 1399.4,854.4 1405.0,852.5" stroke="#8a8a8a" stroke-width="1.3"/>
<polyline points="1315.0,860.0 1320.6,871.2 1326.2,875.0" stroke="#8a8a8a" stroke-width="1.3"/>
<polyline points="1292.5,939.7 1300.0,946.2 1303.8,955.6 1307.5,963.1 1315.0,968.8 1320.6,976.2 1330.0,978.1 1339.4,977.2 1343.1,983.8 1345.0,991.2 1341.2,998.8 1339.4,1006.2 1343.1,1015.6 1348.8,1011.9 1352.5,1006.2 1358.1,1002.5 1361.9,998.8 1360.0,995.0 1356.2,995.0 1354.4,987.5 1352.5,980.0 1360.0,972.5 1367.5,968.8 1371.2,963.1 1378.8,957.5 1382.5,963.1 1386.2,961.2 1393.8,959.4 1401.2,961.2 1405.0,950.0 1403.1,942.5 1408.8,938.8" stroke="#8a8a8a" stroke-width="1.3"/>
<polyline points="1300.0,946.2 1307.5,938.8 1311.2,935.0 1318.8,940.6 1326.2,938.8 1330.0,936.9 1333.8,946.2 1341.2,951.9 1346.9,957.5 1345.0,963.1 1350.6,966.9 1358.1,966.9 1365.6,965.0 1367.5,968.8" stroke="#8a8a8a" stroke-width="1.3"/>
<polyline points="1311.2,912.5 1322.5,905.0 1328.1,910.6 1335.6,912.5 1343.1,916.2 1348.8,921.9 1356.2,925.6 1354.4,935.0 1358.1,944.4 1361.9,953.8 1367.5,959.4 1371.2,963.1" stroke="#8a8a8a" stroke-width="1.3"/>
<polyline points="1356.2,925.6 1365.6,921.9 1363.8,912.5 1365.6,903.1 1371.2,899.4 1378.8,903.1 1384.4,908.8 1390.0,903.1 1397.5,899.4 1405.0,895.6 1412.5,890.0 1416.2,882.5 1412.5,875.0 1410.6,863.8 1406.9,854.4 1405.0,852.5" stroke="#8a8a8a" stroke-width="1.3"/>
<polyline points="1416.2,878.8 1423.8,878.8 1429.4,888.1 1435.0,897.5 1438.8,903.1 1446.2,902.2 1455.6,901.2 1465.0,899.4 1472.5,895.6 1478.1,890.0" stroke="#8a8a8a" stroke-width="1.3"/>
<polyline points="1438.8,903.1 1431.2,906.9 1429.4,916.2 1433.1,923.8 1423.8,927.5 1414.4,931.2 1410.6,938.8 1410.6,950.0 1412.5,959.4 1420.0,961.2 1427.5,957.5 1436.9,959.4 1446.2,961.2 1450.0,968.8 1457.5,972.5 1466.9,972.5 1472.5,968.8 1480.0,972.5 1487.5,978.1 1498.8,976.2 1508.1,974.4" stroke="#8a8a8a" stroke-width="1.3"/>
<polyline points="1466.9,972.5 1459.4,980.0 1455.6,987.5 1457.5,995.0 1450.0,998.8 1448.1,1006.2 1451.9,1015.6 1450.0,1025.0 1444.4,1032.5 1442.5,1036.2 1433.1,1038.1 1423.8,1043.8 1418.1,1051.2 1414.4,1058.8 1412.5,1070.0" stroke="#8a8a8a" stroke-width="1.3"/>
<polyline points="1408.8,938.8 1405.0,950.0 1401.2,961.2 1403.1,968.8 1397.5,976.2 1401.2,983.8 1405.0,989.4 1399.4,995.0 1391.9,996.9 1386.2,1004.4 1380.6,1010.0 1373.1,1013.8 1363.8,1015.6 1365.6,1021.2 1373.1,1025.0 1369.4,1032.5 1375.0,1038.1 1376.9,1047.5 1382.5,1053.1 1386.2,1056.9" stroke="#8a8a8a" stroke-width="1.3"/>
<polyline points="1243.8,985.6 1255.0,985.6 1260.6,991.2 1268.1,996.9 1277.5,995.0 1285.0,991.2 1294.4,993.1 1303.8,995.0 1311.2,996.9 1318.8,1004.4 1326.2,1008.1 1337.5,1006.2" stroke="#8a8a8a" stroke-width="1.3"/>
<polyline points="1326.2,1008.1 1330.0,1015.6 1328.1,1025.0 1324.4,1034.4 1330.0,1040.0 1339.4,1041.9 1345.0,1045.6 1352.5,1051.2 1358.1,1056.9 1361.9,1062.5 1360.0,1070.0" stroke="#8a8a8a" stroke-width="1.3"/>
<polyline points="1442.5,1036.2 1450.0,1040.0 1457.5,1036.2 1465.0,1030.6 1472.5,1036.2 1478.1,1041.9 1483.8,1047.5 1487.5,1056.9 1493.1,1062.5 1491.2,1070.0" stroke="#8a8a8a" stroke-width="1.3"/>
<polyline points="1386.2,1056.9 1393.8,1058.8 1399.4,1055.0 1406.9,1058.8 1412.5,1056.9" stroke="#8a8a8a" stroke-width="1.3"/>
<polyline points="1386.2,1056.9 1382.5,1062.5 1373.1,1060.6 1365.6,1058.8 1361.9,1062.5" stroke="#8a8a8a" stroke-width="1.3"/>
<polyline points="1540.0,1043.8 1532.5,1045.6 1523.1,1049.4 1513.8,1051.2 1506.2,1056.9 1502.5,1064.4 1500.6,1070.0" stroke="#8a8a8a" stroke-width="1.3"/>
<polyline points="1290.3,1060.0 1299.1,1068.8 1305.6,1079.7 1316.6,1081.9 1323.1,1088.4 1336.2,1088.4 1338.4,1099.4 1340.6,1110.3 1342.8,1121.2 1345.0,1130.0 1355.9,1134.4 1362.5,1145.3 1369.1,1154.1 1362.5,1160.6 1358.1,1173.8 1353.8,1184.7 1347.2,1191.2 1342.8,1202.2 1349.4,1210.9 1358.1,1213.1 1369.1,1210.9 1380.0,1206.6" stroke="#8a8a8a" stroke-width="1.3"/>
<polyline points="1336.2,1088.4 1345.0,1081.9 1349.4,1070.9 1358.1,1064.4 1362.5,1060.0" stroke="#8a8a8a" stroke-width="1.3"/>
<polyline points="1355.9,1134.4 1364.7,1125.6 1375.6,1123.4 1384.4,1119.1 1390.9,1112.5 1399.7,1105.9 1408.4,1099.4 1415.0,1103.8 1412.8,1114.7 1417.2,1125.6 1425.9,1132.2 1436.9,1136.6 1445.6,1145.3 1450.0,1156.2 1443.4,1158.4 1434.7,1162.8 1425.9,1169.4 1422.7,1178.1 1421.6,1186.9 1410.6,1186.9 1401.9,1184.7 1397.5,1175.9 1395.3,1165.0 1388.8,1160.6 1380.0,1158.4 1369.1,1154.1" stroke="#8a8a8a" stroke-width="1.3"/>
<polyline points="1397.5,1060.0 1404.1,1068.8 1412.8,1077.5 1419.4,1084.1 1421.6,1092.8 1417.2,1099.4 1415.0,1103.8" stroke="#8a8a8a" stroke-width="1.3"/>
<polyline points="1408.4,1064.4 1415.0,1068.8 1425.9,1066.6 1434.7,1064.4 1443.4,1073.1 1450.0,1075.3 1458.8,1070.9 1469.7,1073.1 1480.6,1075.3 1491.6,1070.9 1500.3,1068.8 1500.3,1060.0" stroke="#8a8a8a" stroke-width="1.3"/>
<polyline points="1463.1,1103.8 1471.9,1097.2 1480.6,1092.8 1491.6,1086.2 1498.1,1077.5 1500.3,1068.8" stroke="#8a8a8a" stroke-width="1.3"/>
<polyline points="1463.1,1103.8 1469.7,1108.1 1480.6,1112.5 1489.4,1110.3 1498.1,1105.9 1509.1,1112.5 1520.0,1110.3 1533.1,1101.6 1535.3,1092.8 1541.9,1081.9 1550.6,1077.5 1561.6,1075.3 1568.1,1084.1 1579.1,1086.2 1590.0,1081.9 1594.4,1073.1 1600.9,1068.8" stroke="#8a8a8a" stroke-width="1.3"/>
<polyline points="1450.0,1156.2 1458.8,1160.6 1467.5,1165.0 1474.1,1173.8 1476.2,1182.5 1475.2,1195.6 1476.2,1208.8 1482.8,1213.1 1487.2,1221.9 1486.1,1230.6 1493.8,1237.2 1497.0,1248.1 1491.6,1256.9 1493.8,1265.6 1489.4,1274.4 1487.2,1280.9" stroke="#8a8a8a" stroke-width="1.3"/>
<polyline points="1480.6,1112.5 1482.8,1123.4 1487.2,1134.4 1485.0,1145.3 1491.6,1154.1 1500.3,1162.8 1493.8,1171.6 1485.0,1178.1 1476.2,1182.5" stroke="#8a8a8a" stroke-width="1.3"/>
<polyline points="1500.3,1162.8 1511.2,1169.4 1522.2,1175.9 1533.1,1182.5 1541.9,1186.9 1548.4,1193.4 1550.6,1197.8" stroke="#8a8a8a" stroke-width="1.3"/>
<polyline points="1533.1,1101.6 1537.5,1112.5 1544.1,1121.2 1552.8,1127.8 1559.4,1134.4 1563.8,1147.5 1568.1,1156.2 1572.5,1167.2 1576.9,1175.9 1579.1,1182.5" stroke="#8a8a8a" stroke-width="1.3"/>
<polyline points="1559.4,1134.4 1568.1,1130.0 1576.9,1125.6 1585.6,1121.2 1594.4,1114.7 1603.1,1112.5 1611.9,1116.9 1620.6,1114.7 1633.8,1116.9 1646.9,1114.7" stroke="#8a8a8a" stroke-width="1.3"/>
<polyline points="1422.7,1178.1 1432.5,1167.2 1443.4,1160.6" stroke="#8a8a8a" stroke-width="1.3"/>
<polyline points="1423.8,1182.5 1425.9,1193.4 1423.8,1204.4 1425.9,1217.5 1423.8,1226.2 1430.3,1232.8 1439.1,1237.2 1447.8,1235.0 1456.6,1232.8 1458.8,1221.9 1467.5,1217.5 1475.2,1213.1" stroke="#8a8a8a" stroke-width="1.3"/>
<polyline points="1380.0,1206.6 1386.6,1213.1 1386.6,1224.1 1388.8,1235.0 1397.5,1237.2 1406.2,1241.6 1415.0,1243.8 1425.9,1241.6 1430.3,1232.8" stroke="#8a8a8a" stroke-width="1.3"/>
<polyline points="1388.8,1235.0 1380.0,1239.4 1377.8,1250.3 1380.0,1261.2 1382.2,1270.0 1377.8,1278.8 1380.0,1287.5 1373.4,1291.9 1371.2,1300.6 1375.6,1309.4 1384.4,1313.8" stroke="#8a8a8a" stroke-width="1.3"/>
<polyline points="1425.9,1241.6 1432.5,1250.3 1441.2,1256.9 1445.6,1267.8 1450.0,1276.6 1454.4,1285.3 1456.6,1294.1" stroke="#8a8a8a" stroke-width="1.3"/>
<polyline points="1290.3,1154.1 1288.1,1165.0 1290.3,1175.9 1296.9,1182.5 1303.4,1189.1 1305.6,1195.6 1314.4,1200.0 1327.5,1195.6 1334.1,1193.4 1342.8,1202.2" stroke="#8a8a8a" stroke-width="1.3"/>
<polyline points="1305.6,1195.6 1305.6,1206.6 1301.2,1217.5 1296.9,1228.4 1288.1,1237.2 1279.4,1243.8 1270.6,1250.3 1268.4,1256.9 1275.0,1265.6 1281.6,1274.4 1283.8,1287.5 1285.9,1298.4" stroke="#8a8a8a" stroke-width="1.3"/>
<polyline points="1268.4,1256.9 1259.7,1254.7 1250.9,1259.1 1244.4,1263.4 1240.0,1265.6" stroke="#8a8a8a" stroke-width="1.3"/>
<polyline points="1327.5,1195.6 1323.1,1208.8 1316.6,1217.5 1318.8,1230.6 1316.6,1243.8 1314.4,1256.9 1312.2,1270.0 1314.4,1280.9 1320.9,1287.5 1327.5,1291.9 1331.9,1300.6 1329.7,1311.6" stroke="#8a8a8a" stroke-width="1.3"/>
<polyline points="1314.4,1256.9 1325.3,1252.5 1336.2,1250.3 1347.2,1245.9 1358.1,1239.4 1366.9,1245.9 1373.4,1250.3 1377.8,1250.3" stroke="#8a8a8a" stroke-width="1.3"/>
<polyline points="1240.0,1156.2 1250.9,1151.9 1261.9,1149.7 1275.0,1147.5 1290.3,1154.1 1301.2,1151.9 1314.4,1147.5 1316.6,1134.4 1325.3,1127.8 1331.9,1134.4 1336.2,1143.1 1327.5,1147.5 1329.7,1156.2 1342.8,1149.7 1351.6,1147.5 1360.3,1151.9 1362.5,1160.6" stroke="#8a8a8a" stroke-width="1.3"/>
<polyline points="1261.9,1149.7 1264.1,1136.6 1266.2,1125.6" stroke="#8a8a8a" stroke-width="1.3"/>
<polyline points="1240.0,1182.5 1248.8,1195.6 1261.9,1197.8 1272.8,1202.2 1283.8,1200.0 1296.9,1195.6 1305.6,1195.6" stroke="#8a8a8a" stroke-width="1.3"/>
<polyline points="1340.0,195.0 1342.5,207.5 1350.0,215.0 1357.5,225.0 1370.0,227.5 1382.5,230.0 1392.5,235.0 1393.8,247.5 1392.5,260.0 1393.8,272.5 1392.5,285.0 1402.5,287.5 1410.0,295.0 1412.5,305.0 1417.5,315.0 1425.0,322.5 1430.0,327.5" stroke="#9dd6f4" stroke-width="1.2"/>
<polyline points="1425.0,230.0 1427.5,217.5 1426.2,205.0 1432.5,197.5 1440.0,192.5 1450.0,192.5" stroke="#9dd6f4" stroke-width="1.2"/>
<polyline points="1425.0,230.0 1435.0,235.0 1445.0,240.0 1455.0,247.5 1465.0,255.0 1472.5,265.0 1480.0,272.5 1487.5,282.5 1486.2,295.0 1482.5,305.0 1480.0,312.5" stroke="#9dd6f4" stroke-width="1.2"/>
<polyline points="1450.0,192.5 1448.8,180.0 1450.0,167.5 1460.0,157.5 1470.0,150.0 1480.0,142.5 1487.5,152.5 1490.0,162.5 1497.5,167.5 1507.5,172.5 1517.5,177.5 1520.0,182.5 1510.0,187.5 1502.5,195.0 1492.5,192.5 1485.0,195.0 1480.0,202.5 1470.0,205.0 1462.5,212.5 1455.0,210.0 1452.5,200.0 1450.0,192.5" stroke="#9dd6f4" stroke-width="1.2"/>
<polyline points="1520.0,182.5 1530.0,187.5 1540.0,192.5 1550.0,190.0 1560.0,187.5 1570.0,185.0 1580.0,182.5 1590.0,180.0 1600.0,182.5 1610.0,187.5 1615.0,185.0" stroke="#9dd6f4" stroke-width="1.2"/>
<polyline points="1560.0,187.5 1570.0,195.0 1577.5,202.5 1580.0,212.5 1587.5,220.0 1597.5,220.0 1600.0,230.0 1602.5,240.0 1597.5,250.0 1585.0,257.5 1575.0,265.0 1570.0,270.0 1575.0,277.5 1577.5,287.5 1587.5,292.5 1597.5,295.0 1602.5,302.5 1597.5,310.0 1590.0,320.0 1585.0,325.0" stroke="#9dd6f4" stroke-width="1.2"/>
<polyline points="1585.0,325.0 1572.5,335.0 1562.5,342.5 1555.0,350.0 1555.0,360.0 1560.0,370.0 1562.5,382.5 1560.0,395.0 1555.0,405.0 1550.0,415.0 1545.0,425.0 1547.5,435.0 1545.0,445.0 1537.5,452.5 1532.5,460.0 1535.0,467.5" stroke="#9dd6f4" stroke-width="1.2"/>
<polyline points="1590.0,332.5 1592.5,345.0 1600.0,355.0 1602.5,367.5 1610.0,375.0 1607.5,387.5 1605.0,400.0 1610.0,410.0 1612.5,420.0 1610.0,430.0 1607.5,437.5" stroke="#9dd6f4" stroke-width="1.2"/>
<polyline points="1612.5,420.0 1622.5,417.5 1632.5,422.5 1642.5,417.5 1652.5,410.0 1662.5,402.5 1672.5,395.0 1682.5,390.0" stroke="#9dd6f4" stroke-width="1.2"/>
<polyline points="1492.5,435.0 1497.5,450.0 1507.5,452.5 1520.0,450.0 1530.0,455.0 1535.0,465.0" stroke="#9dd6f4" stroke-width="1.2"/>
<polyline points="1640.0,477.5 1652.5,472.5 1665.0,467.5 1680.0,465.0 1690.0,465.0 1700.0,475.0 1710.0,480.0 1720.0,490.0" stroke="#9dd6f4" stroke-width="1.2"/>
<polyline points="1335.0,465.0 1347.5,467.5 1362.5,465.0 1377.5,467.5 1395.0,465.0 1410.0,462.5 1425.0,465.0 1440.0,462.5 1452.5,457.5 1465.0,455.0" stroke="#9dd6f4" stroke-width="1.2"/>
<polyline points="1347.5,490.0 1352.5,505.0 1355.0,520.0 1352.5,535.0 1357.5,550.0 1365.0,562.5 1375.0,570.0 1387.5,575.0 1395.0,585.0 1400.0,597.5 1407.5,607.5 1415.0,612.5 1425.0,615.0 1432.5,610.0 1435.0,597.5 1437.5,585.0 1440.0,575.0 1452.5,575.0 1462.5,577.5 1465.0,590.0 1470.0,600.0 1475.0,607.5" stroke="#9dd6f4" stroke-width="1.2"/>
<polyline points="1440.0,575.0 1430.0,570.0 1420.0,565.0 1415.0,555.0 1410.0,545.0 1402.5,540.0 1400.0,530.0 1407.5,520.0 1412.5,512.5 1417.5,525.0 1425.0,537.5 1435.0,547.5 1442.5,557.5 1450.0,567.5 1452.5,575.0" stroke="#9dd6f4" stroke-width="1.2"/>
<polyline points="1417.5,525.0 1420.0,510.0 1425.0,497.5 1430.0,490.0" stroke="#9dd6f4" stroke-width="1.2"/>
<polyline points="1435.0,547.5 1445.0,545.0 1457.5,540.0 1467.5,535.0 1475.0,532.5" stroke="#9dd6f4" stroke-width="1.2"/>
<polyline points="1332.5,617.5 1342.5,622.5 1355.0,625.0 1365.0,615.0 1375.0,610.0 1385.0,602.5 1395.0,600.0 1400.0,597.5" stroke="#9dd6f4" stroke-width="1.2"/>
<polyline points="1437.5,650.0 1436.2,637.5 1440.0,625.0 1445.0,615.0 1455.0,610.0 1465.0,607.5 1472.5,602.5 1475.0,610.0 1480.0,617.5 1482.5,625.0 1477.5,632.5 1470.0,637.5 1467.5,645.0 1468.8,655.0 1460.0,656.2 1450.0,655.0 1442.5,656.2 1437.5,650.0" stroke="#9dd6f4" stroke-width="1.2"/>
<polyline points="1442.5,656.2 1440.0,667.5 1435.0,675.0 1430.0,682.5 1435.0,687.5" stroke="#9dd6f4" stroke-width="1.2"/>
<polyline points="1400.0,675.0 1410.0,672.5 1420.0,677.5 1430.0,682.5" stroke="#9dd6f4" stroke-width="1.2"/>
<polyline points="1507.5,660.0 1515.0,652.5 1525.0,647.5 1535.0,646.2 1545.0,650.0 1550.0,660.0 1547.5,670.0 1545.0,680.0 1550.0,690.0 1547.5,700.0 1545.0,707.5 1552.5,710.0 1555.0,720.0 1550.0,725.0" stroke="#9dd6f4" stroke-width="1.2"/>
<polyline points="1550.0,690.0 1560.0,690.0 1570.0,687.5 1580.0,687.5" stroke="#9dd6f4" stroke-width="1.2"/>
<polyline points="1580.0,660.0 1581.2,672.5 1580.0,687.5 1582.5,700.0 1585.0,712.5 1587.5,722.5 1597.5,720.0 1607.5,717.5 1617.5,715.0 1625.0,712.5" stroke="#9dd6f4" stroke-width="1.2"/>
<polyline points="1650.0,667.5 1645.0,680.0 1647.5,692.5 1642.5,702.5 1635.0,710.0 1625.0,712.5 1622.5,717.5 1632.5,720.0 1640.0,727.5 1647.5,730.0 1655.0,722.5 1665.0,715.0 1675.0,707.5 1678.8,700.0 1672.5,697.5 1665.0,700.0 1660.0,692.5 1650.0,692.5 1642.5,702.5" stroke="#9dd6f4" stroke-width="1.2"/>
<polyline points="1607.5,717.5 1610.0,730.0 1612.5,742.5 1617.5,755.0 1622.5,765.0 1627.5,772.5" stroke="#9dd6f4" stroke-width="1.2"/>
<polyline points="1587.5,722.5 1585.0,735.0 1575.0,742.5 1565.0,750.0 1560.0,760.0 1570.0,765.0 1580.0,767.5 1590.0,770.0 1600.0,777.5 1607.5,787.5 1612.5,790.0" stroke="#9dd6f4" stroke-width="1.2"/>
<polyline points="1535.0,755.0 1540.0,747.5 1550.0,745.0 1557.5,750.0 1561.2,757.5 1560.0,765.0 1552.5,770.0 1555.0,777.5 1547.5,775.0 1540.0,767.5 1535.0,762.5 1535.0,755.0" stroke="#9dd6f4" stroke-width="1.2"/>
<polyline points="1527.5,710.0 1530.0,720.0 1525.0,730.0 1520.0,740.0 1515.0,752.5 1513.8,765.0 1520.0,772.5 1525.0,782.5 1530.0,787.5 1537.5,785.0 1545.0,777.5 1552.5,770.0" stroke="#9dd6f4" stroke-width="1.2"/>
<polyline points="1530.0,710.0 1540.0,707.5 1550.0,710.0" stroke="#9dd6f4" stroke-width="1.2"/>
<polyline points="1477.5,767.5 1487.5,777.5 1495.0,787.5 1502.5,797.5 1500.0,807.5 1505.0,817.5 1512.5,825.0 1522.5,827.5" stroke="#9dd6f4" stroke-width="1.2"/>
<polyline points="1525.0,782.5 1515.0,792.5 1510.0,802.5 1502.5,797.5" stroke="#9dd6f4" stroke-width="1.2"/>
<polyline points="1325.0,725.0 1330.0,717.5 1340.0,715.0 1347.5,712.5 1352.5,717.5 1362.5,720.0 1372.5,718.8 1382.5,722.5 1385.0,730.0 1377.5,736.2 1367.5,737.5 1357.5,740.0 1350.0,745.0 1340.0,745.0 1332.5,742.5 1327.5,735.0 1325.0,725.0" stroke="#9dd6f4" stroke-width="1.2"/>
<polyline points="1330.0,702.5 1335.0,690.0 1342.5,680.0 1350.0,672.5 1355.0,680.0 1362.5,685.0 1372.5,682.5 1380.0,687.5 1385.0,697.5 1395.0,705.0 1407.5,710.0 1415.0,715.0 1410.0,722.5 1402.5,727.5 1400.0,737.5 1407.5,742.5 1412.5,750.0 1402.5,755.0 1392.5,752.5 1385.0,755.0 1377.5,762.5 1367.5,760.0 1360.0,752.5 1357.5,745.0" stroke="#9dd6f4" stroke-width="1.2"/>
<polyline points="1290.0,670.0 1300.0,675.0 1307.5,685.0 1315.0,690.0 1325.0,687.5 1330.0,702.5" stroke="#9dd6f4" stroke-width="1.2"/>
<polyline points="1307.5,685.0 1305.0,700.0 1300.0,710.0 1290.0,717.5" stroke="#9dd6f4" stroke-width="1.2"/>
<polyline points="1357.5,745.0 1352.5,755.0 1345.0,765.0 1340.0,777.5 1347.5,787.5 1350.0,800.0 1360.0,805.0 1367.5,812.5" stroke="#9dd6f4" stroke-width="1.2"/>
<polyline points="1412.5,750.0 1425.0,742.5 1437.5,737.5 1447.5,732.5 1455.0,730.0" stroke="#9dd6f4" stroke-width="1.2"/>
<polyline points="1437.5,737.5 1435.0,750.0 1437.5,762.5 1440.0,775.0 1437.5,787.5 1445.0,792.5 1452.5,790.0" stroke="#9dd6f4" stroke-width="1.2"/>
<polyline points="1290.0,742.5 1300.0,755.0 1310.0,765.0 1315.0,777.5 1325.0,785.0 1322.5,797.5 1330.0,805.0 1340.0,802.5 1350.0,800.0" stroke="#9dd6f4" stroke-width="1.2"/>
<polyline points="1580.0,572.5 1590.0,582.5 1605.0,585.0 1620.0,592.5 1635.0,597.5 1645.0,590.0 1650.0,577.5 1660.0,572.5 1675.0,575.0 1680.0,587.5 1685.0,600.0 1687.5,615.0 1690.0,625.0" stroke="#9dd6f4" stroke-width="1.2"/>
<polyline points="1555.0,527.5 1560.0,537.5 1572.5,545.0 1582.5,552.5 1580.0,562.5 1580.0,572.5" stroke="#9dd6f4" stroke-width="1.2"/>
<polyline points="1650.0,490.0 1652.5,505.0 1650.0,517.5 1657.5,527.5 1670.0,532.5 1682.5,540.0 1695.0,542.5 1705.0,540.0 1712.5,550.0 1710.0,562.5 1700.0,567.5 1690.0,570.0 1680.0,575.0" stroke="#9dd6f4" stroke-width="1.2"/>
<polyline points="1712.5,550.0 1725.0,547.5 1737.5,550.0 1745.0,545.0" stroke="#9dd6f4" stroke-width="1.2"/>
<polyline points="1720.0,637.5 1722.5,650.0 1717.5,662.5 1722.5,675.0 1732.5,685.0 1740.0,695.0 1735.0,705.0 1727.5,712.5 1720.0,717.5" stroke="#9dd6f4" stroke-width="1.2"/>
<polyline points="1143.1,120.6 1147.5,129.4 1154.1,135.9 1160.6,133.8 1167.2,127.2 1169.4,138.1 1169.4,151.2 1162.8,157.8 1158.4,166.6 1158.4,173.1 1167.2,175.3 1178.1,173.1 1186.9,177.5 1197.8,179.7 1208.8,177.5 1219.7,181.9 1226.2,186.2 1235.0,192.8 1237.2,199.4 1230.6,203.8 1221.9,208.1 1215.3,212.5 1219.7,221.2 1221.9,230.0 1226.2,238.8 1228.4,247.5" stroke="#8a8a8a" stroke-width="1.3"/>
<polyline points="1116.9,164.4 1127.8,162.2 1138.8,160.0 1149.7,155.6 1160.6,153.4 1169.4,151.2" stroke="#8a8a8a" stroke-width="1.3"/>
<polyline points="1245.9,138.1 1245.9,151.2 1243.8,162.2 1232.8,164.4 1226.2,170.9 1226.2,179.7 1230.6,188.4 1235.0,192.8" stroke="#8a8a8a" stroke-width="1.3"/>
<polyline points="1245.9,151.2 1256.9,157.8 1270.0,162.2 1280.9,164.4 1289.7,162.2 1291.9,153.4 1289.7,146.9 1296.2,144.7 1307.2,144.7" stroke="#8a8a8a" stroke-width="1.3"/>
<polyline points="1280.9,164.4 1289.7,175.3 1289.7,186.2 1285.3,195.0 1291.9,203.8 1296.2,210.3 1289.7,214.7 1280.9,216.9 1278.8,223.4 1283.1,230.0 1291.9,225.6 1296.2,216.9" stroke="#8a8a8a" stroke-width="1.3"/>
<polyline points="1245.9,179.7 1254.7,177.5 1261.2,184.1 1267.8,188.4 1263.4,195.0 1254.7,192.8 1245.9,188.4 1245.9,179.7" stroke="#8a8a8a" stroke-width="1.3"/>
<polyline points="1215.3,212.5 1208.8,210.3 1200.0,210.3 1193.4,214.7 1195.6,223.4 1191.2,232.2 1184.7,236.6 1182.5,243.1" stroke="#8a8a8a" stroke-width="1.3"/>
<polyline points="1230.6,247.5 1243.8,243.1 1254.7,243.1 1265.6,247.5 1274.4,251.9 1278.8,247.5" stroke="#8a8a8a" stroke-width="1.3"/>
<polyline points="1066.6,291.2 1068.8,300.0 1070.9,308.8 1073.1,317.5 1081.9,319.7 1090.6,315.3 1095.0,308.8 1101.6,304.4 1108.1,302.2 1114.7,300.0 1116.9,291.2 1114.7,282.5 1116.9,273.8 1125.6,269.4 1134.4,269.4 1138.8,265.0 1143.1,271.6 1149.7,273.8 1156.2,269.4 1162.8,262.8 1167.2,256.2 1169.4,249.7 1175.9,247.5" stroke="#8a8a8a" stroke-width="1.3"/>
<polyline points="1114.7,300.0 1121.2,308.8 1123.4,319.7 1127.8,330.6 1130.0,339.4 1136.6,343.8 1143.1,337.2 1149.7,335.0 1156.2,337.2 1162.8,332.8 1167.2,326.2 1175.9,324.1 1184.7,321.9 1189.1,319.7" stroke="#8a8a8a" stroke-width="1.3"/>
<polyline points="1189.1,319.7 1184.7,310.9 1186.9,302.2 1193.4,295.6 1202.2,291.2 1206.6,284.7" stroke="#8a8a8a" stroke-width="1.3"/>
<polyline points="1189.1,319.7 1195.6,328.4 1204.4,332.8 1213.1,330.6 1221.9,335.0 1230.6,339.4 1239.4,337.2 1248.1,335.0 1250.3,326.2 1254.7,317.5 1261.2,310.9 1270.0,306.6 1278.8,302.2 1289.7,300.0 1298.4,297.8" stroke="#8a8a8a" stroke-width="1.3"/>
<polyline points="1239.4,337.2 1245.9,343.8 1241.6,352.5 1237.2,359.1 1243.8,363.4 1252.5,361.2 1254.7,370.0 1261.2,376.6" stroke="#8a8a8a" stroke-width="1.3"/>
<polyline points="1252.5,361.2 1261.2,348.1 1272.2,341.6 1283.1,337.2 1294.1,339.4 1305.0,343.8 1313.8,352.5 1320.3,363.4 1324.7,374.4 1322.5,385.3 1329.1,394.1" stroke="#8a8a8a" stroke-width="1.3"/>
<polyline points="1140.9,341.6 1138.8,352.5 1143.1,361.2 1151.9,365.6 1160.6,370.0 1165.0,376.6 1171.6,374.4 1173.8,383.1 1169.4,391.9 1171.6,400.6 1169.4,405.0" stroke="#8a8a8a" stroke-width="1.3"/>
<polyline points="1112.5,372.2 1114.7,380.9 1121.2,387.5 1130.0,385.3 1138.8,389.7 1145.3,396.2 1145.3,405.0" stroke="#8a8a8a" stroke-width="1.3"/>
<polyline points="1086.2,370.0 1084.1,378.8 1081.9,389.7 1073.1,394.1 1066.6,391.9 1060.0,396.2 1051.2,394.1 1042.5,398.4" stroke="#8a8a8a" stroke-width="1.3"/>
<polyline points="981.2,332.8 992.2,319.7 1000.9,308.8 1007.5,315.3 1016.2,310.9 1025.0,308.8 1031.6,313.1 1038.1,319.7 1044.7,328.4 1046.9,339.4 1044.7,348.1 1040.3,354.7 1033.8,352.5 1027.2,354.7 1022.8,359.1 1016.2,354.7 1009.7,350.3 1003.1,345.9 996.6,343.8 987.8,341.6 981.2,332.8" stroke="#8a8a8a" stroke-width="1.3"/>
<polyline points="1022.8,359.1 1025.0,370.0 1029.4,378.8 1033.8,387.5 1042.5,398.4 1051.2,405.0" stroke="#8a8a8a" stroke-width="1.3"/>
<polyline points="1038.1,319.7 1044.7,308.8 1042.5,300.0 1038.1,295.6" stroke="#8a8a8a" stroke-width="1.3"/>
<polyline points="972.5,343.8 976.9,352.5 983.4,359.1 992.2,365.6 998.8,374.4 1007.5,380.9 1014.1,389.7 1020.6,398.4 1027.2,405.0" stroke="#8a8a8a" stroke-width="1.3"/>
<polyline points="972.5,343.8 972.5,356.9 973.6,372.2 981.2,378.8 983.4,391.9 987.8,405.0" stroke="#8a8a8a" stroke-width="1.3"/>
<polyline points="959.4,254.1 950.6,260.6 950.6,271.6 963.8,271.6 974.7,269.4 979.1,278.1 983.4,286.9 987.8,295.6 992.2,300.0 1000.9,308.8" stroke="#8a8a8a" stroke-width="1.3"/>
<polyline points="1213.1,391.9 1219.7,385.3 1230.6,383.1 1239.4,387.5 1245.9,396.2 1248.1,405.0" stroke="#8a8a8a" stroke-width="1.3"/>
<polyline points="1213.1,391.9 1215.3,400.6 1213.1,405.0" stroke="#8a8a8a" stroke-width="1.3"/>
<polyline points="1116.9,405.0 1114.7,396.2 1112.5,383.1 1112.5,372.2 1108.1,367.8 1099.4,367.8 1090.6,367.8 1086.2,370.0" stroke="#8a8a8a" stroke-width="1.3"/>
<polyline points="1066.6,260.6 1065.5,275.9 1065.5,300.0 1066.6,313.1 1066.6,329.5" stroke="#e8e8e8" stroke-width="1.2"/>
<polyline points="1067.2,263.8 1073.8,262.8 1079.4,264.7 1084.1,262.8 1081.2,268.4 1085.0,275.0 1083.1,280.6 1077.5,282.5 1071.9,285.3 1067.2,286.2 1070.0,280.6 1074.7,275.0 1071.9,269.4 1067.2,263.8" stroke="#f6dfe3" stroke-width="1.6"/>
<polyline points="1066.2,331.2 1070.0,330.3 1073.8,334.1 1078.4,333.1 1079.4,337.8 1085.0,340.6 1090.6,342.5 1096.2,344.4 1101.9,348.1 1105.6,353.8 1111.2,350.0 1116.9,346.2 1120.6,350.0 1119.7,357.5 1120.6,365.0 1115.0,369.7 1109.4,367.8 1103.8,365.9 1098.1,365.0 1092.5,366.9 1087.8,361.2 1085.0,355.6 1082.2,350.0 1077.5,344.4 1071.9,339.7 1067.2,335.0 1066.2,331.2" stroke="#f6dfe3" stroke-width="1.6"/>
<polyline points="902.5,443.8 911.2,441.6 920.0,432.8 924.4,421.9 933.1,417.5 944.1,419.7 955.0,421.9 965.9,415.3 976.9,410.9 981.2,415.3 974.7,421.9 976.9,430.6 972.5,439.4 970.3,450.3 972.5,463.4 970.3,470.0" stroke="#8a8a8a" stroke-width="1.3"/>
<polyline points="976.9,430.6 990.0,426.2 1000.9,428.4 1011.9,432.8 1020.6,441.6 1018.4,452.5 1016.2,463.4 1022.8,470.0 1031.6,472.2 1042.5,465.6 1046.9,456.9 1046.9,443.8 1051.2,432.8 1060.0,421.9 1064.4,413.1 1062.2,404.4 1060.0,400.0" stroke="#8a8a8a" stroke-width="1.3"/>
<polyline points="981.2,410.9 985.6,400.0" stroke="#8a8a8a" stroke-width="1.3"/>
<polyline points="891.6,535.6 898.1,542.2 906.9,548.8 915.6,550.9 924.4,544.4 933.1,542.2 944.1,540.0 952.8,533.4 955.0,524.7 952.8,515.9 957.2,509.4 965.9,505.0 959.4,496.2 957.2,491.9" stroke="#8a8a8a" stroke-width="1.3"/>
<polyline points="915.6,550.9 913.4,561.9 911.2,575.0 915.6,583.8 922.2,585.9 930.9,588.1 937.5,594.7 944.1,601.2 952.8,605.6 957.2,601.2 965.9,599.1 976.9,594.7 983.4,596.9" stroke="#8a8a8a" stroke-width="1.3"/>
<polyline points="968.1,579.4 974.7,585.9 979.1,592.5 983.4,596.9 992.2,599.1 1000.9,596.9 1009.7,601.2 1020.6,603.4 1031.6,605.6 1038.1,610.0 1044.7,603.4 1042.5,594.7 1038.1,585.9 1033.8,577.2 1031.6,568.4 1027.2,559.7 1025.0,550.9 1022.8,544.4" stroke="#8a8a8a" stroke-width="1.3"/>
<polyline points="983.4,540.0 990.0,535.6 998.8,540.0 1009.7,542.2 1022.8,544.4 1031.6,537.8 1042.5,531.2" stroke="#8a8a8a" stroke-width="1.3"/>
<polyline points="1046.9,601.2 1055.6,603.4 1064.4,601.2 1070.9,607.8 1075.3,616.6 1068.8,623.1 1064.4,629.7 1068.8,638.4 1073.1,647.2 1081.9,645.0 1090.6,640.6 1101.6,636.2 1108.1,631.9" stroke="#8a8a8a" stroke-width="1.3"/>
<polyline points="1060.0,592.5 1066.6,585.9 1075.3,579.4 1086.2,577.2 1097.2,581.6 1105.9,585.9 1114.7,588.1 1119.1,596.9 1121.2,607.8 1119.1,618.8 1121.2,627.5 1114.7,631.9" stroke="#8a8a8a" stroke-width="1.3"/>
<polyline points="1000.9,642.8 1009.7,647.2 1020.6,651.6 1031.6,655.9 1042.5,658.1 1053.4,655.9 1064.4,651.6 1073.1,647.2" stroke="#8a8a8a" stroke-width="1.3"/>
<polyline points="998.8,601.2 996.6,610.0 996.6,620.9 998.8,631.9 1000.9,642.8 1003.1,653.8 1005.3,666.9 1005.3,677.8" stroke="#8a8a8a" stroke-width="1.3"/>
<polyline points="828.1,616.6 834.7,607.8 841.2,596.9 850.0,588.1 860.9,590.3 871.9,594.7 882.8,596.9 893.8,592.5 902.5,588.1 911.2,590.3 920.0,585.9" stroke="#8a8a8a" stroke-width="1.3"/>
<polyline points="828.1,616.6 836.9,623.1 845.6,629.7 852.2,638.4 850.0,647.2 852.2,655.9 858.8,666.9 867.5,669.1 876.2,671.2" stroke="#8a8a8a" stroke-width="1.3"/>
<polyline points="893.8,592.5 895.9,603.4 898.1,614.4 895.9,625.3 898.1,636.2" stroke="#8a8a8a" stroke-width="1.3"/>
<polyline points="911.2,590.3 909.1,601.2 906.9,612.2 904.7,618.8" stroke="#8a8a8a" stroke-width="1.3"/>
<polyline points="920.0,614.4 928.8,616.6 937.5,612.2 946.2,616.6 952.8,614.4 955.0,605.6" stroke="#8a8a8a" stroke-width="1.3"/>
<polyline points="968.1,618.8 976.9,614.4 985.6,616.6 994.4,620.9 996.6,620.9" stroke="#8a8a8a" stroke-width="1.3"/>
<polyline points="970.3,618.8 972.5,629.7 972.5,642.8 970.3,653.8 968.1,664.7 965.9,675.6" stroke="#8a8a8a" stroke-width="1.3"/>
<polyline points="885.0,666.9 893.8,664.7 902.5,662.5 911.2,666.9 920.0,664.7 928.8,669.1 937.5,662.5 946.2,658.1 955.0,655.9 968.1,653.8" stroke="#8a8a8a" stroke-width="1.3"/>
<polyline points="852.2,669.1 860.9,675.6 871.9,677.8 882.8,682.2 893.8,680.0 902.5,677.8" stroke="#8a8a8a" stroke-width="1.3"/>
<polyline points="825.9,660.3 834.7,658.1 843.4,653.8 850.0,647.2" stroke="#8a8a8a" stroke-width="1.3"/>
<polyline points="815.0,669.1 823.8,675.6 832.5,684.4 841.2,686.6 850.0,682.2 852.2,669.1" stroke="#8a8a8a" stroke-width="1.3"/>
<polyline points="1064.4,505.0 1075.3,507.2 1086.2,505.0 1097.2,502.8 1108.1,509.4 1116.9,518.1" stroke="#8a8a8a" stroke-width="1.3"/>
<polyline points="1053.4,533.4 1064.4,531.2 1075.3,535.6 1086.2,540.0 1086.2,550.9 1084.1,561.9 1075.3,561.9 1064.4,559.7 1057.8,553.1 1062.2,544.4 1053.4,533.4" stroke="#8a8a8a" stroke-width="1.3"/>
<polyline points="1086.2,540.0 1095.0,533.4 1105.9,529.1 1116.9,526.9 1125.6,522.5" stroke="#8a8a8a" stroke-width="1.3"/>
<polyline points="1112.5,443.8 1121.2,452.5 1116.9,463.4 1123.4,472.2 1132.2,465.6" stroke="#8a8a8a" stroke-width="1.3"/>
<polyline points="1108.1,439.4 1116.9,430.6 1125.6,424.1 1136.6,419.7 1147.5,421.9 1156.2,417.5 1167.2,419.7 1175.9,426.2 1180.3,435.0 1173.8,443.8 1165.0,450.3 1156.2,454.7 1149.7,463.4 1151.9,474.4 1160.6,480.9 1167.2,491.9 1173.8,502.8" stroke="#8a8a8a" stroke-width="1.3"/>
<polyline points="1138.8,522.5 1147.5,515.9 1158.4,511.6 1169.4,507.2 1173.8,502.8 1184.7,498.4 1195.6,496.2" stroke="#8a8a8a" stroke-width="1.3"/>
<polyline points="1143.1,553.1 1151.9,548.8 1162.8,550.9 1173.8,553.1 1184.7,550.9 1195.6,553.1" stroke="#8a8a8a" stroke-width="1.3"/>
<polyline points="1189.1,627.5 1191.2,640.6 1184.7,651.6 1182.5,662.5 1191.2,669.1 1200.0,671.2" stroke="#8a8a8a" stroke-width="1.3"/>
<polyline points="1103.8,680.0 1112.5,684.4 1121.2,690.9 1130.0,688.8 1138.8,693.1 1149.7,688.8 1158.4,684.4 1165.0,675.6 1173.8,669.1" stroke="#8a8a8a" stroke-width="1.3"/>
<polyline points="1161.7,664.7 1169.4,658.1 1180.3,660.3 1189.1,666.9 1195.6,675.6 1191.2,684.4 1184.7,690.9 1175.9,688.8 1167.2,682.2 1162.8,673.4 1161.7,664.7" stroke="#8a8a8a" stroke-width="1.3"/>
<polyline points="817.2,736.9 828.1,741.2 832.5,752.2 830.3,765.3 834.7,776.2 839.1,787.2 834.7,798.1 832.5,811.2 834.7,824.4 836.9,833.1" stroke="#8a8a8a" stroke-width="1.3"/>
<polyline points="845.6,723.8 850.0,736.9 854.4,750.0 863.1,756.6 874.1,754.4 882.8,750.0 889.4,745.6" stroke="#8a8a8a" stroke-width="1.3"/>
<polyline points="832.5,752.2 843.4,756.6 854.4,750.0" stroke="#8a8a8a" stroke-width="1.3"/>
<polyline points="874.1,754.4 871.9,767.5 876.2,780.6 874.1,791.6 869.7,800.3 867.5,811.2 876.2,817.8 878.4,828.8" stroke="#8a8a8a" stroke-width="1.3"/>
<polyline points="889.4,765.3 891.6,776.2 889.4,787.2 893.8,798.1 904.7,795.9" stroke="#8a8a8a" stroke-width="1.3"/>
<polyline points="930.9,793.8 937.5,806.9 944.1,815.6 952.8,822.2 950.6,835.3 948.4,848.4 946.2,859.4 952.8,865.9 961.6,857.2 970.3,857.2 976.9,865.9 981.2,876.9 987.8,885.6" stroke="#8a8a8a" stroke-width="1.3"/>
<polyline points="968.1,822.2 974.7,830.9 981.2,837.5 985.6,846.2 983.4,857.2 990.0,868.1 996.6,876.9" stroke="#8a8a8a" stroke-width="1.3"/>
<polyline points="976.9,776.2 981.2,787.2 979.1,798.1 976.9,809.1 972.5,817.8 968.1,822.2 952.8,822.2" stroke="#8a8a8a" stroke-width="1.3"/>
<polyline points="981.2,776.2 990.0,774.1 998.8,778.4 1007.5,776.2 1016.2,778.4 1025.0,780.6" stroke="#8a8a8a" stroke-width="1.3"/>
<polyline points="882.8,841.9 893.8,846.2 902.5,850.6 911.2,855.0 904.7,861.6 900.3,868.1 902.5,879.1 911.2,883.4 917.8,890.0 915.6,900.9 906.9,903.1 900.3,907.5 902.5,916.2 895.9,920.6 893.8,929.4 900.3,935.9 906.9,951.2" stroke="#8a8a8a" stroke-width="1.3"/>
<polyline points="911.2,855.0 922.2,852.8 933.1,857.2 941.9,863.8 946.2,859.4" stroke="#8a8a8a" stroke-width="1.3"/>
<polyline points="906.9,951.2 915.6,942.5 922.2,933.8 930.9,925.0 937.5,918.4 946.2,920.6 955.0,916.2 963.8,909.7 972.5,905.3 981.2,900.9" stroke="#8a8a8a" stroke-width="1.3"/>
<polyline points="981.2,900.9 990.0,907.5 998.8,911.9 1005.3,918.4 1007.5,927.2 1005.3,935.9 1007.5,946.9 1016.2,953.4 1025.0,955.6 1029.4,962.2" stroke="#8a8a8a" stroke-width="1.3"/>
<polyline points="1007.5,918.4 1016.2,914.1 1025.0,916.2 1035.9,911.9 1044.7,909.7 1049.1,914.1" stroke="#8a8a8a" stroke-width="1.3"/>
<polyline points="1060.0,736.9 1070.9,732.5 1081.9,728.1 1090.6,732.5 1099.4,739.1 1108.1,736.9 1119.1,739.1 1130.0,743.4 1138.8,752.2 1151.9,758.8 1162.8,765.3 1171.6,769.7" stroke="#8a8a8a" stroke-width="1.3"/>
<polyline points="1060.0,758.8 1064.4,769.7 1073.1,776.2 1081.9,782.8 1086.2,789.4 1081.9,798.1 1077.5,806.9 1079.7,815.6 1073.1,822.2 1075.3,828.8" stroke="#8a8a8a" stroke-width="1.3"/>
<polyline points="1086.2,789.4 1097.2,785.0 1108.1,780.6 1119.1,776.2 1130.0,769.7 1138.8,763.1 1151.9,758.8" stroke="#8a8a8a" stroke-width="1.3"/>
<polyline points="1079.7,815.6 1090.6,820.0 1101.6,817.8 1112.5,822.2 1123.4,817.8 1132.2,811.2 1138.8,806.9" stroke="#8a8a8a" stroke-width="1.3"/>
<polyline points="1029.4,802.5 1038.1,809.1 1044.7,817.8 1053.4,826.6 1062.2,835.3 1070.9,841.9 1079.7,848.4 1086.2,857.2 1088.4,863.8" stroke="#8a8a8a" stroke-width="1.3"/>
<polyline points="1027.2,824.4 1033.8,833.1 1042.5,837.5 1049.1,844.1 1053.4,852.8 1055.6,861.6 1062.2,863.8 1070.9,859.4 1075.3,868.1 1066.6,876.9 1057.8,887.8 1053.4,896.6 1051.2,890.0 1053.4,881.2 1051.2,872.5 1042.5,872.5 1033.8,876.9 1027.2,883.4" stroke="#8a8a8a" stroke-width="1.3"/>
<polyline points="1073.1,911.9 1077.5,903.1 1086.2,905.3 1095.0,907.5 1105.9,905.3 1112.5,911.9 1108.1,918.4 1103.8,927.2 1101.6,935.9 1099.4,944.7 1090.6,946.9 1081.9,944.7 1073.1,942.5 1070.9,931.6 1068.8,922.8 1073.1,911.9" stroke="#8a8a8a" stroke-width="1.3"/>
<polyline points="1101.6,935.9 1105.9,946.9 1108.1,957.8 1110.3,968.8 1108.1,977.5" stroke="#8a8a8a" stroke-width="1.3"/>
<polyline points="1125.6,892.2 1130.0,903.1 1132.2,914.1 1130.0,925.0 1134.4,933.8 1132.2,944.7 1130.0,955.6 1132.2,966.6" stroke="#8a8a8a" stroke-width="1.3"/>
<polyline points="1169.4,890.0 1171.6,900.9 1169.4,911.9 1165.0,922.8 1156.2,929.4 1151.9,938.1 1160.6,942.5" stroke="#8a8a8a" stroke-width="1.3"/>
<polyline points="882.8,988.4 889.4,984.1 900.3,981.9 911.2,984.1 922.2,979.7 933.1,977.5" stroke="#8a8a8a" stroke-width="1.3"/>
<polyline points="898.1,964.4 900.3,973.1 900.3,981.9" stroke="#8a8a8a" stroke-width="1.3"/>
<polyline points="904.7,1008.1 913.4,1003.8 922.2,1005.9 933.1,1001.6 944.1,1005.9 946.2,1016.9 941.9,1025.6 937.5,1030.0" stroke="#8a8a8a" stroke-width="1.3"/>
<polyline points="996.6,1005.9 1007.5,1010.3 1018.4,1012.5 1027.2,1008.1 1033.8,1001.6 1040.3,997.2 1042.5,986.2 1042.5,975.3 1044.7,966.6" stroke="#8a8a8a" stroke-width="1.3"/>
<polyline points="998.8,1030.0 996.6,1021.2 996.6,1005.9 990.0,1003.8" stroke="#8a8a8a" stroke-width="1.3"/>
<polyline points="1073.1,1008.1 1077.5,999.4 1086.2,997.2 1095.0,1001.6 1099.4,997.2" stroke="#8a8a8a" stroke-width="1.3"/>
<polyline points="1119.1,999.4 1130.0,1005.9 1140.9,1010.3 1151.9,1005.9 1162.8,1001.6 1173.8,997.2 1184.7,999.4 1195.6,995.0" stroke="#8a8a8a" stroke-width="1.3"/>
<polyline points="1132.2,966.6 1140.9,964.4 1151.9,960.0 1160.6,953.4 1165.0,944.7" stroke="#8a8a8a" stroke-width="1.3"/>
<polyline points="1012.2,1105.3 1020.9,1114.1 1029.7,1120.6 1036.2,1127.2 1038.4,1133.8 1036.2,1144.7 1038.4,1155.6 1036.2,1166.6 1029.7,1173.1 1023.1,1177.5 1016.6,1179.7" stroke="#8a8a8a" stroke-width="1.3"/>
<polyline points="1038.4,1133.8 1047.2,1131.6 1055.9,1125.0 1062.5,1116.2 1064.7,1105.3 1060.3,1096.6 1066.9,1092.2 1075.6,1096.6 1084.4,1098.8 1093.1,1096.6 1101.9,1103.1 1106.2,1111.9 1101.9,1120.6 1097.5,1131.6 1099.7,1142.5 1097.5,1151.2" stroke="#8a8a8a" stroke-width="1.3"/>
<polyline points="983.8,1160.0 992.5,1164.4 1001.2,1168.8 1007.8,1175.3 1016.6,1179.7 1025.3,1184.1 1029.7,1192.8 1027.5,1203.8 1029.7,1214.7 1025.3,1221.2" stroke="#8a8a8a" stroke-width="1.3"/>
<polyline points="999.1,1223.4 1010.0,1221.2 1018.8,1223.4 1027.5,1230.0 1034.1,1236.6 1042.8,1240.9 1049.4,1247.5 1058.1,1251.9 1064.7,1258.4 1069.1,1265.0" stroke="#8a8a8a" stroke-width="1.3"/>
<polyline points="1036.2,1166.6 1042.8,1173.1 1049.4,1170.9 1055.9,1177.5 1064.7,1173.1 1071.2,1166.6 1080.0,1168.8 1088.8,1170.9 1093.1,1164.4" stroke="#8a8a8a" stroke-width="1.3"/>
<polyline points="1045.0,1177.5 1047.2,1188.4 1045.0,1199.4 1053.8,1203.8 1062.5,1208.1 1071.2,1205.9 1075.6,1214.7 1082.2,1223.4 1084.4,1234.4 1080.0,1243.1 1082.2,1251.9" stroke="#8a8a8a" stroke-width="1.3"/>
<polyline points="1088.8,1170.9 1086.6,1181.9 1090.9,1192.8 1095.3,1201.6 1104.1,1205.9 1112.8,1212.5 1119.4,1221.2 1123.8,1230.0 1125.9,1238.8 1132.5,1243.1" stroke="#8a8a8a" stroke-width="1.3"/>
<polyline points="1099.7,1157.8 1108.4,1146.9 1115.0,1138.1 1125.9,1135.9 1134.7,1131.6 1139.1,1140.3 1138.0,1151.2 1139.1,1162.2 1143.4,1173.1 1145.6,1179.7 1139.1,1186.2 1132.5,1188.4 1125.9,1184.1 1119.4,1186.2 1112.8,1179.7 1108.4,1170.9 1101.9,1166.6 1099.7,1157.8" stroke="#8a8a8a" stroke-width="1.3"/>
<polyline points="1139.1,1140.3 1147.8,1138.1 1158.8,1142.5 1169.7,1144.7 1180.6,1146.9 1187.2,1144.7 1189.4,1155.6 1191.6,1166.6 1187.2,1177.5 1180.6,1186.2 1176.2,1195.0 1169.7,1197.2 1163.1,1192.8 1156.6,1188.4 1150.0,1181.9 1145.6,1179.7" stroke="#8a8a8a" stroke-width="1.3"/>
<polyline points="1189.4,1144.7 1198.1,1146.9 1206.9,1140.3 1215.6,1133.8 1224.4,1127.2 1230.9,1116.2 1233.1,1107.5" stroke="#8a8a8a" stroke-width="1.3"/>
<polyline points="1224.4,1127.2 1233.1,1133.8 1241.9,1140.3 1250.6,1144.7 1257.2,1149.1" stroke="#8a8a8a" stroke-width="1.3"/>
<polyline points="1178.4,1195.0 1187.2,1201.6 1195.9,1203.8 1204.7,1195.0 1213.4,1188.4 1220.0,1184.1 1226.6,1188.4 1233.1,1195.0" stroke="#8a8a8a" stroke-width="1.3"/>
<polyline points="1156.6,1201.6 1163.1,1210.3 1171.9,1214.7 1180.6,1221.2 1187.2,1230.0 1195.9,1234.4 1204.7,1236.6 1213.4,1240.9 1213.4,1251.9 1215.6,1262.8 1213.4,1271.6" stroke="#8a8a8a" stroke-width="1.3"/>
<polyline points="1132.5,1243.1 1141.2,1236.6 1150.0,1234.4 1156.6,1238.8 1163.1,1247.5 1167.5,1238.8 1176.2,1234.4 1187.2,1232.2" stroke="#8a8a8a" stroke-width="1.3"/>
<polyline points="1167.5,1249.7 1169.7,1258.4 1174.1,1267.2 1182.8,1273.8 1191.6,1278.1 1200.3,1282.5 1202.5,1291.2" stroke="#8a8a8a" stroke-width="1.3"/>
<polyline points="1222.2,1256.2 1220.0,1265.0 1224.4,1271.6 1233.1,1269.4 1239.7,1260.6 1241.9,1254.1" stroke="#8a8a8a" stroke-width="1.3"/>
<polyline points="1071.2,1037.5 1080.0,1044.1 1084.4,1052.8 1093.1,1046.2 1101.9,1041.9 1106.2,1048.4 1108.4,1057.2 1115.0,1063.8 1112.8,1074.7 1110.6,1085.6 1112.8,1094.4 1123.8,1096.6 1132.5,1092.2" stroke="#8a8a8a" stroke-width="1.3"/>
<polyline points="1115.0,1063.8 1125.9,1070.3 1134.7,1076.9 1145.6,1081.2 1154.4,1079.1 1158.8,1072.5 1165.3,1063.8 1171.9,1057.2 1180.6,1055.0 1187.2,1061.6 1191.6,1070.3" stroke="#8a8a8a" stroke-width="1.3"/>
<polyline points="1134.7,1041.9 1132.5,1050.6 1136.9,1059.4 1147.8,1057.2 1156.6,1052.8 1165.3,1057.2 1165.3,1063.8" stroke="#8a8a8a" stroke-width="1.3"/>
<polyline points="1130.3,1103.1 1132.5,1094.4 1139.1,1092.2 1145.6,1090.0 1150.0,1096.6 1153.3,1105.3 1147.8,1109.7 1146.7,1116.2 1139.1,1117.3 1132.5,1114.1 1130.3,1103.1" stroke="#8a8a8a" stroke-width="1.3"/>
<polyline points="1153.3,1105.3 1160.9,1107.5 1169.7,1105.3 1176.2,1109.7 1178.4,1118.4 1182.8,1125.0 1187.2,1131.6 1187.2,1144.7" stroke="#8a8a8a" stroke-width="1.3"/>
<polyline points="1158.8,1079.1 1167.5,1083.4 1176.2,1081.2 1185.0,1076.9 1193.8,1079.1 1202.5,1085.6 1200.3,1094.4 1193.8,1098.8 1191.6,1105.3 1200.3,1109.7 1209.1,1111.9 1217.8,1114.1 1226.6,1111.9 1233.1,1107.5" stroke="#8a8a8a" stroke-width="1.3"/>
<polyline points="1191.6,1070.3 1202.5,1074.7 1213.4,1076.9 1224.4,1072.5 1233.1,1074.7" stroke="#8a8a8a" stroke-width="1.3"/>
<polyline points="1230.9,1061.6 1228.8,1072.5 1233.1,1083.4 1230.9,1096.6 1233.1,1107.5" stroke="#8a8a8a" stroke-width="1.3"/>
<polyline points="1073.4,1076.9 1080.0,1087.8 1090.9,1094.4 1101.9,1092.2 1110.6,1085.6" stroke="#8a8a8a" stroke-width="1.3"/>
<polyline points="1047.2,1079.1 1049.4,1090.0 1060.3,1096.6" stroke="#8a8a8a" stroke-width="1.3"/>
<polyline points="1053.8,1037.5 1058.1,1048.4 1066.9,1052.8 1071.2,1063.8 1069.1,1074.7 1073.4,1076.9" stroke="#8a8a8a" stroke-width="1.3"/>
<polyline points="1001.2,1020.0 999.1,1030.9 1001.2,1041.9 1003.4,1052.8 1012.2,1059.4 1023.1,1061.6 1034.1,1063.8 1042.8,1068.1" stroke="#8a8a8a" stroke-width="1.3"/>
<polyline points="1257.2,1149.1 1268.1,1151.2 1279.1,1149.1 1290.0,1153.4 1287.8,1164.4 1290.0,1175.3 1298.8,1181.9 1307.5,1188.4 1316.2,1192.8" stroke="#8a8a8a" stroke-width="1.3"/>
<polyline points="1246.2,1212.5 1255.0,1205.9 1261.6,1197.2 1270.3,1201.6 1281.2,1197.2 1290.0,1190.6 1298.8,1181.9" stroke="#8a8a8a" stroke-width="1.3"/>
<polyline points="1307.5,1188.4 1309.7,1199.4 1307.5,1210.3 1309.7,1221.2 1303.1,1230.0 1294.4,1234.4 1285.6,1238.8 1276.9,1245.3 1268.1,1254.1 1257.2,1256.2 1246.2,1260.6" stroke="#8a8a8a" stroke-width="1.3"/>
<polyline points="1268.1,1254.1 1274.7,1262.8 1281.2,1273.8 1285.6,1284.7 1283.4,1295.6 1281.2,1304.4" stroke="#8a8a8a" stroke-width="1.3"/>
<polyline points="1290.0,1063.8 1298.8,1072.5 1307.5,1081.2 1318.4,1076.9 1329.4,1083.4 1338.1,1092.2 1335.9,1103.1 1340.3,1114.1 1344.7,1125.0" stroke="#8a8a8a" stroke-width="1.3"/>
<polyline points="1279.1,1116.2 1290.0,1120.6 1300.9,1116.2 1311.9,1120.6 1316.2,1131.6 1325.0,1129.4 1333.8,1138.1 1335.9,1146.9" stroke="#8a8a8a" stroke-width="1.3"/>
<polyline points="1325.0,1028.8 1331.6,1039.7 1340.3,1044.1 1351.2,1041.9 1360.0,1037.5" stroke="#8a8a8a" stroke-width="1.3"/>
<polyline points="1311.9,1278.1 1320.6,1271.6 1316.2,1260.6 1320.6,1251.9 1331.6,1249.7 1342.5,1245.3 1353.4,1240.9 1360.0,1238.8" stroke="#8a8a8a" stroke-width="1.3"/>
<polyline points="1320.6,1195.0 1325.0,1205.9 1320.6,1216.9 1316.2,1227.8 1318.4,1238.8 1320.6,1251.9" stroke="#8a8a8a" stroke-width="1.3"/>
<polyline points="1150.0,457.8 1153.1,453.1 1160.9,448.4 1162.5,442.2 1170.3,439.1 1178.1,435.9 1184.4,432.8 1189.1,439.1 1195.3,442.2 1201.6,440.6 1209.4,442.2 1217.2,445.3 1225.0,446.9 1229.7,453.1 1235.9,457.8 1240.6,460.9 1239.1,467.2 1240.6,473.4 1237.5,476.6 1231.2,476.6 1225.0,478.1 1218.8,476.6 1212.5,475.0 1207.8,471.9 1200.0,475.0 1192.2,475.0 1184.4,476.6 1176.6,476.6 1170.3,481.2 1162.5,478.1 1157.8,471.9 1153.1,467.2 1150.0,457.8" stroke="#8a8a8a" stroke-width="1.3"/>
<polyline points="1201.6,440.6 1203.1,431.2 1204.7,423.4 1209.4,417.2 1212.5,409.4 1215.6,400.0" stroke="#8a8a8a" stroke-width="1.3"/>
<polyline points="1240.6,460.9 1246.9,462.5 1253.1,464.1 1260.9,462.5 1262.5,468.8 1259.4,473.4 1254.7,476.6 1248.4,478.1 1246.9,484.4 1245.3,492.2 1240.6,493.8 1235.9,498.4 1232.8,504.7 1231.2,509.4" stroke="#8a8a8a" stroke-width="1.3"/>
<polyline points="1260.9,462.5 1265.6,457.8 1271.9,453.1 1275.0,446.9 1273.4,439.1 1275.0,431.2 1273.4,423.4 1276.6,415.6 1281.2,409.4 1287.5,404.7 1292.2,403.1 1298.4,407.8 1301.6,414.1 1307.8,412.5 1314.1,409.4" stroke="#8a8a8a" stroke-width="1.3"/>
<polyline points="1301.6,484.4 1303.1,476.6 1306.2,468.8 1307.8,460.9 1309.4,453.1 1309.4,445.3 1315.6,443.8 1323.4,440.6 1329.7,439.1" stroke="#8a8a8a" stroke-width="1.3"/>
<polyline points="1170.3,481.2 1167.2,489.1 1168.8,496.9 1171.9,504.7 1176.6,512.5 1178.1,520.3 1184.4,523.4 1190.6,526.6 1195.3,531.2" stroke="#8a8a8a" stroke-width="1.3"/>
<polyline points="1171.9,504.7 1165.6,507.8 1159.4,510.9 1151.6,514.1 1143.8,517.2 1139.1,520.3" stroke="#8a8a8a" stroke-width="1.3"/>
<polyline points="1231.2,509.4 1225.0,501.6 1218.8,503.1 1212.5,507.8 1207.8,512.5 1206.2,518.8 1200.0,521.9 1195.3,526.6 1195.3,531.2 1193.8,539.1 1192.2,546.9 1193.8,554.7 1200.0,556.2 1206.2,557.8 1210.9,562.5 1217.2,565.6 1223.4,567.2 1229.7,565.6 1234.4,562.5 1239.1,565.6" stroke="#8a8a8a" stroke-width="1.3"/>
<polyline points="1231.2,509.4 1239.1,510.9 1246.9,510.9 1254.7,515.6 1259.4,520.3 1256.2,523.4 1251.6,526.6 1251.6,534.4 1253.1,542.2 1253.1,550.0 1251.6,556.2 1246.9,559.4 1240.6,560.9 1239.1,565.6" stroke="#8a8a8a" stroke-width="1.3"/>
<polyline points="1259.4,520.3 1265.6,520.3 1271.9,517.2 1278.1,512.5" stroke="#8a8a8a" stroke-width="1.3"/>
<polyline points="1301.6,500.0 1307.8,498.4 1312.5,504.7 1317.2,510.9 1323.4,517.2 1328.1,523.4 1325.0,529.7 1320.3,535.9 1318.8,540.6" stroke="#8a8a8a" stroke-width="1.3"/>
<polyline points="1239.1,565.6 1240.6,571.9 1245.3,578.1 1250.0,584.4 1253.1,579.7 1254.7,571.9 1256.2,565.6 1262.5,562.5 1270.3,559.4 1276.6,556.2 1282.8,554.7 1287.5,551.6 1292.2,548.4" stroke="#8a8a8a" stroke-width="1.3"/>
<polyline points="1229.7,565.6 1221.9,568.8 1214.1,571.9 1206.2,575.0 1198.4,578.1 1193.8,582.8 1193.8,589.1 1196.9,595.3 1203.1,600.0 1201.6,606.2 1203.1,614.1 1203.1,618.8" stroke="#8a8a8a" stroke-width="1.3"/>
<polyline points="1203.1,618.8 1212.5,618.8 1221.9,620.3 1231.2,618.8 1240.6,617.2 1246.9,615.6 1253.1,617.2 1259.4,618.8 1265.6,614.1 1270.3,610.9" stroke="#8a8a8a" stroke-width="1.3"/>
<polyline points="1139.1,520.3 1142.2,528.1 1143.8,535.9 1145.3,543.8 1143.8,550.0" stroke="#8a8a8a" stroke-width="1.3"/>
<polyline points="1107.8,440.6 1115.6,437.5 1123.4,431.2 1125.0,425.0 1132.8,421.9 1140.6,418.8 1148.4,417.2 1154.7,420.3 1157.8,423.4" stroke="#8a8a8a" stroke-width="1.3"/>
<polyline points="1107.8,440.6 1112.5,448.4 1117.2,454.7 1120.3,462.5 1123.4,467.2" stroke="#8a8a8a" stroke-width="1.3"/>
<polyline points="1157.8,423.4 1165.6,421.9 1173.4,423.4 1178.1,429.7 1184.4,432.8" stroke="#8a8a8a" stroke-width="1.3"/>
<polyline points="1154.7,420.3 1153.1,412.5 1150.0,406.2 1145.3,400.0" stroke="#8a8a8a" stroke-width="1.3"/>
<polyline points="1120.3,579.7 1123.4,587.5 1121.9,596.9 1120.3,606.2 1121.9,615.6 1120.3,625.0" stroke="#8a8a8a" stroke-width="1.3"/>
</g>
<polygon points="1576.2,88.8 1580.0,86.9 1583.8,87.5 1586.2,83.8 1588.8,82.5 1586.2,77.5 1583.8,71.2 1586.2,66.2 1591.2,63.8 1597.5,62.5 1605.0,61.9 1606.2,63.1 1603.8,66.2 1601.2,70.0 1600.0,73.8 1601.9,77.5 1605.0,81.2 1610.0,83.8 1615.0,82.5 1621.2,80.6 1627.5,80.6 1631.2,83.1 1632.5,87.5 1630.6,92.5 1626.2,95.6 1622.5,98.8 1620.6,103.8 1622.5,108.8 1626.2,112.5 1631.2,115.0 1635.0,118.8 1638.8,123.1 1640.6,126.2 1638.1,127.5 1636.2,132.5 1634.4,135.0 1631.9,133.1 1633.8,129.4 1631.9,126.2 1627.5,125.0 1622.5,125.0 1617.5,126.2 1612.5,127.5 1607.5,131.2 1603.8,135.6 1603.1,140.0 1603.8,143.8 1601.2,145.6 1597.5,143.8 1595.0,141.9 1592.5,140.0 1588.8,140.0 1585.0,138.8 1581.2,136.2 1577.5,132.5 1574.4,127.5 1572.5,122.5 1573.8,120.0 1578.8,120.0 1583.8,118.8 1586.2,116.2 1585.0,112.5 1581.2,111.2 1577.5,111.2 1575.0,108.8 1576.2,105.0 1580.0,102.5 1583.8,100.0 1586.2,98.8 1585.0,96.2 1581.2,97.5 1577.5,100.0 1575.0,98.8 1576.2,95.0 1578.8,92.5 1576.2,90.0" fill="#3fa7e0"/>
<polygon points="1567.5,98.8 1568.1,92.5 1569.4,85.0 1570.6,79.4 1572.2,76.6 1574.0,77.1 1572.8,81.2 1571.9,87.5 1571.2,93.8 1570.2,100.0 1569.0,105.0 1566.2,107.5 1561.2,108.5 1560.0,106.2 1565.0,103.1" fill="#3fa7e0"/>
<polygon points="1051.9,1.2 1054.4,1.2 1053.8,5.0 1052.8,10.0 1052.2,15.0 1053.1,20.0 1056.2,23.8 1060.0,25.6 1063.8,25.0 1066.2,24.4 1062.5,26.9 1058.8,28.8 1055.0,26.9 1051.2,23.8 1049.4,26.2 1048.1,32.5 1046.9,38.8 1046.5,43.8 1045.6,48.1 1044.4,48.1 1044.0,42.5 1044.4,35.0 1045.0,27.5 1045.6,21.2 1046.9,15.0 1048.8,8.8 1050.6,3.8" fill="#4b4b4b"/>
<polygon points="1057.5,53.8 1060.0,50.6 1065.0,49.0 1071.2,48.5 1076.2,50.0 1078.1,53.8 1076.9,58.1 1073.8,61.2 1068.8,61.9 1063.8,60.0 1059.4,58.1" fill="#4b4b4b"/>
<polygon points="1046.9,61.2 1049.4,59.4 1050.6,63.8 1052.5,68.1 1055.0,71.9 1056.2,75.0 1054.4,75.6 1051.2,72.5 1048.1,68.1 1046.0,64.4" fill="#4b4b4b"/>
<polygon points="1071.9,71.9 1076.2,70.0 1081.2,68.1 1085.0,66.9 1085.6,68.1 1081.9,70.0 1076.9,71.9 1072.5,73.1" fill="#4b4b4b"/>
<polygon points="1091.9,70.0 1093.8,70.0 1093.8,71.9 1091.9,71.9" fill="#4b4b4b"/>
<polygon points="1069.4,81.9 1072.5,81.9 1075.0,83.8 1074.4,85.0 1071.2,84.0" fill="#4b4b4b"/>
<polygon points="1078.1,91.9 1081.2,89.4 1085.6,86.9 1089.4,85.6 1090.6,87.5 1090.0,91.2 1088.1,95.0 1085.0,97.2 1081.2,97.5 1078.8,95.0" fill="#4b4b4b"/>
<polygon points="1101.9,86.2 1103.5,86.2 1103.5,87.5 1101.9,87.5" fill="#4b4b4b"/>
<polygon points="1000.0,153.8 1003.0,153.8 1003.5,157.0 1000.5,157.0" fill="#4b4b4b"/>
<polygon points="1060.1,196.4 1062.4,196.4 1062.4,198.7 1060.1,198.7" fill="#f08090"/>
<polygon points="1066.6,202.8 1069.0,202.8 1069.0,205.1 1066.6,205.1" fill="#e86078"/>
<polygon points="866.1,263.2 869.8,261.8 875.6,260.3 880.7,260.3 883.6,262.5 880.0,264.2 877.1,266.1 877.8,269.8 875.6,270.5 872.7,268.3 869.8,267.6 867.6,265.4" fill="#3a3a3a"/>
<polygon points="890.9,250.1 899.0,248.2 906.2,247.2 912.1,247.6 906.2,249.1 899.0,250.1 891.7,251.6" fill="#e84c65"/>
<polygon points="890.6,255.2 892.8,254.9 893.1,257.4 890.9,257.7" fill="#e84c65"/>
<polygon points="920.1,242.8 925.2,240.9 932.5,240.2 939.8,239.9 940.5,241.4 934.0,242.4 926.7,243.8 920.8,244.7" fill="#e84c65"/>
<polygon points="944.9,239.2 950.0,238.4 950.7,239.9 945.6,240.9" fill="#e84c65"/>
<polygon points="955.8,237.0 960.2,235.5 967.5,234.8 972.6,234.5 971.9,236.2 964.6,237.0 958.8,238.4 958.0,239.9 955.8,239.2" fill="#5a5a5a"/>
<polygon points="978.4,232.6 983.5,230.7 990.8,229.7 993.8,230.4 989.4,231.9 983.5,233.3 979.2,234.8" fill="#5a5a5a"/>
<polygon points="998.9,227.5 1004.0,227.5 1009.8,229.7 1008.3,230.4 1002.5,229.0 998.9,228.7" fill="#5a5a5a"/>
<polygon points="1597.5,82.5 1600.0,85.0 1603.8,90.0 1606.2,95.0 1610.0,100.0 1611.2,105.0 1613.1,110.0 1617.5,111.2 1618.8,107.5 1617.5,102.5 1616.2,98.8 1614.4,95.0 1612.5,90.0 1610.6,85.6 1607.5,83.1 1605.0,81.9 1601.9,78.8 1600.0,77.5 1597.5,80.0" fill="#fff"/>
<polygon points="1496.9,120.0 1501.2,117.5 1506.2,116.2 1511.2,114.4 1516.2,111.9 1521.2,110.6 1526.2,110.0 1530.0,111.2 1533.8,111.9 1538.8,110.6 1543.8,110.0 1548.8,108.8 1548.1,111.9 1545.6,116.2 1543.1,121.2 1540.0,124.0 1536.9,120.0 1534.4,115.6 1531.9,116.2 1530.0,118.1 1527.5,115.0 1523.8,113.8 1520.0,116.2 1516.2,118.1 1513.8,120.6 1510.0,121.9 1506.2,125.0 1503.1,126.9 1500.6,131.2 1497.5,133.8 1496.2,128.8" fill="#fff"/>
<polygon points="1647.5,183.8 1651.2,181.2 1655.0,178.8 1660.0,177.5 1665.0,178.1 1668.8,181.2 1671.9,186.2 1673.1,191.2 1672.5,196.2 1670.6,200.0 1667.5,197.5 1666.2,193.8 1663.8,196.2 1663.1,200.0 1660.0,197.5 1661.2,193.8 1658.8,191.9 1657.5,195.0 1655.0,192.5 1652.5,190.0 1653.1,186.2 1650.0,187.5" fill="#fff"/>
<polygon points="1126.1,1263.1 1129.1,1261.7 1134.2,1265.3 1140.0,1269.7 1145.8,1273.3 1148.8,1276.2 1145.8,1275.1 1140.0,1272.2 1134.2,1269.0 1129.1,1266.0" fill="#fff"/>
<polyline points="1638.1,159.4 1640.0,160.6 1643.8,167.5 1646.2,176.2 1645.0,181.2 1641.2,184.4 1647.5,185.6" fill="none" stroke="#fff" stroke-width="1.3"/>
<polyline points="1652.5,191.2 1655.0,198.8 1657.5,203.8 1653.8,208.8 1649.4,213.8 1650.6,216.9 1660.0,218.5" fill="none" stroke="#fff" stroke-width="1.5"/>
<g fill="none" stroke-linejoin="round" stroke-linecap="round">
</g>
<g font-family="Liberation Sans, sans-serif" font-weight="bold" font-size="21.5" style="paint-order:stroke fill">
<circle cx="1225.8" cy="274.2" r="5.6" fill="#fff"/><circle cx="1225.8" cy="274.2" r="3.4" fill="#3a3a3a"/>
<text x="1237.5" y="281.0" textLength="107.0" lengthAdjust="spacingAndGlyphs" fill="#05050f" stroke="#fffaf2" stroke-width="4.0" stroke-linejoin="round" paint-order="stroke" style="filter:drop-shadow(0.7px 0.9px 0 #fbeedc)">Hamburg</text>
<circle cx="1602.0" cy="460.0" r="5.6" fill="#fff"/><circle cx="1602.0" cy="460.0" r="3.4" fill="#3a3a3a"/>
<text x="1615.0" y="466.5" textLength="63.0" lengthAdjust="spacingAndGlyphs" fill="#05050f" stroke="#fffaf2" stroke-width="4.0" stroke-linejoin="round" paint-order="stroke" style="filter:drop-shadow(0.7px 0.9px 0 #fbeedc)">Berlin</text>
<circle cx="903.0" cy="690.5" r="5.6" fill="#fff"/><circle cx="903.0" cy="690.5" r="3.4" fill="#3a3a3a"/>
<text x="915.0" y="697.0" textLength="122.5" lengthAdjust="spacingAndGlyphs" fill="#05050f" stroke="#fffaf2" stroke-width="4.0" stroke-linejoin="round" paint-order="stroke" style="filter:drop-shadow(0.7px 0.9px 0 #fbeedc)">Dusseldorf</text>
<circle cx="1084.3" cy="877.0" r="5.6" fill="#fff"/><circle cx="1084.3" cy="877.0" r="3.4" fill="#3a3a3a"/>
<text x="1096.0" y="883.5" textLength="105.0" lengthAdjust="spacingAndGlyphs" fill="#05050f" stroke="#fffaf2" stroke-width="4.0" stroke-linejoin="round" paint-order="stroke" style="filter:drop-shadow(0.7px 0.9px 0 #fbeedc)">Frankfurt</text>
<circle cx="1404.5" cy="1211.8" r="5.6" fill="#fff"/><circle cx="1404.5" cy="1211.8" r="3.4" fill="#3a3a3a"/>
<text x="1417.0" y="1218.5" textLength="82.0" lengthAdjust="spacingAndGlyphs" fill="#05050f" stroke="#fffaf2" stroke-width="4.0" stroke-linejoin="round" paint-order="stroke" style="filter:drop-shadow(0.7px 0.9px 0 #fbeedc)">Munich</text>
</g>
</svg>
<!--TEXT-->
<div class="t t0" style="left:50.35px;top:112.56px;font-size:59px;color:#000;transform:scale(1.0748,1)">2025</div>
<div class="t t0" style="left:205.30px;top:112.56px;font-size:59px;color:#000;transform:scale(1.1010,1)">German</div>
<div class="t t0" style="left:455.54px;top:112.56px;font-size:59px;color:#000;transform:scale(1.1140,1)">Federal</div>
<div class="t t0" style="left:695.39px;top:112.56px;font-size:59px;color:#000;transform:scale(1.1527,1)">Election</div>
<div class="t" id="t1" style="left:52.00px;top:332.28px;font-size:80px;color:#000;transform:scale(1.0954,1.0000)">Vote share</div>
<div class="t" id="t2a" style="left:49.18px;top:431.28px;font-size:80px;color:#595959;transform:scale(1.1053,1)">CDU/CSU</div>
<div class="t" id="t2b" style="left:469.51px;top:431.28px;font-size:80px;color:#595959;transform:scale(0.9966,1)">28.6%</div>
<div class="t" id="t3a" style="left:50.60px;top:529.78px;font-size:80px;color:#1c9fe9;transform:scale(1.0954,1)">AfD</div>
<div class="t" id="t3b" style="left:214.53px;top:529.78px;font-size:80px;color:#1c9fe9;transform:scale(0.9887,1)">20.8%</div>
<div class="t" id="t4a" style="left:49.59px;top:629.78px;font-size:80px;color:#e21f2d;transform:scale(0.9715,1)">SDP</div>
<div class="t" id="t4b" style="left:229.23px;top:629.78px;font-size:80px;color:#e21f2d;transform:scale(0.9545,1)">16.4%</div>
<div class="t" id="t5a" style="left:49.54px;top:727.78px;font-size:80px;color:#47c83e;transform:scale(1.0606,1)">The Greens</div>
<div class="t" id="t5b" style="left:516.26px;top:727.78px;font-size:80px;color:#47c83e;transform:scale(0.9474,1)">11.6%</div>
<div class="t" id="t6a" style="left:51.41px;top:826.28px;font-size:80px;color:#a957b7;transform:scale(1.0939,1)">The Left</div>
<div class="t" id="t6b" style="left:398.10px;top:826.28px;font-size:80px;color:#a957b7;transform:scale(0.9661,1)">8.8%</div>
<div class="t" id="t7a" style="left:48.04px;top:925.28px;font-size:80px;color:#ed7d31;transform:scale(1.0599,1)">BSW</div>
<div class="t" id="t7b" style="left:263.03px;top:925.28px;font-size:80px;color:#ed7d31;transform:scale(0.9732,1)">4.97%</div>
<div class="t" id="t8a" style="left:50.30px;top:1025.28px;font-size:80px;color:#fdd50f;transform:scale(0.9917,1)">FDP</div>
<div class="t" id="t8b" style="left:229.67px;top:1025.28px;font-size:80px;color:#fdd50f;transform:scale(0.9324,1)">4.3%</div>
<div class="t" id="t9a" style="left:49.99px;top:1124.03px;font-size:80px;color:#c3d4e3;transform:scale(1.0883,1)">Others</div>
<div class="t" id="t9b" style="left:332.78px;top:1124.03px;font-size:80px;color:#c3d4e3;transform:scale(0.9735,1)">4.6%</div>
<div class="t" id="t10" style="left:34.00px;top:1369.71px;font-size:47px;color:#0a0a0a;transform:scale(1.0634,1.0000)">Source: The Federal Returning Officer, Preliminary official results, February</div>
<div class="t" id="t11" style="left:1717.5px;top:1369.71px;font-size:47px;color:#0a0a0a;transform:scale(0.935,1);-webkit-text-stroke:0">2025</div>
<div id="ul" style="position:absolute;left:50px;top:408.3px;width:421px;height:4.6px;background:#000"></div>
<!--/TEXT-->
</body></html>
